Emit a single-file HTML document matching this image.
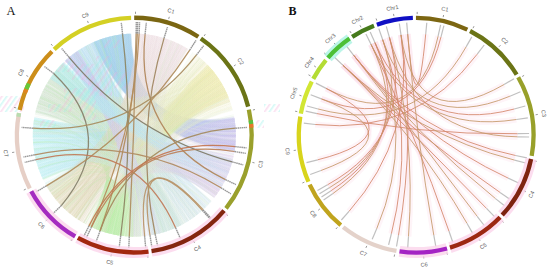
<!DOCTYPE html>
<html><head><meta charset="utf-8"><style>
html,body{margin:0;padding:0;background:#fff;width:550px;height:270px;overflow:hidden;}
svg{display:block;font-family:"Liberation Sans",sans-serif;}
</style></head><body>
<svg width="550" height="270" viewBox="0 0 550 270">
<rect width="550" height="270" fill="#fff"/>
<defs>
<linearGradient id="g0" gradientUnits="userSpaceOnUse" x1="111.5" y1="36.2" x2="235.8" y2="135.1"><stop offset="0" stop-color="#98cce8"/><stop offset="1" stop-color="#c8c4ec"/></linearGradient>
<linearGradient id="g1" gradientUnits="userSpaceOnUse" x1="78.3" y1="50.5" x2="198.9" y2="213.4"><stop offset="0" stop-color="#9ed0ea"/><stop offset="1" stop-color="#d0e4ee"/></linearGradient>
<linearGradient id="g2" gradientUnits="userSpaceOnUse" x1="45.5" y1="85.9" x2="167.3" y2="231.1"><stop offset="0" stop-color="#c4dcc4"/><stop offset="1" stop-color="#c8e2de"/></linearGradient>
<linearGradient id="g3" gradientUnits="userSpaceOnUse" x1="33.8" y1="149.2" x2="225.9" y2="178.8"><stop offset="0" stop-color="#a4eaf0"/><stop offset="1" stop-color="#dcc8e8"/></linearGradient>
<linearGradient id="g4" gradientUnits="userSpaceOnUse" x1="163.1" y1="37.8" x2="61.3" y2="205.6"><stop offset="0" stop-color="#ecd6dc"/><stop offset="1" stop-color="#dcd6b4"/></linearGradient>
<linearGradient id="g5" gradientUnits="userSpaceOnUse" x1="219.4" y1="79.8" x2="114.9" y2="234.7"><stop offset="0" stop-color="#ece894"/><stop offset="1" stop-color="#bcecaa"/></linearGradient>
<linearGradient id="g6" gradientUnits="userSpaceOnUse" x1="218.4" y1="78.3" x2="114.9" y2="234.7"><stop offset="0" stop-color="#f0eccc"/><stop offset="1" stop-color="#d4ecc4"/></linearGradient>
<linearGradient id="g7" gradientUnits="userSpaceOnUse" x1="114.1" y1="234.6" x2="130.8" y2="236.5"><stop offset="0" stop-color="#b4eca4"/><stop offset="1" stop-color="#d8eccc"/></linearGradient>
<linearGradient id="g8" gradientUnits="userSpaceOnUse" x1="59.5" y1="203.7" x2="222.2" y2="84.3"><stop offset="0" stop-color="#dcd6b0"/><stop offset="1" stop-color="#ece8c0"/></linearGradient>
<linearGradient id="g9" gradientUnits="userSpaceOnUse" x1="164.0" y1="38.0" x2="181.2" y2="225.1"><stop offset="0" stop-color="#e6dade"/><stop offset="1" stop-color="#d8e6e2"/></linearGradient>
<linearGradient id="g10" gradientUnits="userSpaceOnUse" x1="97.9" y1="40.3" x2="39.5" y2="171.5"><stop offset="0" stop-color="#b0d8ec"/><stop offset="1" stop-color="#c8eef0"/></linearGradient>
<linearGradient id="g11" gradientUnits="userSpaceOnUse" x1="233.2" y1="157.9" x2="79.0" y2="220.2"><stop offset="0" stop-color="#e0d0ec"/><stop offset="1" stop-color="#e8dcc8"/></linearGradient>
<linearGradient id="g12" gradientUnits="userSpaceOnUse" x1="182.0" y1="224.7" x2="33.6" y2="147.5"><stop offset="0" stop-color="#d4e6dc"/><stop offset="1" stop-color="#c4ecf0"/></linearGradient>
<linearGradient id="g13" gradientUnits="userSpaceOnUse" x1="219.9" y1="80.6" x2="35.8" y2="110.5"><stop offset="0" stop-color="#eeeab8"/><stop offset="1" stop-color="#d8e4d4"/></linearGradient>
<linearGradient id="g14" gradientUnits="userSpaceOnUse" x1="46.4" y1="84.3" x2="217.4" y2="76.9"><stop offset="0" stop-color="#d0e0cc"/><stop offset="1" stop-color="#eeeab8"/></linearGradient>
<linearGradient id="g15" gradientUnits="userSpaceOnUse" x1="71.1" y1="55.7" x2="145.8" y2="235.9"><stop offset="0" stop-color="#c8c0ec"/><stop offset="1" stop-color="#dcd8f0"/></linearGradient>
<linearGradient id="g16" gradientUnits="userSpaceOnUse" x1="56.5" y1="69.9" x2="227.7" y2="174.8"><stop offset="0" stop-color="#a8ecf0"/><stop offset="1" stop-color="#d0e0f4"/></linearGradient>
<pattern id="jp" patternUnits="userSpaceOnUse" width="8" height="8" patternTransform="rotate(35)"><rect width="8" height="8" fill="none"/><rect x="0" y="0" width="1.6" height="8" fill="#f4a8d8"/><rect x="4" y="0" width="1.6" height="8" fill="#88f0e8"/></pattern>
<clipPath id="cA"><circle cx="134.3" cy="135.1" r="101"/></clipPath>
</defs>
<g fill="none" stroke-linecap="butt">
<path d="M93.1,42.4Q134.3,135.1 234.6,150.8" stroke="url(#g0)" stroke-width="1.3" stroke-opacity="0.16"/>
<path d="M93.3,42.3Q134.3,135.1 234.4,151.8" stroke="url(#g0)" stroke-width="0.7" stroke-opacity="0.23"/>
<path d="M93.4,42.2Q134.3,135.1 234.4,152.0" stroke="url(#g0)" stroke-width="0.7" stroke-opacity="0.16"/>
<path d="M93.6,42.1Q134.3,135.1 234.0,153.9" stroke="url(#g0)" stroke-width="0.7" stroke-opacity="0.18"/>
<path d="M93.8,42.0Q134.3,135.1 234.0,154.3" stroke="url(#g0)" stroke-width="1.2" stroke-opacity="0.21"/>
<path d="M94.0,41.9Q134.3,135.1 234.8,149.4" stroke="url(#g0)" stroke-width="1.5" stroke-opacity="0.19"/>
<path d="M94.0,41.9Q134.3,135.1 234.7,149.7" stroke="url(#g0)" stroke-width="0.9" stroke-opacity="0.27"/>
<path d="M94.2,41.9Q134.3,135.1 234.4,152.0" stroke="url(#g0)" stroke-width="1.2" stroke-opacity="0.21"/>
<path d="M94.4,41.8Q134.3,135.1 234.8,149.0" stroke="url(#g0)" stroke-width="0.7" stroke-opacity="0.18"/>
<path d="M94.6,41.7Q134.3,135.1 234.6,150.8" stroke="url(#g0)" stroke-width="0.9" stroke-opacity="0.24"/>
<path d="M94.7,41.6Q134.3,135.1 234.7,150.0" stroke="url(#g0)" stroke-width="1.4" stroke-opacity="0.25"/>
<path d="M94.9,41.6Q134.3,135.1 234.5,151.3" stroke="url(#g0)" stroke-width="1.1" stroke-opacity="0.28"/>
<path d="M95.1,41.5Q134.3,135.1 234.8,149.6" stroke="url(#g0)" stroke-width="1.6" stroke-opacity="0.17"/>
<path d="M95.2,41.4Q134.3,135.1 234.4,151.9" stroke="url(#g0)" stroke-width="0.8" stroke-opacity="0.22"/>
<path d="M95.3,41.4Q134.3,135.1 234.5,151.3" stroke="url(#g0)" stroke-width="1.4" stroke-opacity="0.24"/>
<path d="M95.6,41.2Q134.3,135.1 234.8,149.2" stroke="url(#g0)" stroke-width="1.3" stroke-opacity="0.24"/>
<path d="M95.8,41.2Q134.3,135.1 234.7,149.8" stroke="url(#g0)" stroke-width="1.4" stroke-opacity="0.29"/>
<path d="M95.9,41.1Q134.3,135.1 234.6,150.8" stroke="url(#g0)" stroke-width="0.7" stroke-opacity="0.26"/>
<path d="M96.1,41.1Q134.3,135.1 234.3,152.3" stroke="url(#g0)" stroke-width="1.4" stroke-opacity="0.19"/>
<path d="M96.2,41.0Q134.3,135.1 234.6,150.5" stroke="url(#g0)" stroke-width="0.6" stroke-opacity="0.22"/>
<path d="M96.4,41.0Q134.3,135.1 235.0,147.4" stroke="url(#g0)" stroke-width="0.7" stroke-opacity="0.27"/>
<path d="M96.5,40.9Q134.3,135.1 235.0,148.0" stroke="url(#g0)" stroke-width="1.0" stroke-opacity="0.28"/>
<path d="M96.7,40.8Q134.3,135.1 234.9,148.9" stroke="url(#g0)" stroke-width="1.1" stroke-opacity="0.28"/>
<path d="M97.0,40.7Q134.3,135.1 234.6,150.8" stroke="url(#g0)" stroke-width="0.9" stroke-opacity="0.21"/>
<path d="M97.1,40.7Q134.3,135.1 234.6,150.8" stroke="url(#g0)" stroke-width="1.6" stroke-opacity="0.17"/>
<path d="M97.2,40.6Q134.3,135.1 235.1,147.2" stroke="url(#g0)" stroke-width="0.8" stroke-opacity="0.22"/>
<path d="M97.4,40.5Q134.3,135.1 235.1,147.2" stroke="url(#g0)" stroke-width="0.6" stroke-opacity="0.21"/>
<path d="M97.6,40.5Q134.3,135.1 234.9,148.6" stroke="url(#g0)" stroke-width="1.6" stroke-opacity="0.25"/>
<path d="M97.8,40.4Q134.3,135.1 234.9,148.7" stroke="url(#g0)" stroke-width="1.3" stroke-opacity="0.16"/>
<path d="M98.0,40.3Q134.3,135.1 234.8,149.4" stroke="url(#g0)" stroke-width="1.5" stroke-opacity="0.27"/>
<path d="M98.1,40.3Q134.3,135.1 235.1,147.3" stroke="url(#g0)" stroke-width="0.7" stroke-opacity="0.25"/>
<path d="M98.2,40.2Q134.3,135.1 235.3,145.4" stroke="url(#g0)" stroke-width="0.8" stroke-opacity="0.17"/>
<path d="M98.4,40.2Q134.3,135.1 235.3,145.1" stroke="url(#g0)" stroke-width="0.6" stroke-opacity="0.17"/>
<path d="M98.5,40.1Q134.3,135.1 235.1,146.6" stroke="url(#g0)" stroke-width="0.6" stroke-opacity="0.28"/>
<path d="M98.8,40.0Q134.3,135.1 235.3,145.3" stroke="url(#g0)" stroke-width="0.9" stroke-opacity="0.20"/>
<path d="M98.9,40.0Q134.3,135.1 235.3,145.0" stroke="url(#g0)" stroke-width="1.4" stroke-opacity="0.30"/>
<path d="M99.1,39.9Q134.3,135.1 235.1,146.7" stroke="url(#g0)" stroke-width="0.7" stroke-opacity="0.17"/>
<path d="M99.3,39.8Q134.3,135.1 235.3,145.4" stroke="url(#g0)" stroke-width="1.4" stroke-opacity="0.17"/>
<path d="M99.4,39.8Q134.3,135.1 234.9,148.9" stroke="url(#g0)" stroke-width="1.1" stroke-opacity="0.17"/>
<path d="M99.6,39.7Q134.3,135.1 235.4,143.8" stroke="url(#g0)" stroke-width="1.1" stroke-opacity="0.30"/>
<path d="M99.9,39.6Q134.3,135.1 235.1,147.1" stroke="url(#g0)" stroke-width="0.9" stroke-opacity="0.21"/>
<path d="M99.9,39.6Q134.3,135.1 235.0,147.5" stroke="url(#g0)" stroke-width="1.1" stroke-opacity="0.27"/>
<path d="M100.1,39.5Q134.3,135.1 235.4,144.4" stroke="url(#g0)" stroke-width="1.4" stroke-opacity="0.30"/>
<path d="M100.4,39.4Q134.3,135.1 235.1,147.2" stroke="url(#g0)" stroke-width="1.4" stroke-opacity="0.26"/>
<path d="M100.4,39.4Q134.3,135.1 235.3,145.6" stroke="url(#g0)" stroke-width="1.0" stroke-opacity="0.15"/>
<path d="M100.6,39.4Q134.3,135.1 235.4,144.2" stroke="url(#g0)" stroke-width="0.9" stroke-opacity="0.25"/>
<path d="M100.9,39.3Q134.3,135.1 235.3,144.8" stroke="url(#g0)" stroke-width="1.5" stroke-opacity="0.30"/>
<path d="M101.1,39.2Q134.3,135.1 235.4,144.2" stroke="url(#g0)" stroke-width="0.8" stroke-opacity="0.18"/>
<path d="M101.1,39.2Q134.3,135.1 235.5,143.3" stroke="url(#g0)" stroke-width="1.2" stroke-opacity="0.29"/>
<path d="M101.4,39.1Q134.3,135.1 235.4,144.5" stroke="url(#g0)" stroke-width="1.3" stroke-opacity="0.27"/>
<path d="M101.4,39.1Q134.3,135.1 235.3,145.4" stroke="url(#g0)" stroke-width="1.5" stroke-opacity="0.27"/>
<path d="M101.7,39.0Q134.3,135.1 235.4,144.2" stroke="url(#g0)" stroke-width="0.8" stroke-opacity="0.27"/>
<path d="M101.8,38.9Q134.3,135.1 235.2,145.8" stroke="url(#g0)" stroke-width="1.6" stroke-opacity="0.21"/>
<path d="M102.0,38.9Q134.3,135.1 235.2,146.4" stroke="url(#g0)" stroke-width="1.3" stroke-opacity="0.18"/>
<path d="M102.1,38.8Q134.3,135.1 235.6,142.1" stroke="url(#g0)" stroke-width="1.5" stroke-opacity="0.27"/>
<path d="M102.3,38.8Q134.3,135.1 235.3,145.5" stroke="url(#g0)" stroke-width="1.6" stroke-opacity="0.25"/>
<path d="M102.5,38.7Q134.3,135.1 235.4,143.8" stroke="url(#g0)" stroke-width="0.7" stroke-opacity="0.15"/>
<path d="M102.8,38.6Q134.3,135.1 235.4,144.1" stroke="url(#g0)" stroke-width="1.1" stroke-opacity="0.29"/>
<path d="M102.9,38.6Q134.3,135.1 235.3,145.2" stroke="url(#g0)" stroke-width="1.4" stroke-opacity="0.18"/>
<path d="M103.0,38.5Q134.3,135.1 235.6,142.0" stroke="url(#g0)" stroke-width="0.8" stroke-opacity="0.24"/>
<path d="M103.2,38.5Q134.3,135.1 235.5,142.5" stroke="url(#g0)" stroke-width="0.7" stroke-opacity="0.29"/>
<path d="M103.4,38.4Q134.3,135.1 235.5,142.5" stroke="url(#g0)" stroke-width="1.2" stroke-opacity="0.29"/>
<path d="M103.5,38.4Q134.3,135.1 235.3,144.8" stroke="url(#g0)" stroke-width="1.1" stroke-opacity="0.23"/>
<path d="M103.7,38.3Q134.3,135.1 235.7,139.8" stroke="url(#g0)" stroke-width="1.0" stroke-opacity="0.18"/>
<path d="M103.8,38.3Q134.3,135.1 235.4,143.9" stroke="url(#g0)" stroke-width="0.8" stroke-opacity="0.22"/>
<path d="M104.1,38.2Q134.3,135.1 235.5,142.3" stroke="url(#g0)" stroke-width="0.9" stroke-opacity="0.23"/>
<path d="M104.2,38.2Q134.3,135.1 235.5,143.4" stroke="url(#g0)" stroke-width="0.7" stroke-opacity="0.23"/>
<path d="M104.4,38.1Q134.3,135.1 235.7,140.6" stroke="url(#g0)" stroke-width="1.4" stroke-opacity="0.23"/>
<path d="M104.6,38.0Q134.3,135.1 235.5,142.9" stroke="url(#g0)" stroke-width="1.5" stroke-opacity="0.22"/>
<path d="M104.8,38.0Q134.3,135.1 235.6,141.4" stroke="url(#g0)" stroke-width="1.1" stroke-opacity="0.25"/>
<path d="M104.9,37.9Q134.3,135.1 235.6,141.4" stroke="url(#g0)" stroke-width="1.1" stroke-opacity="0.29"/>
<path d="M105.1,37.9Q134.3,135.1 235.5,143.0" stroke="url(#g0)" stroke-width="1.5" stroke-opacity="0.19"/>
<path d="M105.3,37.8Q134.3,135.1 235.5,143.3" stroke="url(#g0)" stroke-width="1.4" stroke-opacity="0.17"/>
<path d="M105.4,37.8Q134.3,135.1 235.7,140.5" stroke="url(#g0)" stroke-width="0.7" stroke-opacity="0.19"/>
<path d="M105.5,37.8Q134.3,135.1 235.6,141.6" stroke="url(#g0)" stroke-width="1.4" stroke-opacity="0.28"/>
<path d="M105.7,37.7Q134.3,135.1 235.6,141.6" stroke="url(#g0)" stroke-width="1.3" stroke-opacity="0.17"/>
<path d="M106.0,37.6Q134.3,135.1 235.5,142.7" stroke="url(#g0)" stroke-width="0.8" stroke-opacity="0.29"/>
<path d="M106.1,37.6Q134.3,135.1 235.7,140.0" stroke="url(#g0)" stroke-width="1.6" stroke-opacity="0.27"/>
<path d="M106.3,37.6Q134.3,135.1 235.7,139.6" stroke="url(#g0)" stroke-width="1.1" stroke-opacity="0.20"/>
<path d="M106.4,37.5Q134.3,135.1 235.7,138.9" stroke="url(#g0)" stroke-width="1.3" stroke-opacity="0.15"/>
<path d="M106.7,37.4Q134.3,135.1 235.7,139.3" stroke="url(#g0)" stroke-width="0.6" stroke-opacity="0.20"/>
<path d="M106.9,37.4Q134.3,135.1 235.7,139.5" stroke="url(#g0)" stroke-width="0.7" stroke-opacity="0.30"/>
<path d="M107.1,37.3Q134.3,135.1 235.6,141.7" stroke="url(#g0)" stroke-width="0.7" stroke-opacity="0.19"/>
<path d="M107.1,37.3Q134.3,135.1 235.6,140.7" stroke="url(#g0)" stroke-width="0.9" stroke-opacity="0.17"/>
<path d="M107.3,37.2Q134.3,135.1 235.6,141.2" stroke="url(#g0)" stroke-width="1.4" stroke-opacity="0.19"/>
<path d="M107.5,37.2Q134.3,135.1 235.6,141.1" stroke="url(#g0)" stroke-width="1.2" stroke-opacity="0.26"/>
<path d="M107.6,37.2Q134.3,135.1 235.8,136.3" stroke="url(#g0)" stroke-width="1.3" stroke-opacity="0.21"/>
<path d="M107.8,37.1Q134.3,135.1 235.6,140.9" stroke="url(#g0)" stroke-width="1.2" stroke-opacity="0.27"/>
<path d="M108.0,37.1Q134.3,135.1 235.7,140.3" stroke="url(#g0)" stroke-width="0.7" stroke-opacity="0.28"/>
<path d="M108.2,37.0Q134.3,135.1 235.8,137.3" stroke="url(#g0)" stroke-width="1.2" stroke-opacity="0.29"/>
<path d="M108.4,37.0Q134.3,135.1 235.8,136.0" stroke="url(#g0)" stroke-width="1.1" stroke-opacity="0.19"/>
<path d="M108.5,36.9Q134.3,135.1 235.8,136.1" stroke="url(#g0)" stroke-width="0.7" stroke-opacity="0.18"/>
<path d="M108.7,36.9Q134.3,135.1 235.8,136.6" stroke="url(#g0)" stroke-width="1.4" stroke-opacity="0.19"/>
<path d="M108.9,36.8Q134.3,135.1 235.8,135.8" stroke="url(#g0)" stroke-width="0.9" stroke-opacity="0.15"/>
<path d="M109.1,36.8Q134.3,135.1 235.8,134.8" stroke="url(#g0)" stroke-width="1.3" stroke-opacity="0.23"/>
<path d="M109.2,36.7Q134.3,135.1 235.8,137.1" stroke="url(#g0)" stroke-width="1.5" stroke-opacity="0.17"/>
<path d="M109.5,36.7Q134.3,135.1 235.8,136.6" stroke="url(#g0)" stroke-width="1.1" stroke-opacity="0.28"/>
<path d="M109.6,36.6Q134.3,135.1 235.8,136.9" stroke="url(#g0)" stroke-width="1.3" stroke-opacity="0.30"/>
<path d="M109.8,36.6Q134.3,135.1 235.7,138.4" stroke="url(#g0)" stroke-width="1.3" stroke-opacity="0.25"/>
<path d="M110.0,36.6Q134.3,135.1 235.8,135.7" stroke="url(#g0)" stroke-width="0.7" stroke-opacity="0.17"/>
<path d="M110.1,36.5Q134.3,135.1 235.8,137.7" stroke="url(#g0)" stroke-width="0.9" stroke-opacity="0.17"/>
<path d="M110.3,36.5Q134.3,135.1 235.8,138.0" stroke="url(#g0)" stroke-width="1.5" stroke-opacity="0.25"/>
<path d="M110.5,36.4Q134.3,135.1 235.8,134.7" stroke="url(#g0)" stroke-width="0.9" stroke-opacity="0.22"/>
<path d="M110.6,36.4Q134.3,135.1 235.8,135.6" stroke="url(#g0)" stroke-width="0.9" stroke-opacity="0.29"/>
<path d="M110.9,36.3Q134.3,135.1 235.8,135.8" stroke="url(#g0)" stroke-width="0.8" stroke-opacity="0.29"/>
<path d="M111.0,36.3Q134.3,135.1 235.8,134.8" stroke="url(#g0)" stroke-width="0.6" stroke-opacity="0.21"/>
<path d="M111.2,36.3Q134.3,135.1 235.8,135.4" stroke="url(#g0)" stroke-width="0.8" stroke-opacity="0.23"/>
<path d="M111.3,36.2Q134.3,135.1 235.8,134.0" stroke="url(#g0)" stroke-width="0.7" stroke-opacity="0.21"/>
<path d="M111.5,36.2Q134.3,135.1 235.8,132.6" stroke="url(#g0)" stroke-width="0.9" stroke-opacity="0.18"/>
<path d="M111.7,36.1Q134.3,135.1 235.8,135.0" stroke="url(#g0)" stroke-width="1.4" stroke-opacity="0.25"/>
<path d="M111.9,36.1Q134.3,135.1 235.8,136.7" stroke="url(#g0)" stroke-width="1.0" stroke-opacity="0.20"/>
<path d="M112.2,36.0Q134.3,135.1 235.8,132.6" stroke="url(#g0)" stroke-width="1.3" stroke-opacity="0.25"/>
<path d="M112.2,36.0Q134.3,135.1 235.8,136.2" stroke="url(#g0)" stroke-width="1.5" stroke-opacity="0.24"/>
<path d="M112.5,36.0Q134.3,135.1 235.8,135.8" stroke="url(#g0)" stroke-width="0.7" stroke-opacity="0.23"/>
<path d="M112.6,35.9Q134.3,135.1 235.8,135.8" stroke="url(#g0)" stroke-width="1.4" stroke-opacity="0.27"/>
<path d="M112.8,35.9Q134.3,135.1 235.8,135.9" stroke="url(#g0)" stroke-width="1.3" stroke-opacity="0.25"/>
<path d="M112.9,35.9Q134.3,135.1 235.7,131.3" stroke="url(#g0)" stroke-width="0.7" stroke-opacity="0.20"/>
<path d="M113.1,35.8Q134.3,135.1 235.8,135.4" stroke="url(#g0)" stroke-width="1.2" stroke-opacity="0.24"/>
<path d="M113.3,35.8Q134.3,135.1 235.8,134.3" stroke="url(#g0)" stroke-width="1.1" stroke-opacity="0.15"/>
<path d="M113.5,35.7Q134.3,135.1 235.8,134.5" stroke="url(#g0)" stroke-width="1.1" stroke-opacity="0.23"/>
<path d="M113.7,35.7Q134.3,135.1 235.7,130.7" stroke="url(#g0)" stroke-width="1.3" stroke-opacity="0.19"/>
<path d="M113.8,35.7Q134.3,135.1 235.7,131.7" stroke="url(#g0)" stroke-width="1.3" stroke-opacity="0.18"/>
<path d="M114.1,35.6Q134.3,135.1 235.8,135.2" stroke="url(#g0)" stroke-width="1.1" stroke-opacity="0.21"/>
<path d="M114.2,35.6Q134.3,135.1 235.8,133.5" stroke="url(#g0)" stroke-width="1.4" stroke-opacity="0.24"/>
<path d="M114.4,35.6Q134.3,135.1 235.7,130.1" stroke="url(#g0)" stroke-width="0.7" stroke-opacity="0.19"/>
<path d="M114.6,35.5Q134.3,135.1 235.7,131.2" stroke="url(#g0)" stroke-width="1.2" stroke-opacity="0.15"/>
<path d="M114.7,35.5Q134.3,135.1 235.7,130.9" stroke="url(#g0)" stroke-width="1.3" stroke-opacity="0.25"/>
<path d="M114.9,35.5Q134.3,135.1 235.7,130.8" stroke="url(#g0)" stroke-width="1.1" stroke-opacity="0.22"/>
<path d="M115.1,35.4Q134.3,135.1 235.7,129.7" stroke="url(#g0)" stroke-width="1.5" stroke-opacity="0.18"/>
<path d="M115.3,35.4Q134.3,135.1 235.8,133.8" stroke="url(#g0)" stroke-width="0.6" stroke-opacity="0.22"/>
<path d="M115.5,35.4Q134.3,135.1 235.8,133.8" stroke="url(#g0)" stroke-width="1.0" stroke-opacity="0.19"/>
<path d="M115.6,35.3Q134.3,135.1 235.8,133.7" stroke="url(#g0)" stroke-width="0.8" stroke-opacity="0.24"/>
<path d="M115.7,35.3Q134.3,135.1 235.7,131.3" stroke="url(#g0)" stroke-width="1.6" stroke-opacity="0.17"/>
<path d="M116.0,35.3Q134.3,135.1 235.7,130.9" stroke="url(#g0)" stroke-width="1.5" stroke-opacity="0.26"/>
<path d="M116.1,35.2Q134.3,135.1 235.8,132.9" stroke="url(#g0)" stroke-width="1.1" stroke-opacity="0.15"/>
<path d="M116.2,35.2Q134.3,135.1 235.7,130.6" stroke="url(#g0)" stroke-width="1.1" stroke-opacity="0.20"/>
<path d="M116.4,35.2Q134.3,135.1 235.7,129.7" stroke="url(#g0)" stroke-width="0.9" stroke-opacity="0.28"/>
<path d="M116.6,35.2Q134.3,135.1 235.7,131.7" stroke="url(#g0)" stroke-width="1.4" stroke-opacity="0.17"/>
<path d="M116.9,35.1Q134.3,135.1 235.7,131.2" stroke="url(#g0)" stroke-width="1.5" stroke-opacity="0.19"/>
<path d="M117.0,35.1Q134.3,135.1 235.6,129.4" stroke="url(#g0)" stroke-width="1.6" stroke-opacity="0.24"/>
<path d="M117.2,35.1Q134.3,135.1 235.6,129.4" stroke="url(#g0)" stroke-width="0.9" stroke-opacity="0.16"/>
<path d="M117.3,35.0Q134.3,135.1 235.7,131.4" stroke="url(#g0)" stroke-width="0.9" stroke-opacity="0.29"/>
<path d="M117.5,35.0Q134.3,135.1 235.6,128.2" stroke="url(#g0)" stroke-width="1.1" stroke-opacity="0.18"/>
<path d="M117.7,35.0Q134.3,135.1 235.7,131.7" stroke="url(#g0)" stroke-width="1.5" stroke-opacity="0.27"/>
<path d="M118.0,34.9Q134.3,135.1 235.7,131.3" stroke="url(#g0)" stroke-width="1.5" stroke-opacity="0.23"/>
<path d="M118.1,34.9Q134.3,135.1 235.4,126.5" stroke="url(#g0)" stroke-width="1.3" stroke-opacity="0.22"/>
<path d="M118.3,34.9Q134.3,135.1 235.6,129.5" stroke="url(#g0)" stroke-width="0.9" stroke-opacity="0.16"/>
<path d="M118.5,34.8Q134.3,135.1 235.4,126.6" stroke="url(#g0)" stroke-width="1.1" stroke-opacity="0.20"/>
<path d="M118.6,34.8Q134.3,135.1 235.7,129.8" stroke="url(#g0)" stroke-width="1.6" stroke-opacity="0.19"/>
<path d="M118.8,34.8Q134.3,135.1 235.5,127.2" stroke="url(#g0)" stroke-width="1.2" stroke-opacity="0.21"/>
<path d="M118.9,34.8Q134.3,135.1 235.4,126.4" stroke="url(#g0)" stroke-width="0.8" stroke-opacity="0.29"/>
<path d="M119.2,34.7Q134.3,135.1 235.4,126.5" stroke="url(#g0)" stroke-width="1.5" stroke-opacity="0.30"/>
<path d="M119.3,34.7Q134.3,135.1 235.4,125.9" stroke="url(#g0)" stroke-width="0.8" stroke-opacity="0.16"/>
<path d="M119.5,34.7Q134.3,135.1 235.3,125.5" stroke="url(#g0)" stroke-width="0.8" stroke-opacity="0.19"/>
<path d="M119.7,34.7Q134.3,135.1 235.6,129.5" stroke="url(#g0)" stroke-width="1.3" stroke-opacity="0.21"/>
<path d="M119.9,34.6Q134.3,135.1 235.5,127.5" stroke="url(#g0)" stroke-width="1.0" stroke-opacity="0.20"/>
<path d="M120.0,34.6Q134.3,135.1 235.4,126.0" stroke="url(#g0)" stroke-width="1.6" stroke-opacity="0.17"/>
<path d="M120.2,34.6Q134.3,135.1 235.5,127.7" stroke="url(#g0)" stroke-width="1.5" stroke-opacity="0.18"/>
<path d="M120.4,34.6Q134.3,135.1 235.3,125.5" stroke="url(#g0)" stroke-width="1.0" stroke-opacity="0.22"/>
<path d="M120.7,34.5Q134.3,135.1 235.6,128.4" stroke="url(#g0)" stroke-width="1.5" stroke-opacity="0.15"/>
<path d="M120.7,34.5Q134.3,135.1 235.5,127.7" stroke="url(#g0)" stroke-width="1.5" stroke-opacity="0.22"/>
<path d="M121.0,34.5Q134.3,135.1 235.2,123.7" stroke="url(#g0)" stroke-width="1.0" stroke-opacity="0.29"/>
<path d="M121.2,34.4Q134.3,135.1 235.6,128.0" stroke="url(#g0)" stroke-width="1.6" stroke-opacity="0.19"/>
<path d="M121.3,34.4Q134.3,135.1 235.2,124.2" stroke="url(#g0)" stroke-width="1.1" stroke-opacity="0.25"/>
<path d="M121.6,34.4Q134.3,135.1 235.5,126.9" stroke="url(#g0)" stroke-width="1.2" stroke-opacity="0.26"/>
<path d="M121.7,34.4Q134.3,135.1 235.4,126.0" stroke="url(#g0)" stroke-width="0.6" stroke-opacity="0.27"/>
<path d="M121.8,34.4Q134.3,135.1 235.5,127.8" stroke="url(#g0)" stroke-width="1.2" stroke-opacity="0.20"/>
<path d="M122.0,34.4Q134.3,135.1 235.2,124.1" stroke="url(#g0)" stroke-width="1.2" stroke-opacity="0.25"/>
<path d="M122.1,34.3Q134.3,135.1 235.1,123.0" stroke="url(#g0)" stroke-width="1.1" stroke-opacity="0.24"/>
<path d="M122.4,34.3Q134.3,135.1 235.1,123.6" stroke="url(#g0)" stroke-width="1.2" stroke-opacity="0.15"/>
<path d="M122.5,34.3Q134.3,135.1 235.3,124.7" stroke="url(#g0)" stroke-width="1.6" stroke-opacity="0.25"/>
<path d="M122.8,34.3Q134.3,135.1 235.2,124.5" stroke="url(#g0)" stroke-width="0.8" stroke-opacity="0.19"/>
<path d="M123.0,34.2Q134.3,135.1 235.3,125.5" stroke="url(#g0)" stroke-width="0.9" stroke-opacity="0.15"/>
<path d="M123.1,34.2Q134.3,135.1 235.3,125.3" stroke="url(#g0)" stroke-width="1.0" stroke-opacity="0.19"/>
<path d="M123.3,34.2Q134.3,135.1 235.4,126.4" stroke="url(#g0)" stroke-width="0.8" stroke-opacity="0.16"/>
<path d="M123.4,34.2Q134.3,135.1 235.2,123.7" stroke="url(#g0)" stroke-width="1.3" stroke-opacity="0.18"/>
<path d="M123.7,34.2Q134.3,135.1 235.3,125.1" stroke="url(#g0)" stroke-width="1.1" stroke-opacity="0.18"/>
<path d="M123.9,34.1Q134.3,135.1 235.0,122.7" stroke="url(#g0)" stroke-width="1.4" stroke-opacity="0.18"/>
<path d="M124.0,34.1Q134.3,135.1 235.3,125.0" stroke="url(#g0)" stroke-width="0.9" stroke-opacity="0.29"/>
<path d="M124.2,34.1Q134.3,135.1 234.9,121.7" stroke="url(#g0)" stroke-width="0.8" stroke-opacity="0.21"/>
<path d="M124.4,34.1Q134.3,135.1 235.4,125.6" stroke="url(#g0)" stroke-width="0.7" stroke-opacity="0.21"/>
<path d="M124.5,34.1Q134.3,135.1 235.4,125.6" stroke="url(#g0)" stroke-width="0.7" stroke-opacity="0.16"/>
<path d="M124.6,34.1Q134.3,135.1 235.0,122.4" stroke="url(#g0)" stroke-width="1.5" stroke-opacity="0.28"/>
<path d="M124.9,34.0Q134.3,135.1 235.3,125.3" stroke="url(#g0)" stroke-width="1.5" stroke-opacity="0.20"/>
<path d="M125.0,34.0Q134.3,135.1 235.3,124.9" stroke="url(#g0)" stroke-width="1.3" stroke-opacity="0.15"/>
<path d="M125.3,34.0Q134.3,135.1 234.9,121.8" stroke="url(#g0)" stroke-width="1.0" stroke-opacity="0.20"/>
<path d="M125.4,34.0Q134.3,135.1 234.6,119.7" stroke="url(#g0)" stroke-width="0.9" stroke-opacity="0.20"/>
<path d="M125.7,34.0Q134.3,135.1 234.7,120.0" stroke="url(#g0)" stroke-width="1.6" stroke-opacity="0.18"/>
<path d="M125.8,34.0Q134.3,135.1 235.2,123.7" stroke="url(#g0)" stroke-width="1.4" stroke-opacity="0.21"/>
<path d="M125.9,33.9Q134.3,135.1 234.9,121.7" stroke="url(#g0)" stroke-width="1.0" stroke-opacity="0.29"/>
<path d="M126.1,33.9Q134.3,135.1 234.8,120.9" stroke="url(#g0)" stroke-width="1.5" stroke-opacity="0.15"/>
<path d="M126.3,33.9Q134.3,135.1 235.1,123.1" stroke="url(#g0)" stroke-width="1.4" stroke-opacity="0.16"/>
<path d="M126.4,33.9Q134.3,135.1 234.5,119.1" stroke="url(#g0)" stroke-width="1.5" stroke-opacity="0.19"/>
<path d="M126.7,33.9Q134.3,135.1 235.1,123.2" stroke="url(#g0)" stroke-width="0.9" stroke-opacity="0.19"/>
<path d="M127.0,33.9Q134.3,135.1 234.9,121.5" stroke="url(#g0)" stroke-width="0.9" stroke-opacity="0.26"/>
<path d="M127.0,33.9Q134.3,135.1 234.6,119.6" stroke="url(#g0)" stroke-width="0.6" stroke-opacity="0.26"/>
<path d="M127.3,33.8Q134.3,135.1 234.9,121.3" stroke="url(#g0)" stroke-width="1.5" stroke-opacity="0.15"/>
<path d="M127.4,33.8Q134.3,135.1 234.7,120.4" stroke="url(#g0)" stroke-width="1.6" stroke-opacity="0.29"/>
<path d="M127.6,33.8Q134.3,135.1 234.5,119.0" stroke="url(#g0)" stroke-width="1.0" stroke-opacity="0.22"/>
<path d="M127.9,33.8Q134.3,135.1 234.4,118.4" stroke="url(#g0)" stroke-width="1.4" stroke-opacity="0.26"/>
<path d="M128.0,33.8Q134.3,135.1 234.9,121.4" stroke="url(#g0)" stroke-width="1.2" stroke-opacity="0.20"/>
<path d="M128.1,33.8Q134.3,135.1 234.5,119.1" stroke="url(#g0)" stroke-width="1.4" stroke-opacity="0.16"/>
<path d="M128.3,33.8Q134.3,135.1 234.8,121.0" stroke="url(#g0)" stroke-width="0.8" stroke-opacity="0.16"/>
<path d="M128.4,33.8Q134.3,135.1 234.6,119.8" stroke="url(#g0)" stroke-width="0.9" stroke-opacity="0.30"/>
<path d="M128.8,33.8Q134.3,135.1 234.9,121.8" stroke="url(#g0)" stroke-width="0.9" stroke-opacity="0.16"/>
<path d="M128.8,33.7Q134.3,135.1 234.6,119.2" stroke="url(#g0)" stroke-width="1.3" stroke-opacity="0.22"/>
<path d="M129.0,33.7Q134.3,135.1 234.5,118.6" stroke="url(#g0)" stroke-width="1.2" stroke-opacity="0.25"/>
<path d="M129.3,33.7Q134.3,135.1 234.8,120.6" stroke="url(#g0)" stroke-width="1.3" stroke-opacity="0.17"/>
<path d="M129.5,33.7Q134.3,135.1 234.3,117.6" stroke="url(#g0)" stroke-width="1.2" stroke-opacity="0.21"/>
<path d="M129.6,33.7Q134.3,135.1 234.2,116.9" stroke="url(#g0)" stroke-width="0.8" stroke-opacity="0.19"/>
<path d="M129.7,33.7Q134.3,135.1 234.7,120.4" stroke="url(#g0)" stroke-width="1.2" stroke-opacity="0.20"/>
<path d="M129.9,33.7Q134.3,135.1 234.8,120.8" stroke="url(#g0)" stroke-width="1.1" stroke-opacity="0.18"/>
<path d="M130.2,33.7Q134.3,135.1 234.5,118.8" stroke="url(#g0)" stroke-width="1.6" stroke-opacity="0.17"/>
<path d="M130.3,33.7Q134.3,135.1 234.6,119.6" stroke="url(#g0)" stroke-width="1.4" stroke-opacity="0.29"/>
<path d="M130.4,33.7Q134.3,135.1 234.1,116.7" stroke="url(#g0)" stroke-width="0.7" stroke-opacity="0.18"/>
<path d="M130.8,33.7Q134.3,135.1 234.3,117.9" stroke="url(#g0)" stroke-width="1.5" stroke-opacity="0.21"/>
<path d="M65.2,60.7Q134.3,135.1 185.5,222.7" stroke="url(#g1)" stroke-width="0.9" stroke-opacity="0.18"/>
<path d="M65.5,60.5Q134.3,135.1 187.3,221.7" stroke="url(#g1)" stroke-width="1.2" stroke-opacity="0.16"/>
<path d="M65.5,60.5Q134.3,135.1 186.2,222.3" stroke="url(#g1)" stroke-width="0.7" stroke-opacity="0.12"/>
<path d="M65.7,60.3Q134.3,135.1 185.3,222.8" stroke="url(#g1)" stroke-width="1.3" stroke-opacity="0.12"/>
<path d="M65.9,60.1Q134.3,135.1 186.8,222.0" stroke="url(#g1)" stroke-width="1.3" stroke-opacity="0.12"/>
<path d="M66.1,59.9Q134.3,135.1 187.6,221.5" stroke="url(#g1)" stroke-width="1.4" stroke-opacity="0.15"/>
<path d="M66.3,59.8Q134.3,135.1 188.3,221.1" stroke="url(#g1)" stroke-width="1.0" stroke-opacity="0.16"/>
<path d="M66.6,59.5Q134.3,135.1 188.7,220.8" stroke="url(#g1)" stroke-width="0.8" stroke-opacity="0.17"/>
<path d="M66.7,59.4Q134.3,135.1 188.0,221.3" stroke="url(#g1)" stroke-width="0.9" stroke-opacity="0.20"/>
<path d="M66.9,59.2Q134.3,135.1 186.9,221.9" stroke="url(#g1)" stroke-width="1.0" stroke-opacity="0.14"/>
<path d="M67.2,58.9Q134.3,135.1 185.3,222.9" stroke="url(#g1)" stroke-width="1.0" stroke-opacity="0.12"/>
<path d="M67.4,58.8Q134.3,135.1 189.1,220.6" stroke="url(#g1)" stroke-width="0.6" stroke-opacity="0.19"/>
<path d="M67.5,58.6Q134.3,135.1 186.4,222.2" stroke="url(#g1)" stroke-width="1.0" stroke-opacity="0.19"/>
<path d="M67.7,58.5Q134.3,135.1 189.6,220.2" stroke="url(#g1)" stroke-width="0.6" stroke-opacity="0.16"/>
<path d="M68.0,58.3Q134.3,135.1 186.5,222.1" stroke="url(#g1)" stroke-width="0.7" stroke-opacity="0.16"/>
<path d="M68.1,58.1Q134.3,135.1 188.5,220.9" stroke="url(#g1)" stroke-width="0.7" stroke-opacity="0.13"/>
<path d="M68.4,57.9Q134.3,135.1 186.9,221.9" stroke="url(#g1)" stroke-width="0.7" stroke-opacity="0.15"/>
<path d="M68.6,57.7Q134.3,135.1 187.0,221.8" stroke="url(#g1)" stroke-width="0.8" stroke-opacity="0.11"/>
<path d="M68.9,57.5Q134.3,135.1 187.2,221.7" stroke="url(#g1)" stroke-width="1.1" stroke-opacity="0.11"/>
<path d="M69.1,57.3Q134.3,135.1 190.1,219.9" stroke="url(#g1)" stroke-width="1.5" stroke-opacity="0.16"/>
<path d="M69.2,57.2Q134.3,135.1 191.3,219.1" stroke="url(#g1)" stroke-width="1.4" stroke-opacity="0.12"/>
<path d="M69.4,57.1Q134.3,135.1 188.4,221.0" stroke="url(#g1)" stroke-width="1.4" stroke-opacity="0.12"/>
<path d="M69.5,56.9Q134.3,135.1 190.5,219.6" stroke="url(#g1)" stroke-width="1.1" stroke-opacity="0.14"/>
<path d="M69.7,56.8Q134.3,135.1 191.4,219.0" stroke="url(#g1)" stroke-width="1.3" stroke-opacity="0.19"/>
<path d="M69.9,56.6Q134.3,135.1 190.2,219.8" stroke="url(#g1)" stroke-width="1.4" stroke-opacity="0.10"/>
<path d="M70.3,56.3Q134.3,135.1 192.6,218.2" stroke="url(#g1)" stroke-width="1.2" stroke-opacity="0.16"/>
<path d="M70.4,56.2Q134.3,135.1 191.9,218.7" stroke="url(#g1)" stroke-width="1.0" stroke-opacity="0.16"/>
<path d="M70.6,56.1Q134.3,135.1 190.6,219.6" stroke="url(#g1)" stroke-width="1.0" stroke-opacity="0.14"/>
<path d="M70.7,56.0Q134.3,135.1 190.9,219.4" stroke="url(#g1)" stroke-width="1.1" stroke-opacity="0.12"/>
<path d="M71.1,55.7Q134.3,135.1 190.5,219.6" stroke="url(#g1)" stroke-width="1.1" stroke-opacity="0.12"/>
<path d="M71.2,55.6Q134.3,135.1 193.6,217.4" stroke="url(#g1)" stroke-width="0.7" stroke-opacity="0.14"/>
<path d="M71.4,55.5Q134.3,135.1 192.3,218.4" stroke="url(#g1)" stroke-width="1.1" stroke-opacity="0.10"/>
<path d="M71.7,55.2Q134.3,135.1 194.2,217.0" stroke="url(#g1)" stroke-width="1.3" stroke-opacity="0.18"/>
<path d="M71.9,55.1Q134.3,135.1 194.5,216.8" stroke="url(#g1)" stroke-width="1.1" stroke-opacity="0.14"/>
<path d="M72.2,54.8Q134.3,135.1 194.5,216.8" stroke="url(#g1)" stroke-width="1.5" stroke-opacity="0.20"/>
<path d="M72.4,54.7Q134.3,135.1 191.7,218.8" stroke="url(#g1)" stroke-width="0.8" stroke-opacity="0.20"/>
<path d="M72.5,54.6Q134.3,135.1 191.3,219.1" stroke="url(#g1)" stroke-width="1.5" stroke-opacity="0.12"/>
<path d="M72.8,54.4Q134.3,135.1 191.7,218.8" stroke="url(#g1)" stroke-width="0.7" stroke-opacity="0.14"/>
<path d="M73.0,54.2Q134.3,135.1 195.2,216.3" stroke="url(#g1)" stroke-width="1.5" stroke-opacity="0.13"/>
<path d="M73.2,54.0Q134.3,135.1 195.5,216.1" stroke="url(#g1)" stroke-width="1.1" stroke-opacity="0.19"/>
<path d="M73.3,54.0Q134.3,135.1 195.1,216.4" stroke="url(#g1)" stroke-width="1.1" stroke-opacity="0.13"/>
<path d="M73.5,53.8Q134.3,135.1 195.6,216.0" stroke="url(#g1)" stroke-width="0.8" stroke-opacity="0.19"/>
<path d="M73.8,53.6Q134.3,135.1 192.9,218.0" stroke="url(#g1)" stroke-width="0.8" stroke-opacity="0.18"/>
<path d="M73.9,53.5Q134.3,135.1 194.5,216.8" stroke="url(#g1)" stroke-width="1.2" stroke-opacity="0.14"/>
<path d="M74.3,53.2Q134.3,135.1 194.8,216.6" stroke="url(#g1)" stroke-width="1.2" stroke-opacity="0.19"/>
<path d="M74.4,53.2Q134.3,135.1 193.0,217.9" stroke="url(#g1)" stroke-width="1.2" stroke-opacity="0.14"/>
<path d="M74.7,52.9Q134.3,135.1 196.5,215.3" stroke="url(#g1)" stroke-width="1.6" stroke-opacity="0.16"/>
<path d="M74.8,52.8Q134.3,135.1 194.5,216.9" stroke="url(#g1)" stroke-width="1.0" stroke-opacity="0.12"/>
<path d="M75.1,52.6Q134.3,135.1 197.8,214.3" stroke="url(#g1)" stroke-width="1.4" stroke-opacity="0.13"/>
<path d="M75.3,52.5Q134.3,135.1 194.0,217.2" stroke="url(#g1)" stroke-width="1.2" stroke-opacity="0.17"/>
<path d="M75.5,52.4Q134.3,135.1 198.3,213.9" stroke="url(#g1)" stroke-width="0.6" stroke-opacity="0.11"/>
<path d="M75.8,52.2Q134.3,135.1 196.8,215.1" stroke="url(#g1)" stroke-width="1.1" stroke-opacity="0.19"/>
<path d="M75.9,52.1Q134.3,135.1 197.7,214.3" stroke="url(#g1)" stroke-width="1.3" stroke-opacity="0.10"/>
<path d="M76.1,52.0Q134.3,135.1 197.4,214.6" stroke="url(#g1)" stroke-width="0.7" stroke-opacity="0.14"/>
<path d="M76.3,51.8Q134.3,135.1 196.7,215.2" stroke="url(#g1)" stroke-width="1.2" stroke-opacity="0.12"/>
<path d="M76.6,51.6Q134.3,135.1 197.4,214.6" stroke="url(#g1)" stroke-width="0.7" stroke-opacity="0.19"/>
<path d="M76.8,51.5Q134.3,135.1 198.9,213.4" stroke="url(#g1)" stroke-width="0.7" stroke-opacity="0.16"/>
<path d="M77.1,51.2Q134.3,135.1 196.6,215.2" stroke="url(#g1)" stroke-width="1.0" stroke-opacity="0.13"/>
<path d="M77.2,51.2Q134.3,135.1 197.2,214.7" stroke="url(#g1)" stroke-width="1.2" stroke-opacity="0.14"/>
<path d="M77.5,51.0Q134.3,135.1 198.4,213.8" stroke="url(#g1)" stroke-width="1.5" stroke-opacity="0.17"/>
<path d="M77.7,50.9Q134.3,135.1 196.6,215.2" stroke="url(#g1)" stroke-width="0.6" stroke-opacity="0.15"/>
<path d="M77.9,50.7Q134.3,135.1 199.6,212.8" stroke="url(#g1)" stroke-width="0.7" stroke-opacity="0.18"/>
<path d="M78.1,50.6Q134.3,135.1 198.4,213.8" stroke="url(#g1)" stroke-width="1.5" stroke-opacity="0.11"/>
<path d="M78.3,50.4Q134.3,135.1 198.5,213.8" stroke="url(#g1)" stroke-width="1.1" stroke-opacity="0.16"/>
<path d="M78.7,50.2Q134.3,135.1 200.6,212.0" stroke="url(#g1)" stroke-width="0.9" stroke-opacity="0.13"/>
<path d="M78.7,50.2Q134.3,135.1 197.7,214.4" stroke="url(#g1)" stroke-width="1.4" stroke-opacity="0.17"/>
<path d="M78.9,50.0Q134.3,135.1 198.1,214.1" stroke="url(#g1)" stroke-width="1.3" stroke-opacity="0.15"/>
<path d="M79.3,49.8Q134.3,135.1 200.0,212.4" stroke="url(#g1)" stroke-width="0.8" stroke-opacity="0.11"/>
<path d="M79.4,49.7Q134.3,135.1 201.8,210.9" stroke="url(#g1)" stroke-width="0.9" stroke-opacity="0.17"/>
<path d="M79.8,49.5Q134.3,135.1 198.8,213.4" stroke="url(#g1)" stroke-width="1.3" stroke-opacity="0.13"/>
<path d="M80.0,49.4Q134.3,135.1 200.7,211.9" stroke="url(#g1)" stroke-width="1.4" stroke-opacity="0.15"/>
<path d="M80.1,49.3Q134.3,135.1 200.0,212.5" stroke="url(#g1)" stroke-width="1.6" stroke-opacity="0.12"/>
<path d="M80.5,49.0Q134.3,135.1 202.8,210.0" stroke="url(#g1)" stroke-width="0.9" stroke-opacity="0.12"/>
<path d="M80.7,48.9Q134.3,135.1 199.3,213.1" stroke="url(#g1)" stroke-width="1.3" stroke-opacity="0.13"/>
<path d="M81.0,48.8Q134.3,135.1 202.0,210.8" stroke="url(#g1)" stroke-width="0.8" stroke-opacity="0.19"/>
<path d="M81.1,48.6Q134.3,135.1 200.7,211.9" stroke="url(#g1)" stroke-width="1.3" stroke-opacity="0.20"/>
<path d="M81.3,48.5Q134.3,135.1 200.2,212.3" stroke="url(#g1)" stroke-width="1.3" stroke-opacity="0.19"/>
<path d="M81.5,48.4Q134.3,135.1 200.9,211.7" stroke="url(#g1)" stroke-width="1.2" stroke-opacity="0.13"/>
<path d="M81.7,48.3Q134.3,135.1 201.5,211.2" stroke="url(#g1)" stroke-width="0.7" stroke-opacity="0.19"/>
<path d="M81.9,48.2Q134.3,135.1 204.0,208.9" stroke="url(#g1)" stroke-width="0.7" stroke-opacity="0.19"/>
<path d="M82.2,48.0Q134.3,135.1 203.8,209.1" stroke="url(#g1)" stroke-width="0.6" stroke-opacity="0.10"/>
<path d="M82.5,47.8Q134.3,135.1 202.1,210.6" stroke="url(#g1)" stroke-width="1.3" stroke-opacity="0.17"/>
<path d="M82.6,47.8Q134.3,135.1 202.4,210.4" stroke="url(#g1)" stroke-width="1.0" stroke-opacity="0.18"/>
<path d="M83.0,47.5Q134.3,135.1 201.5,211.2" stroke="url(#g1)" stroke-width="0.7" stroke-opacity="0.19"/>
<path d="M83.3,47.4Q134.3,135.1 201.5,211.2" stroke="url(#g1)" stroke-width="0.7" stroke-opacity="0.12"/>
<path d="M83.3,47.3Q134.3,135.1 205.1,207.8" stroke="url(#g1)" stroke-width="1.4" stroke-opacity="0.18"/>
<path d="M83.6,47.1Q134.3,135.1 202.3,210.4" stroke="url(#g1)" stroke-width="1.2" stroke-opacity="0.13"/>
<path d="M83.8,47.1Q134.3,135.1 205.2,207.7" stroke="url(#g1)" stroke-width="1.4" stroke-opacity="0.12"/>
<path d="M84.0,46.9Q134.3,135.1 204.2,208.7" stroke="url(#g1)" stroke-width="0.6" stroke-opacity="0.13"/>
<path d="M84.3,46.8Q134.3,135.1 203.3,209.6" stroke="url(#g1)" stroke-width="1.0" stroke-opacity="0.13"/>
<path d="M84.7,46.6Q134.3,135.1 204.4,208.5" stroke="url(#g1)" stroke-width="1.5" stroke-opacity="0.16"/>
<path d="M84.7,46.6Q134.3,135.1 204.8,208.1" stroke="url(#g1)" stroke-width="1.0" stroke-opacity="0.18"/>
<path d="M85.0,46.4Q134.3,135.1 203.9,209.0" stroke="url(#g1)" stroke-width="1.1" stroke-opacity="0.12"/>
<path d="M85.3,46.2Q134.3,135.1 206.5,206.4" stroke="url(#g1)" stroke-width="1.4" stroke-opacity="0.12"/>
<path d="M85.4,46.2Q134.3,135.1 206.2,206.8" stroke="url(#g1)" stroke-width="1.4" stroke-opacity="0.20"/>
<path d="M85.6,46.0Q134.3,135.1 205.3,207.7" stroke="url(#g1)" stroke-width="1.1" stroke-opacity="0.18"/>
<path d="M85.9,45.9Q134.3,135.1 205.5,207.5" stroke="url(#g1)" stroke-width="0.9" stroke-opacity="0.18"/>
<path d="M86.1,45.8Q134.3,135.1 204.0,208.9" stroke="url(#g1)" stroke-width="0.9" stroke-opacity="0.12"/>
<path d="M86.5,45.6Q134.3,135.1 205.9,207.0" stroke="url(#g1)" stroke-width="0.7" stroke-opacity="0.16"/>
<path d="M86.6,45.5Q134.3,135.1 204.9,208.0" stroke="url(#g1)" stroke-width="1.3" stroke-opacity="0.18"/>
<path d="M86.9,45.3Q134.3,135.1 206.8,206.1" stroke="url(#g1)" stroke-width="1.0" stroke-opacity="0.14"/>
<path d="M87.2,45.2Q134.3,135.1 208.1,204.8" stroke="url(#g1)" stroke-width="1.5" stroke-opacity="0.10"/>
<path d="M87.3,45.1Q134.3,135.1 207.5,205.5" stroke="url(#g1)" stroke-width="1.5" stroke-opacity="0.15"/>
<path d="M87.6,45.0Q134.3,135.1 205.4,207.6" stroke="url(#g1)" stroke-width="0.8" stroke-opacity="0.15"/>
<path d="M87.8,44.9Q134.3,135.1 206.1,206.9" stroke="url(#g1)" stroke-width="1.4" stroke-opacity="0.16"/>
<path d="M88.0,44.8Q134.3,135.1 207.8,205.1" stroke="url(#g1)" stroke-width="0.8" stroke-opacity="0.18"/>
<path d="M88.4,44.6Q134.3,135.1 206.5,206.4" stroke="url(#g1)" stroke-width="0.8" stroke-opacity="0.14"/>
<path d="M88.6,44.5Q134.3,135.1 207.3,205.6" stroke="url(#g1)" stroke-width="0.7" stroke-opacity="0.15"/>
<path d="M88.9,44.3Q134.3,135.1 208.8,204.1" stroke="url(#g1)" stroke-width="0.8" stroke-opacity="0.13"/>
<path d="M89.1,44.2Q134.3,135.1 206.7,206.2" stroke="url(#g1)" stroke-width="0.8" stroke-opacity="0.12"/>
<path d="M89.2,44.2Q134.3,135.1 208.7,204.1" stroke="url(#g1)" stroke-width="1.1" stroke-opacity="0.12"/>
<path d="M89.5,44.0Q134.3,135.1 209.4,203.4" stroke="url(#g1)" stroke-width="1.6" stroke-opacity="0.17"/>
<path d="M89.7,43.9Q134.3,135.1 206.7,206.2" stroke="url(#g1)" stroke-width="0.7" stroke-opacity="0.14"/>
<path d="M90.1,43.7Q134.3,135.1 207.7,205.2" stroke="url(#g1)" stroke-width="1.3" stroke-opacity="0.14"/>
<path d="M90.2,43.7Q134.3,135.1 208.3,204.6" stroke="url(#g1)" stroke-width="0.7" stroke-opacity="0.12"/>
<path d="M90.4,43.6Q134.3,135.1 210.7,202.0" stroke="url(#g1)" stroke-width="1.0" stroke-opacity="0.18"/>
<path d="M90.8,43.4Q134.3,135.1 209.2,203.5" stroke="url(#g1)" stroke-width="1.2" stroke-opacity="0.15"/>
<path d="M90.9,43.4Q134.3,135.1 209.0,203.9" stroke="url(#g1)" stroke-width="1.0" stroke-opacity="0.17"/>
<path d="M91.3,43.2Q134.3,135.1 209.9,202.8" stroke="url(#g1)" stroke-width="1.2" stroke-opacity="0.17"/>
<path d="M91.4,43.1Q134.3,135.1 210.7,201.9" stroke="url(#g1)" stroke-width="1.3" stroke-opacity="0.19"/>
<path d="M91.7,43.0Q134.3,135.1 209.3,203.5" stroke="url(#g1)" stroke-width="1.5" stroke-opacity="0.17"/>
<path d="M92.0,42.9Q134.3,135.1 210.3,202.4" stroke="url(#g1)" stroke-width="0.9" stroke-opacity="0.16"/>
<path d="M92.1,42.8Q134.3,135.1 210.5,202.2" stroke="url(#g1)" stroke-width="1.4" stroke-opacity="0.17"/>
<path d="M92.4,42.6Q134.3,135.1 211.4,201.2" stroke="url(#g1)" stroke-width="1.0" stroke-opacity="0.15"/>
<path d="M92.7,42.5Q134.3,135.1 211.0,201.6" stroke="url(#g1)" stroke-width="1.3" stroke-opacity="0.19"/>
<path d="M92.8,42.5Q134.3,135.1 210.2,202.5" stroke="url(#g1)" stroke-width="1.4" stroke-opacity="0.14"/>
<path d="M35.4,112.1Q134.3,135.1 147.8,235.7" stroke="url(#g2)" stroke-width="0.6" stroke-opacity="0.22"/>
<path d="M35.5,111.9Q134.3,135.1 148.9,235.5" stroke="url(#g2)" stroke-width="1.5" stroke-opacity="0.21"/>
<path d="M35.6,111.6Q134.3,135.1 150.2,235.3" stroke="url(#g2)" stroke-width="1.1" stroke-opacity="0.24"/>
<path d="M35.7,111.1Q134.3,135.1 150.2,235.3" stroke="url(#g2)" stroke-width="1.4" stroke-opacity="0.21"/>
<path d="M35.8,110.8Q134.3,135.1 148.8,235.6" stroke="url(#g2)" stroke-width="0.8" stroke-opacity="0.24"/>
<path d="M35.8,110.4Q134.3,135.1 150.0,235.4" stroke="url(#g2)" stroke-width="0.7" stroke-opacity="0.28"/>
<path d="M35.9,110.1Q134.3,135.1 153.9,234.7" stroke="url(#g2)" stroke-width="0.9" stroke-opacity="0.20"/>
<path d="M36.0,109.9Q134.3,135.1 152.1,235.0" stroke="url(#g2)" stroke-width="1.0" stroke-opacity="0.24"/>
<path d="M36.1,109.4Q134.3,135.1 153.2,234.8" stroke="url(#g2)" stroke-width="0.8" stroke-opacity="0.24"/>
<path d="M36.2,108.9Q134.3,135.1 152.2,235.0" stroke="url(#g2)" stroke-width="0.8" stroke-opacity="0.25"/>
<path d="M36.3,108.7Q134.3,135.1 153.9,234.7" stroke="url(#g2)" stroke-width="0.7" stroke-opacity="0.25"/>
<path d="M36.4,108.3Q134.3,135.1 152.0,235.0" stroke="url(#g2)" stroke-width="1.1" stroke-opacity="0.22"/>
<path d="M36.5,108.1Q134.3,135.1 150.4,235.3" stroke="url(#g2)" stroke-width="1.0" stroke-opacity="0.23"/>
<path d="M36.6,107.6Q134.3,135.1 151.5,235.1" stroke="url(#g2)" stroke-width="1.1" stroke-opacity="0.18"/>
<path d="M36.7,107.3Q134.3,135.1 155.3,234.4" stroke="url(#g2)" stroke-width="1.4" stroke-opacity="0.19"/>
<path d="M36.8,106.9Q134.3,135.1 154.8,234.5" stroke="url(#g2)" stroke-width="1.0" stroke-opacity="0.18"/>
<path d="M36.9,106.7Q134.3,135.1 155.4,234.4" stroke="url(#g2)" stroke-width="0.6" stroke-opacity="0.24"/>
<path d="M36.9,106.4Q134.3,135.1 155.2,234.4" stroke="url(#g2)" stroke-width="0.9" stroke-opacity="0.21"/>
<path d="M37.1,106.0Q134.3,135.1 153.4,234.8" stroke="url(#g2)" stroke-width="1.3" stroke-opacity="0.19"/>
<path d="M37.2,105.5Q134.3,135.1 152.6,234.9" stroke="url(#g2)" stroke-width="0.7" stroke-opacity="0.26"/>
<path d="M37.3,105.2Q134.3,135.1 153.2,234.8" stroke="url(#g2)" stroke-width="0.7" stroke-opacity="0.26"/>
<path d="M37.4,105.0Q134.3,135.1 157.3,233.9" stroke="url(#g2)" stroke-width="0.6" stroke-opacity="0.27"/>
<path d="M37.5,104.6Q134.3,135.1 156.3,234.2" stroke="url(#g2)" stroke-width="0.7" stroke-opacity="0.16"/>
<path d="M37.5,104.4Q134.3,135.1 153.7,234.7" stroke="url(#g2)" stroke-width="0.9" stroke-opacity="0.16"/>
<path d="M37.7,103.9Q134.3,135.1 154.0,234.7" stroke="url(#g2)" stroke-width="0.8" stroke-opacity="0.26"/>
<path d="M37.8,103.6Q134.3,135.1 154.2,234.6" stroke="url(#g2)" stroke-width="1.3" stroke-opacity="0.27"/>
<path d="M37.9,103.2Q134.3,135.1 154.2,234.6" stroke="url(#g2)" stroke-width="0.8" stroke-opacity="0.24"/>
<path d="M38.0,103.0Q134.3,135.1 154.8,234.5" stroke="url(#g2)" stroke-width="1.0" stroke-opacity="0.26"/>
<path d="M38.1,102.7Q134.3,135.1 157.5,233.9" stroke="url(#g2)" stroke-width="0.8" stroke-opacity="0.16"/>
<path d="M38.2,102.3Q134.3,135.1 158.8,233.6" stroke="url(#g2)" stroke-width="1.1" stroke-opacity="0.16"/>
<path d="M38.3,102.0Q134.3,135.1 156.7,234.1" stroke="url(#g2)" stroke-width="1.1" stroke-opacity="0.26"/>
<path d="M38.4,101.8Q134.3,135.1 155.1,234.5" stroke="url(#g2)" stroke-width="1.1" stroke-opacity="0.22"/>
<path d="M38.6,101.3Q134.3,135.1 155.4,234.4" stroke="url(#g2)" stroke-width="1.0" stroke-opacity="0.20"/>
<path d="M38.7,100.9Q134.3,135.1 159.7,233.4" stroke="url(#g2)" stroke-width="1.2" stroke-opacity="0.23"/>
<path d="M38.8,100.8Q134.3,135.1 156.9,234.0" stroke="url(#g2)" stroke-width="1.3" stroke-opacity="0.27"/>
<path d="M38.9,100.4Q134.3,135.1 155.3,234.4" stroke="url(#g2)" stroke-width="1.1" stroke-opacity="0.21"/>
<path d="M39.1,99.9Q134.3,135.1 160.5,233.2" stroke="url(#g2)" stroke-width="1.3" stroke-opacity="0.23"/>
<path d="M39.2,99.8Q134.3,135.1 156.3,234.2" stroke="url(#g2)" stroke-width="1.0" stroke-opacity="0.21"/>
<path d="M39.3,99.4Q134.3,135.1 157.0,234.0" stroke="url(#g2)" stroke-width="0.8" stroke-opacity="0.20"/>
<path d="M39.4,99.1Q134.3,135.1 158.3,233.7" stroke="url(#g2)" stroke-width="1.4" stroke-opacity="0.18"/>
<path d="M39.6,98.6Q134.3,135.1 159.4,233.4" stroke="url(#g2)" stroke-width="1.1" stroke-opacity="0.18"/>
<path d="M39.7,98.4Q134.3,135.1 156.6,234.1" stroke="url(#g2)" stroke-width="1.3" stroke-opacity="0.25"/>
<path d="M39.8,98.1Q134.3,135.1 160.2,233.2" stroke="url(#g2)" stroke-width="0.9" stroke-opacity="0.22"/>
<path d="M39.9,97.7Q134.3,135.1 158.1,233.8" stroke="url(#g2)" stroke-width="0.6" stroke-opacity="0.24"/>
<path d="M40.1,97.3Q134.3,135.1 159.6,233.4" stroke="url(#g2)" stroke-width="0.6" stroke-opacity="0.18"/>
<path d="M40.1,97.3Q134.3,135.1 161.4,232.9" stroke="url(#g2)" stroke-width="1.5" stroke-opacity="0.23"/>
<path d="M40.3,96.7Q134.3,135.1 158.7,233.6" stroke="url(#g2)" stroke-width="1.5" stroke-opacity="0.23"/>
<path d="M40.5,96.4Q134.3,135.1 159.7,233.4" stroke="url(#g2)" stroke-width="1.3" stroke-opacity="0.22"/>
<path d="M40.6,96.1Q134.3,135.1 162.1,232.7" stroke="url(#g2)" stroke-width="1.3" stroke-opacity="0.20"/>
<path d="M40.8,95.7Q134.3,135.1 162.9,232.5" stroke="url(#g2)" stroke-width="0.8" stroke-opacity="0.15"/>
<path d="M40.9,95.4Q134.3,135.1 158.9,233.6" stroke="url(#g2)" stroke-width="1.3" stroke-opacity="0.19"/>
<path d="M41.0,95.1Q134.3,135.1 159.8,233.4" stroke="url(#g2)" stroke-width="1.2" stroke-opacity="0.18"/>
<path d="M41.1,94.9Q134.3,135.1 161.8,232.8" stroke="url(#g2)" stroke-width="0.9" stroke-opacity="0.20"/>
<path d="M41.3,94.5Q134.3,135.1 159.4,233.4" stroke="url(#g2)" stroke-width="0.7" stroke-opacity="0.22"/>
<path d="M41.3,94.3Q134.3,135.1 163.7,232.3" stroke="url(#g2)" stroke-width="1.4" stroke-opacity="0.22"/>
<path d="M41.6,93.7Q134.3,135.1 162.4,232.6" stroke="url(#g2)" stroke-width="0.6" stroke-opacity="0.19"/>
<path d="M41.7,93.5Q134.3,135.1 160.0,233.3" stroke="url(#g2)" stroke-width="1.6" stroke-opacity="0.21"/>
<path d="M41.8,93.3Q134.3,135.1 164.5,232.0" stroke="url(#g2)" stroke-width="1.2" stroke-opacity="0.17"/>
<path d="M41.9,93.0Q134.3,135.1 165.0,231.8" stroke="url(#g2)" stroke-width="0.6" stroke-opacity="0.24"/>
<path d="M42.1,92.7Q134.3,135.1 160.4,233.2" stroke="url(#g2)" stroke-width="0.7" stroke-opacity="0.26"/>
<path d="M42.2,92.4Q134.3,135.1 165.4,231.7" stroke="url(#g2)" stroke-width="1.3" stroke-opacity="0.17"/>
<path d="M42.5,91.9Q134.3,135.1 164.9,231.9" stroke="url(#g2)" stroke-width="0.7" stroke-opacity="0.25"/>
<path d="M42.6,91.6Q134.3,135.1 161.7,232.8" stroke="url(#g2)" stroke-width="1.3" stroke-opacity="0.15"/>
<path d="M42.7,91.3Q134.3,135.1 162.7,232.6" stroke="url(#g2)" stroke-width="1.1" stroke-opacity="0.27"/>
<path d="M42.8,91.1Q134.3,135.1 161.5,232.9" stroke="url(#g2)" stroke-width="1.3" stroke-opacity="0.14"/>
<path d="M43.0,90.9Q134.3,135.1 163.3,232.4" stroke="url(#g2)" stroke-width="1.4" stroke-opacity="0.15"/>
<path d="M43.1,90.4Q134.3,135.1 163.1,232.4" stroke="url(#g2)" stroke-width="0.8" stroke-opacity="0.26"/>
<path d="M43.3,90.1Q134.3,135.1 166.8,231.3" stroke="url(#g2)" stroke-width="1.0" stroke-opacity="0.22"/>
<path d="M43.5,89.8Q134.3,135.1 163.8,232.2" stroke="url(#g2)" stroke-width="0.7" stroke-opacity="0.25"/>
<path d="M43.6,89.5Q134.3,135.1 164.2,232.1" stroke="url(#g2)" stroke-width="1.2" stroke-opacity="0.20"/>
<path d="M43.8,89.2Q134.3,135.1 163.7,232.3" stroke="url(#g2)" stroke-width="1.5" stroke-opacity="0.25"/>
<path d="M44.0,88.8Q134.3,135.1 166.4,231.4" stroke="url(#g2)" stroke-width="0.7" stroke-opacity="0.28"/>
<path d="M44.2,88.5Q134.3,135.1 164.0,232.2" stroke="url(#g2)" stroke-width="0.9" stroke-opacity="0.22"/>
<path d="M44.4,88.1Q134.3,135.1 164.2,232.1" stroke="url(#g2)" stroke-width="1.2" stroke-opacity="0.18"/>
<path d="M44.4,87.9Q134.3,135.1 164.0,232.2" stroke="url(#g2)" stroke-width="1.0" stroke-opacity="0.24"/>
<path d="M44.6,87.6Q134.3,135.1 164.2,232.1" stroke="url(#g2)" stroke-width="1.4" stroke-opacity="0.18"/>
<path d="M44.7,87.4Q134.3,135.1 167.5,231.0" stroke="url(#g2)" stroke-width="1.0" stroke-opacity="0.22"/>
<path d="M45.0,86.9Q134.3,135.1 164.7,231.9" stroke="url(#g2)" stroke-width="0.6" stroke-opacity="0.26"/>
<path d="M45.2,86.6Q134.3,135.1 165.0,231.8" stroke="url(#g2)" stroke-width="1.2" stroke-opacity="0.18"/>
<path d="M45.3,86.2Q134.3,135.1 165.6,231.7" stroke="url(#g2)" stroke-width="1.3" stroke-opacity="0.27"/>
<path d="M45.4,86.1Q134.3,135.1 169.3,230.4" stroke="url(#g2)" stroke-width="1.2" stroke-opacity="0.25"/>
<path d="M45.6,85.8Q134.3,135.1 166.1,231.5" stroke="url(#g2)" stroke-width="1.5" stroke-opacity="0.17"/>
<path d="M45.8,85.4Q134.3,135.1 166.8,231.3" stroke="url(#g2)" stroke-width="1.1" stroke-opacity="0.17"/>
<path d="M45.9,85.2Q134.3,135.1 166.5,231.3" stroke="url(#g2)" stroke-width="1.4" stroke-opacity="0.20"/>
<path d="M46.1,84.9Q134.3,135.1 166.4,231.4" stroke="url(#g2)" stroke-width="1.4" stroke-opacity="0.17"/>
<path d="M46.3,84.5Q134.3,135.1 166.3,231.4" stroke="url(#g2)" stroke-width="1.5" stroke-opacity="0.21"/>
<path d="M46.5,84.2Q134.3,135.1 168.0,230.8" stroke="url(#g2)" stroke-width="0.8" stroke-opacity="0.17"/>
<path d="M46.6,84.0Q134.3,135.1 167.6,231.0" stroke="url(#g2)" stroke-width="1.0" stroke-opacity="0.22"/>
<path d="M46.8,83.6Q134.3,135.1 168.8,230.6" stroke="url(#g2)" stroke-width="0.7" stroke-opacity="0.15"/>
<path d="M47.1,83.2Q134.3,135.1 169.8,230.2" stroke="url(#g2)" stroke-width="0.7" stroke-opacity="0.23"/>
<path d="M47.2,82.9Q134.3,135.1 171.1,229.7" stroke="url(#g2)" stroke-width="1.2" stroke-opacity="0.19"/>
<path d="M47.4,82.7Q134.3,135.1 171.9,229.4" stroke="url(#g2)" stroke-width="0.6" stroke-opacity="0.28"/>
<path d="M47.6,82.3Q134.3,135.1 169.9,230.2" stroke="url(#g2)" stroke-width="1.2" stroke-opacity="0.18"/>
<path d="M47.8,82.0Q134.3,135.1 170.3,230.0" stroke="url(#g2)" stroke-width="1.5" stroke-opacity="0.25"/>
<path d="M48.0,81.7Q134.3,135.1 167.9,230.9" stroke="url(#g2)" stroke-width="0.9" stroke-opacity="0.15"/>
<path d="M48.0,81.6Q134.3,135.1 171.8,229.4" stroke="url(#g2)" stroke-width="0.7" stroke-opacity="0.15"/>
<path d="M48.3,81.2Q134.3,135.1 168.7,230.6" stroke="url(#g2)" stroke-width="1.1" stroke-opacity="0.27"/>
<path d="M48.5,80.8Q134.3,135.1 173.0,228.9" stroke="url(#g2)" stroke-width="1.2" stroke-opacity="0.20"/>
<path d="M48.6,80.7Q134.3,135.1 168.6,230.6" stroke="url(#g2)" stroke-width="0.9" stroke-opacity="0.22"/>
<path d="M48.9,80.3Q134.3,135.1 168.9,230.5" stroke="url(#g2)" stroke-width="1.3" stroke-opacity="0.20"/>
<path d="M49.0,80.1Q134.3,135.1 173.0,228.9" stroke="url(#g2)" stroke-width="1.6" stroke-opacity="0.28"/>
<path d="M49.2,79.8Q134.3,135.1 173.8,228.6" stroke="url(#g2)" stroke-width="0.9" stroke-opacity="0.19"/>
<path d="M49.5,79.3Q134.3,135.1 169.8,230.2" stroke="url(#g2)" stroke-width="1.4" stroke-opacity="0.15"/>
<path d="M49.7,79.1Q134.3,135.1 171.0,229.7" stroke="url(#g2)" stroke-width="1.2" stroke-opacity="0.28"/>
<path d="M49.7,79.0Q134.3,135.1 173.8,228.6" stroke="url(#g2)" stroke-width="1.4" stroke-opacity="0.27"/>
<path d="M50.0,78.5Q134.3,135.1 173.4,228.8" stroke="url(#g2)" stroke-width="1.2" stroke-opacity="0.25"/>
<path d="M50.1,78.4Q134.3,135.1 173.4,228.8" stroke="url(#g2)" stroke-width="0.9" stroke-opacity="0.16"/>
<path d="M50.4,78.0Q134.3,135.1 174.4,228.3" stroke="url(#g2)" stroke-width="0.8" stroke-opacity="0.16"/>
<path d="M50.6,77.7Q134.3,135.1 175.4,227.9" stroke="url(#g2)" stroke-width="1.3" stroke-opacity="0.17"/>
<path d="M50.7,77.6Q134.3,135.1 171.0,229.7" stroke="url(#g2)" stroke-width="0.8" stroke-opacity="0.27"/>
<path d="M51.1,77.0Q134.3,135.1 171.5,229.5" stroke="url(#g2)" stroke-width="0.7" stroke-opacity="0.20"/>
<path d="M51.1,77.0Q134.3,135.1 171.4,229.6" stroke="url(#g2)" stroke-width="1.4" stroke-opacity="0.23"/>
<path d="M51.4,76.6Q134.3,135.1 174.6,228.3" stroke="url(#g2)" stroke-width="1.4" stroke-opacity="0.21"/>
<path d="M51.6,76.2Q134.3,135.1 175.7,227.8" stroke="url(#g2)" stroke-width="0.8" stroke-opacity="0.15"/>
<path d="M51.8,75.9Q134.3,135.1 174.0,228.5" stroke="url(#g2)" stroke-width="0.7" stroke-opacity="0.26"/>
<path d="M51.9,75.8Q134.3,135.1 174.8,228.2" stroke="url(#g2)" stroke-width="0.8" stroke-opacity="0.18"/>
<path d="M52.3,75.3Q134.3,135.1 175.5,227.9" stroke="url(#g2)" stroke-width="0.8" stroke-opacity="0.21"/>
<path d="M52.4,75.2Q134.3,135.1 172.8,229.0" stroke="url(#g2)" stroke-width="0.7" stroke-opacity="0.28"/>
<path d="M52.5,75.0Q134.3,135.1 173.0,228.9" stroke="url(#g2)" stroke-width="1.3" stroke-opacity="0.17"/>
<path d="M52.8,74.6Q134.3,135.1 176.2,227.5" stroke="url(#g2)" stroke-width="0.9" stroke-opacity="0.17"/>
<path d="M53.0,74.3Q134.3,135.1 173.0,229.0" stroke="url(#g2)" stroke-width="1.6" stroke-opacity="0.27"/>
<path d="M53.2,74.1Q134.3,135.1 176.5,227.4" stroke="url(#g2)" stroke-width="1.5" stroke-opacity="0.15"/>
<path d="M53.5,73.7Q134.3,135.1 176.8,227.3" stroke="url(#g2)" stroke-width="1.6" stroke-opacity="0.14"/>
<path d="M53.7,73.4Q134.3,135.1 176.8,227.3" stroke="url(#g2)" stroke-width="0.7" stroke-opacity="0.14"/>
<path d="M53.9,73.1Q134.3,135.1 176.1,227.6" stroke="url(#g2)" stroke-width="0.8" stroke-opacity="0.20"/>
<path d="M54.2,72.8Q134.3,135.1 177.8,226.8" stroke="url(#g2)" stroke-width="1.2" stroke-opacity="0.16"/>
<path d="M54.2,72.7Q134.3,135.1 175.2,228.0" stroke="url(#g2)" stroke-width="1.3" stroke-opacity="0.17"/>
<path d="M54.4,72.5Q134.3,135.1 178.7,226.4" stroke="url(#g2)" stroke-width="1.2" stroke-opacity="0.21"/>
<path d="M54.7,72.1Q134.3,135.1 178.3,226.5" stroke="url(#g2)" stroke-width="1.2" stroke-opacity="0.24"/>
<path d="M55.0,71.7Q134.3,135.1 176.8,227.3" stroke="url(#g2)" stroke-width="0.8" stroke-opacity="0.15"/>
<path d="M55.2,71.5Q134.3,135.1 177.9,226.8" stroke="url(#g2)" stroke-width="1.3" stroke-opacity="0.15"/>
<path d="M55.5,71.2Q134.3,135.1 178.4,226.5" stroke="url(#g2)" stroke-width="1.4" stroke-opacity="0.26"/>
<path d="M55.6,71.0Q134.3,135.1 180.1,225.7" stroke="url(#g2)" stroke-width="1.5" stroke-opacity="0.21"/>
<path d="M55.9,70.6Q134.3,135.1 179.2,226.1" stroke="url(#g2)" stroke-width="0.8" stroke-opacity="0.26"/>
<path d="M56.0,70.5Q134.3,135.1 179.7,225.9" stroke="url(#g2)" stroke-width="1.0" stroke-opacity="0.22"/>
<path d="M56.2,70.3Q134.3,135.1 178.2,226.6" stroke="url(#g2)" stroke-width="1.0" stroke-opacity="0.21"/>
<path d="M56.4,70.0Q134.3,135.1 177.5,227.0" stroke="url(#g2)" stroke-width="1.4" stroke-opacity="0.26"/>
<path d="M56.7,69.7Q134.3,135.1 177.7,226.8" stroke="url(#g2)" stroke-width="1.0" stroke-opacity="0.25"/>
<path d="M56.9,69.5Q134.3,135.1 177.1,227.1" stroke="url(#g2)" stroke-width="1.6" stroke-opacity="0.21"/>
<path d="M57.2,69.1Q134.3,135.1 179.0,226.2" stroke="url(#g2)" stroke-width="1.1" stroke-opacity="0.14"/>
<path d="M57.5,68.7Q134.3,135.1 180.7,225.3" stroke="url(#g2)" stroke-width="0.8" stroke-opacity="0.15"/>
<path d="M57.6,68.6Q134.3,135.1 178.0,226.7" stroke="url(#g2)" stroke-width="0.6" stroke-opacity="0.15"/>
<path d="M57.9,68.3Q134.3,135.1 181.2,225.1" stroke="url(#g2)" stroke-width="0.6" stroke-opacity="0.22"/>
<path d="M58.1,68.0Q134.3,135.1 179.8,225.8" stroke="url(#g2)" stroke-width="1.3" stroke-opacity="0.15"/>
<path d="M58.4,67.7Q134.3,135.1 179.2,226.1" stroke="url(#g2)" stroke-width="0.6" stroke-opacity="0.16"/>
<path d="M58.6,67.5Q134.3,135.1 180.3,225.6" stroke="url(#g2)" stroke-width="0.9" stroke-opacity="0.16"/>
<path d="M58.8,67.3Q134.3,135.1 182.2,224.6" stroke="url(#g2)" stroke-width="1.2" stroke-opacity="0.26"/>
<path d="M58.9,67.1Q134.3,135.1 180.3,225.6" stroke="url(#g2)" stroke-width="1.3" stroke-opacity="0.16"/>
<path d="M59.3,66.7Q134.3,135.1 178.9,226.3" stroke="url(#g2)" stroke-width="1.0" stroke-opacity="0.20"/>
<path d="M59.6,66.4Q134.3,135.1 181.0,225.2" stroke="url(#g2)" stroke-width="1.0" stroke-opacity="0.27"/>
<path d="M59.8,66.2Q134.3,135.1 182.1,224.6" stroke="url(#g2)" stroke-width="0.8" stroke-opacity="0.19"/>
<path d="M60.0,66.0Q134.3,135.1 179.2,226.1" stroke="url(#g2)" stroke-width="1.4" stroke-opacity="0.27"/>
<path d="M60.3,65.6Q134.3,135.1 180.1,225.7" stroke="url(#g2)" stroke-width="0.7" stroke-opacity="0.21"/>
<path d="M60.6,65.3Q134.3,135.1 179.9,225.8" stroke="url(#g2)" stroke-width="0.8" stroke-opacity="0.20"/>
<path d="M60.7,65.2Q134.3,135.1 182.7,224.3" stroke="url(#g2)" stroke-width="1.1" stroke-opacity="0.15"/>
<path d="M60.9,65.0Q134.3,135.1 182.2,224.6" stroke="url(#g2)" stroke-width="0.6" stroke-opacity="0.16"/>
<path d="M61.3,64.6Q134.3,135.1 181.2,225.1" stroke="url(#g2)" stroke-width="1.5" stroke-opacity="0.23"/>
<path d="M61.5,64.4Q134.3,135.1 180.9,225.3" stroke="url(#g2)" stroke-width="1.5" stroke-opacity="0.14"/>
<path d="M61.7,64.2Q134.3,135.1 184.0,223.6" stroke="url(#g2)" stroke-width="1.3" stroke-opacity="0.18"/>
<path d="M61.9,63.9Q134.3,135.1 181.0,225.2" stroke="url(#g2)" stroke-width="1.2" stroke-opacity="0.18"/>
<path d="M62.2,63.7Q134.3,135.1 183.5,223.9" stroke="url(#g2)" stroke-width="1.6" stroke-opacity="0.18"/>
<path d="M62.4,63.5Q134.3,135.1 182.7,224.3" stroke="url(#g2)" stroke-width="0.7" stroke-opacity="0.22"/>
<path d="M42.9,179.3Q134.3,135.1 214.4,197.4" stroke="url(#g3)" stroke-width="0.9" stroke-opacity="0.21"/>
<path d="M42.8,179.1Q134.3,135.1 215.7,195.8" stroke="url(#g3)" stroke-width="0.7" stroke-opacity="0.16"/>
<path d="M42.7,178.8Q134.3,135.1 215.0,196.7" stroke="url(#g3)" stroke-width="0.9" stroke-opacity="0.17"/>
<path d="M42.5,178.5Q134.3,135.1 214.6,197.1" stroke="url(#g3)" stroke-width="1.4" stroke-opacity="0.23"/>
<path d="M42.3,178.0Q134.3,135.1 214.6,197.2" stroke="url(#g3)" stroke-width="0.8" stroke-opacity="0.24"/>
<path d="M42.2,177.7Q134.3,135.1 215.0,196.6" stroke="url(#g3)" stroke-width="1.2" stroke-opacity="0.21"/>
<path d="M42.0,177.3Q134.3,135.1 216.2,195.1" stroke="url(#g3)" stroke-width="0.8" stroke-opacity="0.21"/>
<path d="M41.8,177.0Q134.3,135.1 215.2,196.4" stroke="url(#g3)" stroke-width="0.6" stroke-opacity="0.19"/>
<path d="M41.6,176.4Q134.3,135.1 216.6,194.5" stroke="url(#g3)" stroke-width="1.2" stroke-opacity="0.21"/>
<path d="M41.5,176.3Q134.3,135.1 214.3,197.6" stroke="url(#g3)" stroke-width="0.9" stroke-opacity="0.25"/>
<path d="M41.4,176.0Q134.3,135.1 217.3,193.5" stroke="url(#g3)" stroke-width="1.5" stroke-opacity="0.20"/>
<path d="M41.2,175.6Q134.3,135.1 216.5,194.7" stroke="url(#g3)" stroke-width="1.0" stroke-opacity="0.24"/>
<path d="M41.1,175.3Q134.3,135.1 217.1,193.8" stroke="url(#g3)" stroke-width="1.6" stroke-opacity="0.24"/>
<path d="M40.9,174.9Q134.3,135.1 217.0,194.0" stroke="url(#g3)" stroke-width="1.0" stroke-opacity="0.23"/>
<path d="M40.7,174.4Q134.3,135.1 215.6,195.9" stroke="url(#g3)" stroke-width="1.4" stroke-opacity="0.21"/>
<path d="M40.5,173.9Q134.3,135.1 216.1,195.2" stroke="url(#g3)" stroke-width="1.4" stroke-opacity="0.21"/>
<path d="M40.4,173.6Q134.3,135.1 216.4,194.8" stroke="url(#g3)" stroke-width="1.5" stroke-opacity="0.16"/>
<path d="M40.2,173.2Q134.3,135.1 218.7,191.5" stroke="url(#g3)" stroke-width="1.4" stroke-opacity="0.22"/>
<path d="M40.1,172.9Q134.3,135.1 215.9,195.5" stroke="url(#g3)" stroke-width="1.2" stroke-opacity="0.20"/>
<path d="M39.9,172.5Q134.3,135.1 216.3,194.9" stroke="url(#g3)" stroke-width="1.2" stroke-opacity="0.19"/>
<path d="M39.8,172.2Q134.3,135.1 217.7,192.9" stroke="url(#g3)" stroke-width="1.3" stroke-opacity="0.18"/>
<path d="M39.7,171.9Q134.3,135.1 217.6,193.1" stroke="url(#g3)" stroke-width="1.0" stroke-opacity="0.19"/>
<path d="M39.5,171.4Q134.3,135.1 216.9,194.1" stroke="url(#g3)" stroke-width="1.1" stroke-opacity="0.20"/>
<path d="M39.4,171.2Q134.3,135.1 218.6,191.6" stroke="url(#g3)" stroke-width="0.7" stroke-opacity="0.22"/>
<path d="M39.3,170.7Q134.3,135.1 219.5,190.3" stroke="url(#g3)" stroke-width="1.5" stroke-opacity="0.19"/>
<path d="M39.1,170.2Q134.3,135.1 217.4,193.4" stroke="url(#g3)" stroke-width="1.6" stroke-opacity="0.17"/>
<path d="M39.0,170.0Q134.3,135.1 217.3,193.5" stroke="url(#g3)" stroke-width="0.6" stroke-opacity="0.15"/>
<path d="M38.8,169.6Q134.3,135.1 218.7,191.5" stroke="url(#g3)" stroke-width="1.5" stroke-opacity="0.25"/>
<path d="M38.7,169.2Q134.3,135.1 217.4,193.4" stroke="url(#g3)" stroke-width="1.1" stroke-opacity="0.21"/>
<path d="M38.6,168.8Q134.3,135.1 219.3,190.5" stroke="url(#g3)" stroke-width="1.0" stroke-opacity="0.22"/>
<path d="M38.5,168.6Q134.3,135.1 217.8,192.8" stroke="url(#g3)" stroke-width="1.3" stroke-opacity="0.21"/>
<path d="M38.4,168.3Q134.3,135.1 219.6,190.1" stroke="url(#g3)" stroke-width="1.0" stroke-opacity="0.22"/>
<path d="M38.2,167.7Q134.3,135.1 218.3,192.0" stroke="url(#g3)" stroke-width="1.6" stroke-opacity="0.21"/>
<path d="M38.1,167.4Q134.3,135.1 219.2,190.7" stroke="url(#g3)" stroke-width="1.6" stroke-opacity="0.19"/>
<path d="M37.9,167.0Q134.3,135.1 218.8,191.3" stroke="url(#g3)" stroke-width="0.8" stroke-opacity="0.18"/>
<path d="M37.8,166.5Q134.3,135.1 219.0,191.0" stroke="url(#g3)" stroke-width="1.1" stroke-opacity="0.16"/>
<path d="M37.7,166.1Q134.3,135.1 219.5,190.2" stroke="url(#g3)" stroke-width="1.4" stroke-opacity="0.28"/>
<path d="M37.5,165.8Q134.3,135.1 220.5,188.8" stroke="url(#g3)" stroke-width="0.8" stroke-opacity="0.18"/>
<path d="M37.5,165.5Q134.3,135.1 220.3,189.0" stroke="url(#g3)" stroke-width="0.8" stroke-opacity="0.17"/>
<path d="M37.3,165.1Q134.3,135.1 220.2,189.2" stroke="url(#g3)" stroke-width="1.0" stroke-opacity="0.28"/>
<path d="M37.2,164.7Q134.3,135.1 221.9,186.4" stroke="url(#g3)" stroke-width="1.0" stroke-opacity="0.25"/>
<path d="M37.1,164.5Q134.3,135.1 220.2,189.2" stroke="url(#g3)" stroke-width="0.6" stroke-opacity="0.18"/>
<path d="M37.0,163.9Q134.3,135.1 220.7,188.4" stroke="url(#g3)" stroke-width="1.3" stroke-opacity="0.17"/>
<path d="M36.9,163.6Q134.3,135.1 220.9,188.1" stroke="url(#g3)" stroke-width="0.9" stroke-opacity="0.23"/>
<path d="M36.8,163.3Q134.3,135.1 219.8,189.8" stroke="url(#g3)" stroke-width="1.2" stroke-opacity="0.20"/>
<path d="M36.7,163.0Q134.3,135.1 222.2,185.9" stroke="url(#g3)" stroke-width="1.4" stroke-opacity="0.15"/>
<path d="M36.6,162.7Q134.3,135.1 222.3,185.7" stroke="url(#g3)" stroke-width="1.1" stroke-opacity="0.26"/>
<path d="M36.5,162.1Q134.3,135.1 220.8,188.2" stroke="url(#g3)" stroke-width="0.7" stroke-opacity="0.14"/>
<path d="M36.3,161.6Q134.3,135.1 222.3,185.8" stroke="url(#g3)" stroke-width="1.3" stroke-opacity="0.19"/>
<path d="M36.3,161.5Q134.3,135.1 222.5,185.4" stroke="url(#g3)" stroke-width="0.7" stroke-opacity="0.27"/>
<path d="M36.1,161.0Q134.3,135.1 222.4,185.5" stroke="url(#g3)" stroke-width="1.0" stroke-opacity="0.19"/>
<path d="M36.1,160.8Q134.3,135.1 221.0,187.8" stroke="url(#g3)" stroke-width="1.2" stroke-opacity="0.27"/>
<path d="M36.0,160.3Q134.3,135.1 222.0,186.3" stroke="url(#g3)" stroke-width="0.8" stroke-opacity="0.15"/>
<path d="M35.8,159.7Q134.3,135.1 221.5,187.0" stroke="url(#g3)" stroke-width="0.9" stroke-opacity="0.27"/>
<path d="M35.7,159.3Q134.3,135.1 223.1,184.2" stroke="url(#g3)" stroke-width="1.2" stroke-opacity="0.27"/>
<path d="M35.7,159.1Q134.3,135.1 221.5,187.0" stroke="url(#g3)" stroke-width="0.8" stroke-opacity="0.19"/>
<path d="M35.6,158.6Q134.3,135.1 223.6,183.4" stroke="url(#g3)" stroke-width="0.9" stroke-opacity="0.26"/>
<path d="M35.5,158.3Q134.3,135.1 222.2,185.9" stroke="url(#g3)" stroke-width="0.8" stroke-opacity="0.16"/>
<path d="M35.4,158.0Q134.3,135.1 223.9,182.8" stroke="url(#g3)" stroke-width="1.6" stroke-opacity="0.18"/>
<path d="M35.3,157.5Q134.3,135.1 224.2,182.2" stroke="url(#g3)" stroke-width="1.1" stroke-opacity="0.19"/>
<path d="M35.2,157.2Q134.3,135.1 224.4,181.8" stroke="url(#g3)" stroke-width="0.7" stroke-opacity="0.26"/>
<path d="M35.2,156.8Q134.3,135.1 224.1,182.4" stroke="url(#g3)" stroke-width="0.8" stroke-opacity="0.18"/>
<path d="M35.1,156.5Q134.3,135.1 224.7,181.2" stroke="url(#g3)" stroke-width="1.3" stroke-opacity="0.19"/>
<path d="M35.0,156.1Q134.3,135.1 223.2,184.1" stroke="url(#g3)" stroke-width="0.7" stroke-opacity="0.18"/>
<path d="M34.9,155.5Q134.3,135.1 224.8,181.0" stroke="url(#g3)" stroke-width="1.0" stroke-opacity="0.26"/>
<path d="M34.8,155.1Q134.3,135.1 224.9,180.9" stroke="url(#g3)" stroke-width="1.0" stroke-opacity="0.24"/>
<path d="M34.8,154.9Q134.3,135.1 223.0,184.5" stroke="url(#g3)" stroke-width="0.8" stroke-opacity="0.27"/>
<path d="M34.7,154.5Q134.3,135.1 224.9,180.8" stroke="url(#g3)" stroke-width="1.1" stroke-opacity="0.16"/>
<path d="M34.6,154.0Q134.3,135.1 225.0,180.7" stroke="url(#g3)" stroke-width="1.5" stroke-opacity="0.22"/>
<path d="M34.5,153.7Q134.3,135.1 225.1,180.4" stroke="url(#g3)" stroke-width="1.2" stroke-opacity="0.17"/>
<path d="M34.4,153.2Q134.3,135.1 225.6,179.5" stroke="url(#g3)" stroke-width="1.1" stroke-opacity="0.22"/>
<path d="M34.4,153.0Q134.3,135.1 224.1,182.5" stroke="url(#g3)" stroke-width="1.0" stroke-opacity="0.23"/>
<path d="M34.3,152.5Q134.3,135.1 225.3,180.0" stroke="url(#g3)" stroke-width="1.0" stroke-opacity="0.15"/>
<path d="M34.3,152.3Q134.3,135.1 224.1,182.4" stroke="url(#g3)" stroke-width="0.9" stroke-opacity="0.23"/>
<path d="M34.2,151.9Q134.3,135.1 224.9,180.8" stroke="url(#g3)" stroke-width="1.0" stroke-opacity="0.21"/>
<path d="M34.1,151.4Q134.3,135.1 226.2,178.1" stroke="url(#g3)" stroke-width="0.9" stroke-opacity="0.17"/>
<path d="M34.1,151.1Q134.3,135.1 224.8,181.0" stroke="url(#g3)" stroke-width="0.9" stroke-opacity="0.20"/>
<path d="M34.0,150.4Q134.3,135.1 224.9,180.9" stroke="url(#g3)" stroke-width="1.5" stroke-opacity="0.26"/>
<path d="M34.0,150.3Q134.3,135.1 226.1,178.4" stroke="url(#g3)" stroke-width="0.6" stroke-opacity="0.24"/>
<path d="M33.9,149.7Q134.3,135.1 226.1,178.4" stroke="url(#g3)" stroke-width="1.0" stroke-opacity="0.23"/>
<path d="M33.8,149.3Q134.3,135.1 226.4,177.7" stroke="url(#g3)" stroke-width="1.4" stroke-opacity="0.19"/>
<path d="M33.8,149.0Q134.3,135.1 226.7,177.1" stroke="url(#g3)" stroke-width="0.7" stroke-opacity="0.27"/>
<path d="M33.7,148.5Q134.3,135.1 225.6,179.4" stroke="url(#g3)" stroke-width="0.6" stroke-opacity="0.15"/>
<path d="M33.7,148.4Q134.3,135.1 226.8,176.8" stroke="url(#g3)" stroke-width="0.9" stroke-opacity="0.19"/>
<path d="M33.6,148.0Q134.3,135.1 226.7,177.1" stroke="url(#g3)" stroke-width="1.2" stroke-opacity="0.17"/>
<path d="M33.5,147.3Q134.3,135.1 226.3,177.9" stroke="url(#g3)" stroke-width="1.3" stroke-opacity="0.18"/>
<path d="M33.5,147.1Q134.3,135.1 226.1,178.3" stroke="url(#g3)" stroke-width="0.9" stroke-opacity="0.14"/>
<path d="M33.4,146.6Q134.3,135.1 226.1,178.4" stroke="url(#g3)" stroke-width="0.9" stroke-opacity="0.15"/>
<path d="M33.4,146.2Q134.3,135.1 226.6,177.4" stroke="url(#g3)" stroke-width="0.6" stroke-opacity="0.17"/>
<path d="M33.4,146.1Q134.3,135.1 226.2,178.2" stroke="url(#g3)" stroke-width="0.8" stroke-opacity="0.27"/>
<path d="M33.3,145.4Q134.3,135.1 227.9,174.4" stroke="url(#g3)" stroke-width="1.3" stroke-opacity="0.20"/>
<path d="M33.3,145.0Q134.3,135.1 226.4,177.7" stroke="url(#g3)" stroke-width="0.9" stroke-opacity="0.15"/>
<path d="M33.2,144.6Q134.3,135.1 227.4,175.5" stroke="url(#g3)" stroke-width="1.5" stroke-opacity="0.24"/>
<path d="M33.2,144.2Q134.3,135.1 226.6,177.2" stroke="url(#g3)" stroke-width="1.2" stroke-opacity="0.20"/>
<path d="M33.2,144.1Q134.3,135.1 227.0,176.5" stroke="url(#g3)" stroke-width="1.0" stroke-opacity="0.21"/>
<path d="M33.1,143.4Q134.3,135.1 228.4,173.3" stroke="url(#g3)" stroke-width="1.4" stroke-opacity="0.15"/>
<path d="M33.1,143.1Q134.3,135.1 227.0,176.4" stroke="url(#g3)" stroke-width="0.9" stroke-opacity="0.22"/>
<path d="M33.1,142.6Q134.3,135.1 227.5,175.2" stroke="url(#g3)" stroke-width="1.1" stroke-opacity="0.17"/>
<path d="M33.1,142.5Q134.3,135.1 228.1,173.8" stroke="url(#g3)" stroke-width="1.0" stroke-opacity="0.17"/>
<path d="M33.0,142.1Q134.3,135.1 228.7,172.4" stroke="url(#g3)" stroke-width="1.3" stroke-opacity="0.23"/>
<path d="M33.0,141.7Q134.3,135.1 228.6,172.7" stroke="url(#g3)" stroke-width="1.1" stroke-opacity="0.20"/>
<path d="M33.0,141.0Q134.3,135.1 228.5,172.8" stroke="url(#g3)" stroke-width="0.9" stroke-opacity="0.26"/>
<path d="M33.0,140.9Q134.3,135.1 228.1,173.8" stroke="url(#g3)" stroke-width="0.9" stroke-opacity="0.25"/>
<path d="M32.9,140.4Q134.3,135.1 227.9,174.4" stroke="url(#g3)" stroke-width="0.8" stroke-opacity="0.23"/>
<path d="M32.9,140.0Q134.3,135.1 228.6,172.7" stroke="url(#g3)" stroke-width="1.4" stroke-opacity="0.26"/>
<path d="M32.9,139.8Q134.3,135.1 229.0,171.7" stroke="url(#g3)" stroke-width="1.0" stroke-opacity="0.17"/>
<path d="M32.9,139.4Q134.3,135.1 229.1,171.4" stroke="url(#g3)" stroke-width="0.8" stroke-opacity="0.24"/>
<path d="M32.9,138.9Q134.3,135.1 229.5,170.2" stroke="url(#g3)" stroke-width="0.9" stroke-opacity="0.21"/>
<path d="M32.9,138.5Q134.3,135.1 229.5,170.3" stroke="url(#g3)" stroke-width="0.7" stroke-opacity="0.14"/>
<path d="M32.8,137.9Q134.3,135.1 228.6,172.8" stroke="url(#g3)" stroke-width="0.7" stroke-opacity="0.24"/>
<path d="M32.8,137.5Q134.3,135.1 229.0,171.6" stroke="url(#g3)" stroke-width="0.7" stroke-opacity="0.21"/>
<path d="M32.8,137.3Q134.3,135.1 229.8,169.6" stroke="url(#g3)" stroke-width="1.1" stroke-opacity="0.14"/>
<path d="M32.8,136.7Q134.3,135.1 229.1,171.5" stroke="url(#g3)" stroke-width="1.2" stroke-opacity="0.27"/>
<path d="M32.8,136.4Q134.3,135.1 229.9,169.3" stroke="url(#g3)" stroke-width="0.8" stroke-opacity="0.16"/>
<path d="M32.8,136.3Q134.3,135.1 228.9,171.8" stroke="url(#g3)" stroke-width="1.4" stroke-opacity="0.18"/>
<path d="M32.8,135.8Q134.3,135.1 229.3,170.9" stroke="url(#g3)" stroke-width="1.4" stroke-opacity="0.27"/>
<path d="M32.8,135.4Q134.3,135.1 229.1,171.4" stroke="url(#g3)" stroke-width="1.4" stroke-opacity="0.24"/>
<path d="M32.8,135.0Q134.3,135.1 230.3,168.1" stroke="url(#g3)" stroke-width="1.4" stroke-opacity="0.18"/>
<path d="M32.8,134.6Q134.3,135.1 229.7,169.6" stroke="url(#g3)" stroke-width="1.0" stroke-opacity="0.26"/>
<path d="M32.8,134.2Q134.3,135.1 230.7,166.8" stroke="url(#g3)" stroke-width="1.2" stroke-opacity="0.23"/>
<path d="M32.8,133.6Q134.3,135.1 229.7,169.8" stroke="url(#g3)" stroke-width="1.5" stroke-opacity="0.27"/>
<path d="M32.8,133.3Q134.3,135.1 230.1,168.6" stroke="url(#g3)" stroke-width="0.8" stroke-opacity="0.18"/>
<path d="M32.8,132.9Q134.3,135.1 230.9,166.2" stroke="url(#g3)" stroke-width="1.3" stroke-opacity="0.16"/>
<path d="M32.8,132.6Q134.3,135.1 229.5,170.4" stroke="url(#g3)" stroke-width="0.7" stroke-opacity="0.15"/>
<path d="M32.8,132.2Q134.3,135.1 230.9,166.2" stroke="url(#g3)" stroke-width="1.3" stroke-opacity="0.14"/>
<path d="M32.9,131.6Q134.3,135.1 229.9,169.2" stroke="url(#g3)" stroke-width="1.4" stroke-opacity="0.20"/>
<path d="M32.9,131.4Q134.3,135.1 230.3,168.1" stroke="url(#g3)" stroke-width="1.1" stroke-opacity="0.20"/>
<path d="M32.9,131.0Q134.3,135.1 230.7,166.7" stroke="url(#g3)" stroke-width="1.3" stroke-opacity="0.26"/>
<path d="M32.9,130.4Q134.3,135.1 231.3,164.9" stroke="url(#g3)" stroke-width="0.9" stroke-opacity="0.20"/>
<path d="M32.9,130.2Q134.3,135.1 231.1,165.7" stroke="url(#g3)" stroke-width="0.8" stroke-opacity="0.15"/>
<path d="M32.9,129.9Q134.3,135.1 231.0,166.1" stroke="url(#g3)" stroke-width="1.6" stroke-opacity="0.27"/>
<path d="M33.0,129.3Q134.3,135.1 230.2,168.3" stroke="url(#g3)" stroke-width="1.6" stroke-opacity="0.23"/>
<path d="M33.0,128.9Q134.3,135.1 231.8,163.4" stroke="url(#g3)" stroke-width="1.3" stroke-opacity="0.23"/>
<path d="M33.0,128.7Q134.3,135.1 231.0,165.9" stroke="url(#g3)" stroke-width="1.6" stroke-opacity="0.21"/>
<path d="M33.0,128.2Q134.3,135.1 231.6,164.1" stroke="url(#g3)" stroke-width="0.9" stroke-opacity="0.26"/>
<path d="M33.0,128.0Q134.3,135.1 231.8,163.5" stroke="url(#g3)" stroke-width="1.3" stroke-opacity="0.20"/>
<path d="M33.1,127.6Q134.3,135.1 231.1,165.6" stroke="url(#g3)" stroke-width="1.0" stroke-opacity="0.22"/>
<path d="M33.1,127.1Q134.3,135.1 231.4,164.6" stroke="url(#g3)" stroke-width="1.2" stroke-opacity="0.20"/>
<path d="M33.1,126.8Q134.3,135.1 232.0,162.6" stroke="url(#g3)" stroke-width="1.5" stroke-opacity="0.22"/>
<path d="M33.2,126.4Q134.3,135.1 231.0,165.8" stroke="url(#g3)" stroke-width="0.9" stroke-opacity="0.15"/>
<path d="M33.2,125.8Q134.3,135.1 232.1,162.3" stroke="url(#g3)" stroke-width="1.1" stroke-opacity="0.22"/>
<path d="M33.2,125.6Q134.3,135.1 231.7,163.8" stroke="url(#g3)" stroke-width="0.7" stroke-opacity="0.21"/>
<path d="M33.3,125.0Q134.3,135.1 232.5,160.9" stroke="url(#g3)" stroke-width="1.0" stroke-opacity="0.15"/>
<path d="M33.3,124.7Q134.3,135.1 231.4,164.7" stroke="url(#g3)" stroke-width="1.2" stroke-opacity="0.24"/>
<path d="M33.4,124.2Q134.3,135.1 232.6,160.5" stroke="url(#g3)" stroke-width="1.6" stroke-opacity="0.24"/>
<path d="M33.4,124.1Q134.3,135.1 231.6,164.1" stroke="url(#g3)" stroke-width="1.0" stroke-opacity="0.16"/>
<path d="M33.5,123.3Q134.3,135.1 232.1,162.2" stroke="url(#g3)" stroke-width="1.4" stroke-opacity="0.16"/>
<path d="M33.5,123.0Q134.3,135.1 232.8,159.4" stroke="url(#g3)" stroke-width="0.8" stroke-opacity="0.19"/>
<path d="M33.5,122.9Q134.3,135.1 232.1,162.1" stroke="url(#g3)" stroke-width="0.8" stroke-opacity="0.18"/>
<path d="M33.6,122.3Q134.3,135.1 232.5,160.8" stroke="url(#g3)" stroke-width="1.5" stroke-opacity="0.23"/>
<path d="M33.7,121.8Q134.3,135.1 232.4,161.2" stroke="url(#g3)" stroke-width="1.5" stroke-opacity="0.26"/>
<path d="M33.7,121.7Q134.3,135.1 232.2,162.1" stroke="url(#g3)" stroke-width="0.9" stroke-opacity="0.25"/>
<path d="M33.8,121.1Q134.3,135.1 232.1,162.1" stroke="url(#g3)" stroke-width="0.7" stroke-opacity="0.19"/>
<path d="M33.8,120.7Q134.3,135.1 232.1,162.4" stroke="url(#g3)" stroke-width="1.3" stroke-opacity="0.15"/>
<path d="M33.9,120.3Q134.3,135.1 233.2,157.8" stroke="url(#g3)" stroke-width="1.1" stroke-opacity="0.25"/>
<path d="M33.9,120.2Q134.3,135.1 232.2,161.9" stroke="url(#g3)" stroke-width="1.3" stroke-opacity="0.18"/>
<path d="M34.0,119.7Q134.3,135.1 232.9,159.2" stroke="url(#g3)" stroke-width="1.4" stroke-opacity="0.22"/>
<path d="M34.0,119.4Q134.3,135.1 233.5,156.8" stroke="url(#g3)" stroke-width="0.7" stroke-opacity="0.25"/>
<path d="M34.1,119.0Q134.3,135.1 232.9,159.2" stroke="url(#g3)" stroke-width="0.9" stroke-opacity="0.24"/>
<path d="M34.2,118.5Q134.3,135.1 233.5,156.8" stroke="url(#g3)" stroke-width="1.5" stroke-opacity="0.22"/>
<path d="M34.3,118.0Q134.3,135.1 232.7,159.9" stroke="url(#g3)" stroke-width="1.5" stroke-opacity="0.14"/>
<path d="M34.3,117.7Q134.3,135.1 233.6,156.3" stroke="url(#g3)" stroke-width="1.1" stroke-opacity="0.26"/>
<path d="M136.3,33.6Q134.3,135.1 46.9,186.7" stroke="url(#g4)" stroke-width="0.8" stroke-opacity="0.24"/>
<path d="M136.6,33.6Q134.3,135.1 46.1,185.3" stroke="url(#g4)" stroke-width="1.1" stroke-opacity="0.15"/>
<path d="M137.0,33.6Q134.3,135.1 46.3,185.6" stroke="url(#g4)" stroke-width="1.5" stroke-opacity="0.21"/>
<path d="M137.1,33.6Q134.3,135.1 46.5,186.0" stroke="url(#g4)" stroke-width="0.8" stroke-opacity="0.25"/>
<path d="M137.6,33.7Q134.3,135.1 47.5,187.7" stroke="url(#g4)" stroke-width="0.8" stroke-opacity="0.18"/>
<path d="M137.9,33.7Q134.3,135.1 46.2,185.5" stroke="url(#g4)" stroke-width="1.0" stroke-opacity="0.18"/>
<path d="M138.1,33.7Q134.3,135.1 46.3,185.7" stroke="url(#g4)" stroke-width="0.9" stroke-opacity="0.13"/>
<path d="M138.6,33.7Q134.3,135.1 45.5,184.2" stroke="url(#g4)" stroke-width="0.6" stroke-opacity="0.15"/>
<path d="M139.0,33.7Q134.3,135.1 47.6,187.8" stroke="url(#g4)" stroke-width="0.9" stroke-opacity="0.20"/>
<path d="M139.2,33.7Q134.3,135.1 46.9,186.6" stroke="url(#g4)" stroke-width="1.1" stroke-opacity="0.25"/>
<path d="M139.8,33.7Q134.3,135.1 48.6,189.5" stroke="url(#g4)" stroke-width="1.2" stroke-opacity="0.23"/>
<path d="M140.1,33.8Q134.3,135.1 46.7,186.4" stroke="url(#g4)" stroke-width="1.2" stroke-opacity="0.21"/>
<path d="M140.3,33.8Q134.3,135.1 48.2,188.8" stroke="url(#g4)" stroke-width="1.4" stroke-opacity="0.24"/>
<path d="M140.8,33.8Q134.3,135.1 47.3,187.4" stroke="url(#g4)" stroke-width="0.9" stroke-opacity="0.23"/>
<path d="M141.1,33.8Q134.3,135.1 47.9,188.4" stroke="url(#g4)" stroke-width="1.2" stroke-opacity="0.18"/>
<path d="M141.3,33.8Q134.3,135.1 48.4,189.1" stroke="url(#g4)" stroke-width="0.7" stroke-opacity="0.17"/>
<path d="M141.6,33.9Q134.3,135.1 46.9,186.7" stroke="url(#g4)" stroke-width="1.1" stroke-opacity="0.18"/>
<path d="M141.9,33.9Q134.3,135.1 49.2,190.4" stroke="url(#g4)" stroke-width="0.9" stroke-opacity="0.15"/>
<path d="M142.2,33.9Q134.3,135.1 47.5,187.7" stroke="url(#g4)" stroke-width="1.1" stroke-opacity="0.19"/>
<path d="M142.7,33.9Q134.3,135.1 49.4,190.7" stroke="url(#g4)" stroke-width="0.8" stroke-opacity="0.14"/>
<path d="M142.9,34.0Q134.3,135.1 49.5,190.9" stroke="url(#g4)" stroke-width="1.3" stroke-opacity="0.20"/>
<path d="M143.5,34.0Q134.3,135.1 49.7,191.2" stroke="url(#g4)" stroke-width="1.5" stroke-opacity="0.21"/>
<path d="M143.5,34.0Q134.3,135.1 50.2,191.9" stroke="url(#g4)" stroke-width="1.2" stroke-opacity="0.26"/>
<path d="M144.0,34.1Q134.3,135.1 48.7,189.6" stroke="url(#g4)" stroke-width="1.0" stroke-opacity="0.24"/>
<path d="M144.2,34.1Q134.3,135.1 49.7,191.1" stroke="url(#g4)" stroke-width="1.5" stroke-opacity="0.17"/>
<path d="M144.6,34.1Q134.3,135.1 51.3,193.5" stroke="url(#g4)" stroke-width="0.8" stroke-opacity="0.16"/>
<path d="M145.1,34.2Q134.3,135.1 50.9,193.0" stroke="url(#g4)" stroke-width="1.0" stroke-opacity="0.16"/>
<path d="M145.4,34.2Q134.3,135.1 49.2,190.4" stroke="url(#g4)" stroke-width="1.2" stroke-opacity="0.16"/>
<path d="M145.8,34.3Q134.3,135.1 49.1,190.3" stroke="url(#g4)" stroke-width="1.2" stroke-opacity="0.14"/>
<path d="M146.1,34.3Q134.3,135.1 49.6,191.0" stroke="url(#g4)" stroke-width="0.9" stroke-opacity="0.15"/>
<path d="M146.3,34.3Q134.3,135.1 50.6,192.6" stroke="url(#g4)" stroke-width="1.5" stroke-opacity="0.21"/>
<path d="M146.9,34.4Q134.3,135.1 52.0,194.4" stroke="url(#g4)" stroke-width="0.9" stroke-opacity="0.23"/>
<path d="M147.1,34.4Q134.3,135.1 51.5,193.8" stroke="url(#g4)" stroke-width="1.3" stroke-opacity="0.17"/>
<path d="M147.2,34.4Q134.3,135.1 51.5,193.9" stroke="url(#g4)" stroke-width="0.6" stroke-opacity="0.21"/>
<path d="M147.7,34.5Q134.3,135.1 51.5,193.9" stroke="url(#g4)" stroke-width="1.2" stroke-opacity="0.16"/>
<path d="M148.1,34.5Q134.3,135.1 53.3,196.2" stroke="url(#g4)" stroke-width="1.5" stroke-opacity="0.20"/>
<path d="M148.6,34.6Q134.3,135.1 53.4,196.4" stroke="url(#g4)" stroke-width="1.2" stroke-opacity="0.22"/>
<path d="M148.7,34.6Q134.3,135.1 53.4,196.4" stroke="url(#g4)" stroke-width="0.8" stroke-opacity="0.15"/>
<path d="M149.2,34.7Q134.3,135.1 53.7,196.8" stroke="url(#g4)" stroke-width="1.4" stroke-opacity="0.19"/>
<path d="M149.4,34.7Q134.3,135.1 52.2,194.8" stroke="url(#g4)" stroke-width="1.2" stroke-opacity="0.22"/>
<path d="M149.8,34.8Q134.3,135.1 53.3,196.2" stroke="url(#g4)" stroke-width="1.3" stroke-opacity="0.16"/>
<path d="M150.1,34.8Q134.3,135.1 52.1,194.7" stroke="url(#g4)" stroke-width="1.4" stroke-opacity="0.17"/>
<path d="M150.5,34.9Q134.3,135.1 51.7,194.0" stroke="url(#g4)" stroke-width="1.1" stroke-opacity="0.17"/>
<path d="M150.8,34.9Q134.3,135.1 51.9,194.4" stroke="url(#g4)" stroke-width="0.7" stroke-opacity="0.13"/>
<path d="M151.1,35.0Q134.3,135.1 53.0,195.9" stroke="url(#g4)" stroke-width="1.4" stroke-opacity="0.18"/>
<path d="M151.6,35.1Q134.3,135.1 54.7,198.1" stroke="url(#g4)" stroke-width="1.4" stroke-opacity="0.14"/>
<path d="M151.6,35.1Q134.3,135.1 55.0,198.5" stroke="url(#g4)" stroke-width="0.7" stroke-opacity="0.20"/>
<path d="M152.1,35.2Q134.3,135.1 55.2,198.6" stroke="url(#g4)" stroke-width="1.5" stroke-opacity="0.18"/>
<path d="M152.3,35.2Q134.3,135.1 55.3,198.8" stroke="url(#g4)" stroke-width="1.3" stroke-opacity="0.25"/>
<path d="M152.6,35.3Q134.3,135.1 56.0,199.7" stroke="url(#g4)" stroke-width="1.4" stroke-opacity="0.16"/>
<path d="M153.2,35.4Q134.3,135.1 54.8,198.2" stroke="url(#g4)" stroke-width="1.2" stroke-opacity="0.17"/>
<path d="M153.5,35.4Q134.3,135.1 55.1,198.6" stroke="url(#g4)" stroke-width="0.9" stroke-opacity="0.25"/>
<path d="M153.6,35.5Q134.3,135.1 54.3,197.5" stroke="url(#g4)" stroke-width="0.7" stroke-opacity="0.21"/>
<path d="M154.0,35.5Q134.3,135.1 54.1,197.3" stroke="url(#g4)" stroke-width="0.7" stroke-opacity="0.20"/>
<path d="M154.4,35.6Q134.3,135.1 54.1,197.3" stroke="url(#g4)" stroke-width="1.5" stroke-opacity="0.21"/>
<path d="M154.7,35.7Q134.3,135.1 56.5,200.3" stroke="url(#g4)" stroke-width="0.9" stroke-opacity="0.19"/>
<path d="M155.0,35.7Q134.3,135.1 56.9,200.8" stroke="url(#g4)" stroke-width="1.4" stroke-opacity="0.21"/>
<path d="M155.3,35.8Q134.3,135.1 54.5,197.8" stroke="url(#g4)" stroke-width="0.8" stroke-opacity="0.20"/>
<path d="M155.6,35.9Q134.3,135.1 55.1,198.5" stroke="url(#g4)" stroke-width="1.5" stroke-opacity="0.16"/>
<path d="M156.2,36.0Q134.3,135.1 55.5,199.1" stroke="url(#g4)" stroke-width="0.9" stroke-opacity="0.17"/>
<path d="M156.4,36.0Q134.3,135.1 55.5,199.0" stroke="url(#g4)" stroke-width="0.8" stroke-opacity="0.22"/>
<path d="M156.8,36.1Q134.3,135.1 57.2,201.1" stroke="url(#g4)" stroke-width="1.2" stroke-opacity="0.24"/>
<path d="M157.0,36.2Q134.3,135.1 55.8,199.5" stroke="url(#g4)" stroke-width="1.0" stroke-opacity="0.23"/>
<path d="M157.5,36.3Q134.3,135.1 58.6,202.7" stroke="url(#g4)" stroke-width="1.5" stroke-opacity="0.26"/>
<path d="M157.7,36.3Q134.3,135.1 59.3,203.5" stroke="url(#g4)" stroke-width="0.7" stroke-opacity="0.26"/>
<path d="M157.9,36.4Q134.3,135.1 56.3,200.1" stroke="url(#g4)" stroke-width="0.8" stroke-opacity="0.23"/>
<path d="M158.3,36.5Q134.3,135.1 59.1,203.3" stroke="url(#g4)" stroke-width="1.3" stroke-opacity="0.14"/>
<path d="M158.7,36.6Q134.3,135.1 56.8,200.6" stroke="url(#g4)" stroke-width="1.3" stroke-opacity="0.24"/>
<path d="M159.2,36.7Q134.3,135.1 60.3,204.5" stroke="url(#g4)" stroke-width="0.8" stroke-opacity="0.23"/>
<path d="M159.4,36.8Q134.3,135.1 60.4,204.7" stroke="url(#g4)" stroke-width="1.1" stroke-opacity="0.16"/>
<path d="M159.7,36.8Q134.3,135.1 60.3,204.6" stroke="url(#g4)" stroke-width="0.6" stroke-opacity="0.26"/>
<path d="M160.0,36.9Q134.3,135.1 57.8,201.8" stroke="url(#g4)" stroke-width="0.7" stroke-opacity="0.19"/>
<path d="M160.2,37.0Q134.3,135.1 59.6,203.8" stroke="url(#g4)" stroke-width="0.8" stroke-opacity="0.22"/>
<path d="M160.6,37.1Q134.3,135.1 58.7,202.8" stroke="url(#g4)" stroke-width="1.1" stroke-opacity="0.14"/>
<path d="M161.0,37.2Q134.3,135.1 59.8,204.0" stroke="url(#g4)" stroke-width="1.5" stroke-opacity="0.18"/>
<path d="M161.2,37.2Q134.3,135.1 58.3,202.4" stroke="url(#g4)" stroke-width="1.5" stroke-opacity="0.23"/>
<path d="M161.6,37.3Q134.3,135.1 61.4,205.7" stroke="url(#g4)" stroke-width="0.9" stroke-opacity="0.14"/>
<path d="M161.8,37.4Q134.3,135.1 60.4,204.6" stroke="url(#g4)" stroke-width="1.0" stroke-opacity="0.20"/>
<path d="M162.3,37.5Q134.3,135.1 62.5,206.8" stroke="url(#g4)" stroke-width="1.3" stroke-opacity="0.21"/>
<path d="M162.7,37.6Q134.3,135.1 60.8,205.1" stroke="url(#g4)" stroke-width="1.3" stroke-opacity="0.26"/>
<path d="M163.1,37.8Q134.3,135.1 60.5,204.7" stroke="url(#g4)" stroke-width="1.0" stroke-opacity="0.17"/>
<path d="M163.3,37.8Q134.3,135.1 59.7,203.9" stroke="url(#g4)" stroke-width="1.0" stroke-opacity="0.18"/>
<path d="M163.6,37.9Q134.3,135.1 62.9,207.3" stroke="url(#g4)" stroke-width="1.6" stroke-opacity="0.13"/>
<path d="M164.0,38.0Q134.3,135.1 60.3,204.6" stroke="url(#g4)" stroke-width="0.9" stroke-opacity="0.21"/>
<path d="M164.2,38.1Q134.3,135.1 63.0,207.4" stroke="url(#g4)" stroke-width="0.8" stroke-opacity="0.15"/>
<path d="M164.7,38.3Q134.3,135.1 61.3,205.7" stroke="url(#g4)" stroke-width="1.5" stroke-opacity="0.14"/>
<path d="M165.0,38.3Q134.3,135.1 63.3,207.6" stroke="url(#g4)" stroke-width="1.2" stroke-opacity="0.20"/>
<path d="M165.2,38.4Q134.3,135.1 61.0,205.3" stroke="url(#g4)" stroke-width="0.6" stroke-opacity="0.23"/>
<path d="M165.7,38.6Q134.3,135.1 63.1,207.4" stroke="url(#g4)" stroke-width="1.2" stroke-opacity="0.26"/>
<path d="M165.8,38.6Q134.3,135.1 62.7,207.0" stroke="url(#g4)" stroke-width="1.3" stroke-opacity="0.18"/>
<path d="M166.3,38.8Q134.3,135.1 63.9,208.3" stroke="url(#g4)" stroke-width="1.1" stroke-opacity="0.21"/>
<path d="M166.6,38.9Q134.3,135.1 64.4,208.7" stroke="url(#g4)" stroke-width="1.2" stroke-opacity="0.20"/>
<path d="M166.8,38.9Q134.3,135.1 63.5,207.8" stroke="url(#g4)" stroke-width="0.9" stroke-opacity="0.25"/>
<path d="M167.2,39.1Q134.3,135.1 63.3,207.7" stroke="url(#g4)" stroke-width="1.1" stroke-opacity="0.19"/>
<path d="M167.4,39.1Q134.3,135.1 65.8,210.0" stroke="url(#g4)" stroke-width="1.5" stroke-opacity="0.20"/>
<path d="M167.8,39.3Q134.3,135.1 64.6,208.9" stroke="url(#g4)" stroke-width="1.4" stroke-opacity="0.16"/>
<path d="M168.0,39.4Q134.3,135.1 63.6,207.9" stroke="url(#g4)" stroke-width="1.1" stroke-opacity="0.21"/>
<path d="M168.5,39.6Q134.3,135.1 63.7,208.0" stroke="url(#g4)" stroke-width="1.5" stroke-opacity="0.14"/>
<path d="M168.7,39.6Q134.3,135.1 64.1,208.4" stroke="url(#g4)" stroke-width="1.4" stroke-opacity="0.15"/>
<path d="M169.0,39.7Q134.3,135.1 66.5,210.7" stroke="url(#g4)" stroke-width="0.7" stroke-opacity="0.18"/>
<path d="M169.5,39.9Q134.3,135.1 65.9,210.1" stroke="url(#g4)" stroke-width="1.1" stroke-opacity="0.14"/>
<path d="M169.7,40.0Q134.3,135.1 64.2,208.5" stroke="url(#g4)" stroke-width="1.3" stroke-opacity="0.19"/>
<path d="M170.0,40.1Q134.3,135.1 65.2,209.4" stroke="url(#g4)" stroke-width="1.4" stroke-opacity="0.15"/>
<path d="M170.4,40.2Q134.3,135.1 67.2,211.2" stroke="url(#g4)" stroke-width="1.1" stroke-opacity="0.16"/>
<path d="M170.6,40.3Q134.3,135.1 67.5,211.5" stroke="url(#g4)" stroke-width="1.0" stroke-opacity="0.13"/>
<path d="M170.9,40.4Q134.3,135.1 66.7,210.8" stroke="url(#g4)" stroke-width="0.7" stroke-opacity="0.15"/>
<path d="M171.4,40.6Q134.3,135.1 68.3,212.2" stroke="url(#g4)" stroke-width="0.9" stroke-opacity="0.16"/>
<path d="M171.7,40.8Q134.3,135.1 69.3,213.1" stroke="url(#g4)" stroke-width="1.2" stroke-opacity="0.24"/>
<path d="M171.8,40.8Q134.3,135.1 68.1,212.0" stroke="url(#g4)" stroke-width="1.4" stroke-opacity="0.21"/>
<path d="M172.2,40.9Q134.3,135.1 69.9,213.6" stroke="url(#g4)" stroke-width="1.0" stroke-opacity="0.18"/>
<path d="M172.6,41.1Q134.3,135.1 69.2,213.0" stroke="url(#g4)" stroke-width="1.0" stroke-opacity="0.21"/>
<path d="M173.0,41.3Q134.3,135.1 69.3,213.0" stroke="url(#g4)" stroke-width="1.0" stroke-opacity="0.21"/>
<path d="M173.3,41.4Q134.3,135.1 70.2,213.8" stroke="url(#g4)" stroke-width="1.6" stroke-opacity="0.22"/>
<path d="M173.5,41.5Q134.3,135.1 68.4,212.3" stroke="url(#g4)" stroke-width="0.9" stroke-opacity="0.14"/>
<path d="M173.9,41.6Q134.3,135.1 69.9,213.5" stroke="url(#g4)" stroke-width="1.1" stroke-opacity="0.19"/>
<path d="M174.3,41.8Q134.3,135.1 68.6,212.5" stroke="url(#g4)" stroke-width="0.6" stroke-opacity="0.21"/>
<path d="M174.4,41.9Q134.3,135.1 70.0,213.6" stroke="url(#g4)" stroke-width="1.4" stroke-opacity="0.18"/>
<path d="M174.7,42.0Q134.3,135.1 68.5,212.4" stroke="url(#g4)" stroke-width="1.0" stroke-opacity="0.19"/>
<path d="M175.1,42.1Q134.3,135.1 69.0,212.8" stroke="url(#g4)" stroke-width="1.3" stroke-opacity="0.23"/>
<path d="M175.3,42.3Q134.3,135.1 72.5,215.6" stroke="url(#g4)" stroke-width="1.3" stroke-opacity="0.20"/>
<path d="M175.8,42.5Q134.3,135.1 69.8,213.5" stroke="url(#g4)" stroke-width="0.7" stroke-opacity="0.16"/>
<path d="M175.9,42.5Q134.3,135.1 69.7,213.4" stroke="url(#g4)" stroke-width="0.7" stroke-opacity="0.14"/>
<path d="M176.4,42.7Q134.3,135.1 71.2,214.6" stroke="url(#g4)" stroke-width="0.7" stroke-opacity="0.22"/>
<path d="M176.7,42.9Q134.3,135.1 71.8,215.0" stroke="url(#g4)" stroke-width="0.7" stroke-opacity="0.22"/>
<path d="M176.9,43.0Q134.3,135.1 71.5,214.9" stroke="url(#g4)" stroke-width="1.6" stroke-opacity="0.24"/>
<path d="M177.3,43.2Q134.3,135.1 73.7,216.6" stroke="url(#g4)" stroke-width="0.9" stroke-opacity="0.20"/>
<path d="M177.4,43.2Q134.3,135.1 70.2,213.8" stroke="url(#g4)" stroke-width="0.9" stroke-opacity="0.16"/>
<path d="M177.8,43.4Q134.3,135.1 73.7,216.5" stroke="url(#g4)" stroke-width="1.5" stroke-opacity="0.20"/>
<path d="M178.1,43.6Q134.3,135.1 73.3,216.2" stroke="url(#g4)" stroke-width="0.7" stroke-opacity="0.17"/>
<path d="M178.6,43.8Q134.3,135.1 72.0,215.2" stroke="url(#g4)" stroke-width="1.5" stroke-opacity="0.16"/>
<path d="M178.7,43.8Q134.3,135.1 75.3,217.7" stroke="url(#g4)" stroke-width="1.1" stroke-opacity="0.18"/>
<path d="M179.0,44.0Q134.3,135.1 73.8,216.6" stroke="url(#g4)" stroke-width="1.2" stroke-opacity="0.18"/>
<path d="M179.5,44.2Q134.3,135.1 75.3,217.7" stroke="url(#g4)" stroke-width="1.5" stroke-opacity="0.20"/>
<path d="M179.5,44.2Q134.3,135.1 74.9,217.4" stroke="url(#g4)" stroke-width="1.1" stroke-opacity="0.18"/>
<path d="M180.0,44.5Q134.3,135.1 75.3,217.7" stroke="url(#g4)" stroke-width="0.9" stroke-opacity="0.23"/>
<path d="M180.2,44.6Q134.3,135.1 73.8,216.6" stroke="url(#g4)" stroke-width="1.4" stroke-opacity="0.21"/>
<path d="M180.6,44.8Q134.3,135.1 73.2,216.1" stroke="url(#g4)" stroke-width="1.0" stroke-opacity="0.24"/>
<path d="M180.7,44.8Q134.3,135.1 75.5,217.8" stroke="url(#g4)" stroke-width="1.2" stroke-opacity="0.14"/>
<path d="M181.3,45.1Q134.3,135.1 77.5,219.2" stroke="url(#g4)" stroke-width="1.2" stroke-opacity="0.15"/>
<path d="M181.6,45.3Q134.3,135.1 75.7,218.0" stroke="url(#g4)" stroke-width="1.4" stroke-opacity="0.19"/>
<path d="M181.8,45.4Q134.3,135.1 75.4,217.8" stroke="url(#g4)" stroke-width="0.9" stroke-opacity="0.16"/>
<path d="M182.2,45.6Q134.3,135.1 78.0,219.6" stroke="url(#g4)" stroke-width="1.5" stroke-opacity="0.16"/>
<path d="M182.3,45.6Q134.3,135.1 78.3,219.8" stroke="url(#g4)" stroke-width="1.4" stroke-opacity="0.25"/>
<path d="M182.6,45.9Q134.3,135.1 76.2,218.3" stroke="url(#g4)" stroke-width="0.9" stroke-opacity="0.25"/>
<path d="M183.0,46.1Q134.3,135.1 78.8,220.1" stroke="url(#g4)" stroke-width="0.7" stroke-opacity="0.22"/>
<path d="M183.1,46.1Q134.3,135.1 75.9,218.1" stroke="url(#g4)" stroke-width="0.9" stroke-opacity="0.16"/>
<path d="M183.6,46.4Q134.3,135.1 78.6,219.9" stroke="url(#g4)" stroke-width="1.2" stroke-opacity="0.15"/>
<path d="M184.0,46.6Q134.3,135.1 78.9,220.1" stroke="url(#g4)" stroke-width="1.4" stroke-opacity="0.15"/>
<path d="M184.2,46.7Q134.3,135.1 76.2,218.4" stroke="url(#g4)" stroke-width="1.0" stroke-opacity="0.13"/>
<path d="M184.4,46.8Q134.3,135.1 77.9,219.5" stroke="url(#g4)" stroke-width="0.8" stroke-opacity="0.20"/>
<path d="M184.6,47.0Q134.3,135.1 78.9,220.1" stroke="url(#g4)" stroke-width="1.3" stroke-opacity="0.19"/>
<path d="M185.1,47.2Q134.3,135.1 80.9,221.4" stroke="url(#g4)" stroke-width="1.4" stroke-opacity="0.15"/>
<path d="M185.5,47.4Q134.3,135.1 77.3,219.1" stroke="url(#g4)" stroke-width="1.5" stroke-opacity="0.20"/>
<path d="M185.6,47.5Q134.3,135.1 80.3,221.0" stroke="url(#g4)" stroke-width="1.4" stroke-opacity="0.19"/>
<path d="M186.0,47.8Q134.3,135.1 81.9,222.0" stroke="url(#g4)" stroke-width="1.1" stroke-opacity="0.24"/>
<path d="M186.2,47.9Q134.3,135.1 80.1,220.9" stroke="url(#g4)" stroke-width="0.7" stroke-opacity="0.15"/>
<path d="M186.4,48.0Q134.3,135.1 78.7,220.0" stroke="url(#g4)" stroke-width="1.4" stroke-opacity="0.16"/>
<path d="M186.9,48.3Q134.3,135.1 83.0,222.7" stroke="url(#g4)" stroke-width="1.2" stroke-opacity="0.26"/>
<path d="M187.0,48.4Q134.3,135.1 79.0,220.2" stroke="url(#g4)" stroke-width="1.3" stroke-opacity="0.14"/>
<path d="M187.3,48.5Q134.3,135.1 81.5,221.8" stroke="url(#g4)" stroke-width="0.8" stroke-opacity="0.23"/>
<path d="M187.6,48.7Q134.3,135.1 80.2,221.0" stroke="url(#g4)" stroke-width="0.9" stroke-opacity="0.14"/>
<path d="M188.0,48.9Q134.3,135.1 83.8,223.1" stroke="url(#g4)" stroke-width="1.2" stroke-opacity="0.23"/>
<path d="M207.4,64.7Q134.3,135.1 96.6,229.3" stroke="url(#g5)" stroke-width="0.6" stroke-opacity="0.23"/>
<path d="M207.5,64.8Q134.3,135.1 95.8,229.0" stroke="url(#g5)" stroke-width="0.7" stroke-opacity="0.24"/>
<path d="M207.8,65.1Q134.3,135.1 97.5,229.7" stroke="url(#g5)" stroke-width="1.3" stroke-opacity="0.17"/>
<path d="M207.9,65.2Q134.3,135.1 94.9,228.6" stroke="url(#g5)" stroke-width="0.9" stroke-opacity="0.28"/>
<path d="M208.2,65.5Q134.3,135.1 97.6,229.7" stroke="url(#g5)" stroke-width="0.7" stroke-opacity="0.16"/>
<path d="M208.4,65.7Q134.3,135.1 99.7,230.5" stroke="url(#g5)" stroke-width="1.1" stroke-opacity="0.23"/>
<path d="M208.5,65.8Q134.3,135.1 98.0,229.9" stroke="url(#g5)" stroke-width="0.8" stroke-opacity="0.23"/>
<path d="M208.7,66.1Q134.3,135.1 98.8,230.2" stroke="url(#g5)" stroke-width="0.8" stroke-opacity="0.21"/>
<path d="M208.8,66.2Q134.3,135.1 100.2,230.7" stroke="url(#g5)" stroke-width="0.8" stroke-opacity="0.28"/>
<path d="M209.1,66.5Q134.3,135.1 96.7,229.4" stroke="url(#g5)" stroke-width="0.6" stroke-opacity="0.29"/>
<path d="M209.3,66.7Q134.3,135.1 97.5,229.7" stroke="url(#g5)" stroke-width="1.2" stroke-opacity="0.25"/>
<path d="M209.4,66.8Q134.3,135.1 97.9,229.8" stroke="url(#g5)" stroke-width="0.8" stroke-opacity="0.19"/>
<path d="M209.5,67.0Q134.3,135.1 99.8,230.6" stroke="url(#g5)" stroke-width="1.1" stroke-opacity="0.19"/>
<path d="M209.9,67.3Q134.3,135.1 101.9,231.3" stroke="url(#g5)" stroke-width="1.2" stroke-opacity="0.19"/>
<path d="M210.0,67.5Q134.3,135.1 98.6,230.1" stroke="url(#g5)" stroke-width="1.3" stroke-opacity="0.16"/>
<path d="M210.1,67.6Q134.3,135.1 99.6,230.5" stroke="url(#g5)" stroke-width="1.6" stroke-opacity="0.16"/>
<path d="M210.4,67.9Q134.3,135.1 99.5,230.5" stroke="url(#g5)" stroke-width="1.4" stroke-opacity="0.20"/>
<path d="M210.6,68.1Q134.3,135.1 101.0,231.0" stroke="url(#g5)" stroke-width="1.5" stroke-opacity="0.15"/>
<path d="M210.8,68.4Q134.3,135.1 101.5,231.2" stroke="url(#g5)" stroke-width="1.0" stroke-opacity="0.16"/>
<path d="M210.8,68.4Q134.3,135.1 100.0,230.6" stroke="url(#g5)" stroke-width="1.3" stroke-opacity="0.17"/>
<path d="M211.0,68.7Q134.3,135.1 103.3,231.7" stroke="url(#g5)" stroke-width="0.8" stroke-opacity="0.18"/>
<path d="M211.2,68.9Q134.3,135.1 99.3,230.4" stroke="url(#g5)" stroke-width="1.6" stroke-opacity="0.27"/>
<path d="M211.4,69.1Q134.3,135.1 102.0,231.3" stroke="url(#g5)" stroke-width="1.4" stroke-opacity="0.29"/>
<path d="M211.6,69.4Q134.3,135.1 101.6,231.2" stroke="url(#g5)" stroke-width="0.8" stroke-opacity="0.24"/>
<path d="M211.8,69.6Q134.3,135.1 101.1,231.0" stroke="url(#g5)" stroke-width="0.7" stroke-opacity="0.26"/>
<path d="M211.9,69.7Q134.3,135.1 104.4,232.1" stroke="url(#g5)" stroke-width="1.6" stroke-opacity="0.25"/>
<path d="M212.2,70.0Q134.3,135.1 104.9,232.3" stroke="url(#g5)" stroke-width="1.4" stroke-opacity="0.29"/>
<path d="M212.4,70.2Q134.3,135.1 102.1,231.4" stroke="url(#g5)" stroke-width="1.4" stroke-opacity="0.27"/>
<path d="M212.5,70.4Q134.3,135.1 103.9,231.9" stroke="url(#g5)" stroke-width="1.4" stroke-opacity="0.27"/>
<path d="M212.7,70.6Q134.3,135.1 104.9,232.3" stroke="url(#g5)" stroke-width="1.6" stroke-opacity="0.23"/>
<path d="M212.9,70.9Q134.3,135.1 106.1,232.6" stroke="url(#g5)" stroke-width="1.6" stroke-opacity="0.27"/>
<path d="M212.9,70.9Q134.3,135.1 102.5,231.5" stroke="url(#g5)" stroke-width="0.8" stroke-opacity="0.18"/>
<path d="M213.1,71.2Q134.3,135.1 105.9,232.5" stroke="url(#g5)" stroke-width="1.1" stroke-opacity="0.29"/>
<path d="M213.3,71.4Q134.3,135.1 103.8,231.9" stroke="url(#g5)" stroke-width="1.0" stroke-opacity="0.27"/>
<path d="M213.5,71.7Q134.3,135.1 104.2,232.0" stroke="url(#g5)" stroke-width="1.5" stroke-opacity="0.27"/>
<path d="M213.6,71.8Q134.3,135.1 107.4,233.0" stroke="url(#g5)" stroke-width="1.3" stroke-opacity="0.28"/>
<path d="M213.8,72.0Q134.3,135.1 105.1,232.3" stroke="url(#g5)" stroke-width="1.4" stroke-opacity="0.27"/>
<path d="M213.9,72.1Q134.3,135.1 105.8,232.5" stroke="url(#g5)" stroke-width="0.6" stroke-opacity="0.17"/>
<path d="M214.2,72.5Q134.3,135.1 106.6,232.8" stroke="url(#g5)" stroke-width="1.2" stroke-opacity="0.22"/>
<path d="M214.3,72.6Q134.3,135.1 107.8,233.1" stroke="url(#g5)" stroke-width="1.0" stroke-opacity="0.28"/>
<path d="M214.5,72.9Q134.3,135.1 107.7,233.1" stroke="url(#g5)" stroke-width="0.7" stroke-opacity="0.19"/>
<path d="M214.7,73.1Q134.3,135.1 107.3,232.9" stroke="url(#g5)" stroke-width="1.3" stroke-opacity="0.27"/>
<path d="M214.8,73.2Q134.3,135.1 106.1,232.6" stroke="url(#g5)" stroke-width="0.6" stroke-opacity="0.27"/>
<path d="M214.9,73.4Q134.3,135.1 108.5,233.3" stroke="url(#g5)" stroke-width="1.6" stroke-opacity="0.20"/>
<path d="M215.1,73.7Q134.3,135.1 105.6,232.5" stroke="url(#g5)" stroke-width="1.2" stroke-opacity="0.28"/>
<path d="M215.3,73.9Q134.3,135.1 107.9,233.1" stroke="url(#g5)" stroke-width="1.6" stroke-opacity="0.23"/>
<path d="M215.6,74.3Q134.3,135.1 109.9,233.6" stroke="url(#g5)" stroke-width="1.4" stroke-opacity="0.17"/>
<path d="M215.6,74.4Q134.3,135.1 111.1,233.9" stroke="url(#g5)" stroke-width="0.8" stroke-opacity="0.29"/>
<path d="M215.8,74.6Q134.3,135.1 107.1,232.9" stroke="url(#g5)" stroke-width="0.9" stroke-opacity="0.20"/>
<path d="M215.9,74.7Q134.3,135.1 108.6,233.3" stroke="url(#g5)" stroke-width="1.5" stroke-opacity="0.23"/>
<path d="M216.1,75.0Q134.3,135.1 107.0,232.9" stroke="url(#g5)" stroke-width="1.5" stroke-opacity="0.25"/>
<path d="M216.2,75.2Q134.3,135.1 108.8,233.3" stroke="url(#g5)" stroke-width="1.0" stroke-opacity="0.29"/>
<path d="M216.4,75.4Q134.3,135.1 108.9,233.4" stroke="url(#g5)" stroke-width="1.2" stroke-opacity="0.21"/>
<path d="M216.6,75.7Q134.3,135.1 109.1,233.4" stroke="url(#g5)" stroke-width="1.5" stroke-opacity="0.22"/>
<path d="M216.7,75.9Q134.3,135.1 107.8,233.1" stroke="url(#g5)" stroke-width="0.7" stroke-opacity="0.28"/>
<path d="M216.9,76.2Q134.3,135.1 110.3,233.7" stroke="url(#g5)" stroke-width="1.0" stroke-opacity="0.26"/>
<path d="M217.1,76.4Q134.3,135.1 109.8,233.6" stroke="url(#g5)" stroke-width="1.3" stroke-opacity="0.16"/>
<path d="M217.2,76.5Q134.3,135.1 112.9,234.3" stroke="url(#g5)" stroke-width="1.6" stroke-opacity="0.28"/>
<path d="M217.3,76.7Q134.3,135.1 110.8,233.8" stroke="url(#g5)" stroke-width="1.2" stroke-opacity="0.16"/>
<path d="M217.5,77.0Q134.3,135.1 110.3,233.7" stroke="url(#g5)" stroke-width="1.2" stroke-opacity="0.19"/>
<path d="M217.7,77.3Q134.3,135.1 113.0,234.3" stroke="url(#g5)" stroke-width="1.1" stroke-opacity="0.21"/>
<path d="M217.9,77.6Q134.3,135.1 111.5,234.0" stroke="url(#g5)" stroke-width="1.4" stroke-opacity="0.25"/>
<path d="M218.0,77.7Q134.3,135.1 110.0,233.6" stroke="url(#g5)" stroke-width="1.3" stroke-opacity="0.25"/>
<path d="M218.1,77.9Q134.3,135.1 114.4,234.6" stroke="url(#g5)" stroke-width="1.2" stroke-opacity="0.27"/>
<path d="M218.3,78.2Q134.3,135.1 113.8,234.5" stroke="url(#g5)" stroke-width="0.7" stroke-opacity="0.23"/>
<path d="M218.5,78.4Q134.3,135.1 115.1,234.8" stroke="url(#g5)" stroke-width="1.3" stroke-opacity="0.18"/>
<path d="M218.6,78.5Q134.3,135.1 115.8,234.9" stroke="url(#g5)" stroke-width="0.9" stroke-opacity="0.21"/>
<path d="M218.8,78.9Q134.3,135.1 111.5,234.0" stroke="url(#g5)" stroke-width="0.8" stroke-opacity="0.20"/>
<path d="M219.0,79.1Q134.3,135.1 115.7,234.9" stroke="url(#g5)" stroke-width="0.9" stroke-opacity="0.22"/>
<path d="M219.0,79.2Q134.3,135.1 115.4,234.8" stroke="url(#g5)" stroke-width="1.0" stroke-opacity="0.21"/>
<path d="M219.3,79.6Q134.3,135.1 115.9,234.9" stroke="url(#g5)" stroke-width="0.8" stroke-opacity="0.29"/>
<path d="M219.3,79.7Q134.3,135.1 113.0,234.3" stroke="url(#g5)" stroke-width="1.2" stroke-opacity="0.27"/>
<path d="M219.5,79.9Q134.3,135.1 116.8,235.1" stroke="url(#g5)" stroke-width="1.4" stroke-opacity="0.22"/>
<path d="M219.7,80.2Q134.3,135.1 114.5,234.6" stroke="url(#g5)" stroke-width="1.4" stroke-opacity="0.19"/>
<path d="M219.8,80.4Q134.3,135.1 113.4,234.4" stroke="url(#g5)" stroke-width="1.1" stroke-opacity="0.19"/>
<path d="M220.0,80.6Q134.3,135.1 117.2,235.1" stroke="url(#g5)" stroke-width="1.4" stroke-opacity="0.16"/>
<path d="M220.1,80.9Q134.3,135.1 115.9,234.9" stroke="url(#g5)" stroke-width="1.0" stroke-opacity="0.29"/>
<path d="M220.2,81.0Q134.3,135.1 117.7,235.2" stroke="url(#g5)" stroke-width="0.7" stroke-opacity="0.23"/>
<path d="M220.4,81.4Q134.3,135.1 115.8,234.9" stroke="url(#g5)" stroke-width="1.0" stroke-opacity="0.27"/>
<path d="M220.5,81.4Q134.3,135.1 117.8,235.3" stroke="url(#g5)" stroke-width="1.2" stroke-opacity="0.30"/>
<path d="M220.7,81.8Q134.3,135.1 116.2,235.0" stroke="url(#g5)" stroke-width="1.4" stroke-opacity="0.21"/>
<path d="M220.9,82.1Q134.3,135.1 116.3,235.0" stroke="url(#g5)" stroke-width="0.9" stroke-opacity="0.21"/>
<path d="M221.0,82.3Q134.3,135.1 118.6,235.4" stroke="url(#g5)" stroke-width="0.8" stroke-opacity="0.28"/>
<path d="M221.1,82.5Q134.3,135.1 117.9,235.3" stroke="url(#g5)" stroke-width="1.3" stroke-opacity="0.29"/>
<path d="M221.2,82.6Q134.3,135.1 119.0,235.4" stroke="url(#g5)" stroke-width="0.7" stroke-opacity="0.21"/>
<path d="M221.4,82.9Q134.3,135.1 116.7,235.1" stroke="url(#g5)" stroke-width="1.3" stroke-opacity="0.24"/>
<path d="M221.5,83.1Q134.3,135.1 118.4,235.3" stroke="url(#g5)" stroke-width="0.9" stroke-opacity="0.28"/>
<path d="M221.7,83.5Q134.3,135.1 117.4,235.2" stroke="url(#g5)" stroke-width="0.8" stroke-opacity="0.25"/>
<path d="M221.8,83.7Q134.3,135.1 119.4,235.5" stroke="url(#g5)" stroke-width="1.5" stroke-opacity="0.28"/>
<path d="M221.9,83.9Q134.3,135.1 118.0,235.3" stroke="url(#g5)" stroke-width="1.2" stroke-opacity="0.28"/>
<path d="M222.0,84.0Q134.3,135.1 118.7,235.4" stroke="url(#g5)" stroke-width="1.3" stroke-opacity="0.24"/>
<path d="M222.2,84.3Q134.3,135.1 122.4,235.9" stroke="url(#g5)" stroke-width="1.2" stroke-opacity="0.27"/>
<path d="M222.3,84.5Q134.3,135.1 121.9,235.8" stroke="url(#g5)" stroke-width="0.8" stroke-opacity="0.16"/>
<path d="M222.5,84.8Q134.3,135.1 118.2,235.3" stroke="url(#g5)" stroke-width="1.4" stroke-opacity="0.20"/>
<path d="M222.6,85.1Q134.3,135.1 123.3,236.0" stroke="url(#g5)" stroke-width="1.4" stroke-opacity="0.20"/>
<path d="M222.7,85.1Q134.3,135.1 120.4,235.6" stroke="url(#g5)" stroke-width="0.7" stroke-opacity="0.19"/>
<path d="M222.8,85.4Q134.3,135.1 121.6,235.8" stroke="url(#g5)" stroke-width="1.2" stroke-opacity="0.27"/>
<path d="M222.9,85.6Q134.3,135.1 119.9,235.6" stroke="url(#g5)" stroke-width="0.7" stroke-opacity="0.18"/>
<path d="M223.1,86.0Q134.3,135.1 122.9,236.0" stroke="url(#g5)" stroke-width="0.9" stroke-opacity="0.24"/>
<path d="M223.2,86.1Q134.3,135.1 120.7,235.7" stroke="url(#g5)" stroke-width="0.8" stroke-opacity="0.28"/>
<path d="M223.4,86.5Q134.3,135.1 122.4,235.9" stroke="url(#g5)" stroke-width="0.6" stroke-opacity="0.27"/>
<path d="M223.4,86.6Q134.3,135.1 122.7,235.9" stroke="url(#g5)" stroke-width="1.0" stroke-opacity="0.16"/>
<path d="M223.7,86.9Q134.3,135.1 121.9,235.8" stroke="url(#g5)" stroke-width="1.2" stroke-opacity="0.21"/>
<path d="M223.8,87.2Q134.3,135.1 122.9,236.0" stroke="url(#g5)" stroke-width="0.8" stroke-opacity="0.28"/>
<path d="M224.0,87.5Q134.3,135.1 122.2,235.9" stroke="url(#g5)" stroke-width="1.6" stroke-opacity="0.20"/>
<path d="M224.1,87.7Q134.3,135.1 126.3,236.3" stroke="url(#g5)" stroke-width="1.1" stroke-opacity="0.17"/>
<path d="M224.1,87.9Q134.3,135.1 123.2,236.0" stroke="url(#g5)" stroke-width="1.3" stroke-opacity="0.22"/>
<path d="M224.2,88.1Q134.3,135.1 126.0,236.3" stroke="url(#g5)" stroke-width="1.0" stroke-opacity="0.19"/>
<path d="M224.4,88.3Q134.3,135.1 123.4,236.0" stroke="url(#g5)" stroke-width="1.1" stroke-opacity="0.22"/>
<path d="M224.5,88.5Q134.3,135.1 123.8,236.1" stroke="url(#g5)" stroke-width="0.8" stroke-opacity="0.19"/>
<path d="M224.6,88.8Q134.3,135.1 124.2,236.1" stroke="url(#g5)" stroke-width="1.6" stroke-opacity="0.26"/>
<path d="M224.8,89.2Q134.3,135.1 123.4,236.0" stroke="url(#g5)" stroke-width="1.3" stroke-opacity="0.26"/>
<path d="M224.8,89.2Q134.3,135.1 127.2,236.4" stroke="url(#g5)" stroke-width="0.6" stroke-opacity="0.28"/>
<path d="M225.0,89.6Q134.3,135.1 125.4,236.2" stroke="url(#g5)" stroke-width="0.9" stroke-opacity="0.20"/>
<path d="M225.1,89.7Q134.3,135.1 125.5,236.2" stroke="url(#g5)" stroke-width="1.6" stroke-opacity="0.20"/>
<path d="M225.2,89.9Q134.3,135.1 128.2,236.4" stroke="url(#g5)" stroke-width="1.0" stroke-opacity="0.28"/>
<path d="M225.4,90.4Q134.3,135.1 127.2,236.4" stroke="url(#g5)" stroke-width="0.7" stroke-opacity="0.17"/>
<path d="M225.4,90.4Q134.3,135.1 125.6,236.2" stroke="url(#g5)" stroke-width="1.1" stroke-opacity="0.30"/>
<path d="M225.7,90.9Q134.3,135.1 126.0,236.3" stroke="url(#g5)" stroke-width="1.1" stroke-opacity="0.27"/>
<path d="M225.7,90.9Q134.3,135.1 129.6,236.5" stroke="url(#g5)" stroke-width="1.2" stroke-opacity="0.23"/>
<path d="M225.8,91.2Q134.3,135.1 129.2,236.5" stroke="url(#g5)" stroke-width="0.6" stroke-opacity="0.29"/>
<path d="M226.0,91.6Q134.3,135.1 125.9,236.3" stroke="url(#g5)" stroke-width="1.6" stroke-opacity="0.22"/>
<path d="M226.1,91.8Q134.3,135.1 129.2,236.5" stroke="url(#g5)" stroke-width="1.4" stroke-opacity="0.28"/>
<path d="M226.1,91.9Q134.3,135.1 131.2,236.6" stroke="url(#g5)" stroke-width="0.8" stroke-opacity="0.24"/>
<path d="M226.3,92.2Q134.3,135.1 131.6,236.6" stroke="url(#g5)" stroke-width="1.4" stroke-opacity="0.27"/>
<path d="M226.4,92.5Q134.3,135.1 131.7,236.6" stroke="url(#g5)" stroke-width="1.5" stroke-opacity="0.23"/>
<path d="M226.5,92.6Q134.3,135.1 130.4,236.5" stroke="url(#g5)" stroke-width="1.2" stroke-opacity="0.28"/>
<path d="M226.6,93.0Q134.3,135.1 129.1,236.5" stroke="url(#g5)" stroke-width="0.8" stroke-opacity="0.19"/>
<path d="M226.8,93.3Q134.3,135.1 130.8,236.5" stroke="url(#g5)" stroke-width="0.7" stroke-opacity="0.24"/>
<path d="M226.8,93.4Q134.3,135.1 131.9,236.6" stroke="url(#g5)" stroke-width="1.1" stroke-opacity="0.24"/>
<path d="M227.0,93.7Q134.3,135.1 129.6,236.5" stroke="url(#g5)" stroke-width="1.0" stroke-opacity="0.16"/>
<path d="M227.1,94.0Q134.3,135.1 133.3,236.6" stroke="url(#g5)" stroke-width="1.1" stroke-opacity="0.21"/>
<path d="M227.2,94.3Q134.3,135.1 130.1,236.5" stroke="url(#g5)" stroke-width="0.8" stroke-opacity="0.25"/>
<path d="M227.3,94.5Q134.3,135.1 131.7,236.6" stroke="url(#g5)" stroke-width="0.7" stroke-opacity="0.29"/>
<path d="M227.4,94.7Q134.3,135.1 134.1,236.6" stroke="url(#g5)" stroke-width="0.8" stroke-opacity="0.30"/>
<path d="M227.5,94.9Q134.3,135.1 132.5,236.6" stroke="url(#g5)" stroke-width="1.4" stroke-opacity="0.27"/>
<path d="M227.6,95.2Q134.3,135.1 131.0,236.5" stroke="url(#g5)" stroke-width="0.6" stroke-opacity="0.16"/>
<path d="M227.8,95.6Q134.3,135.1 131.1,236.5" stroke="url(#g5)" stroke-width="0.6" stroke-opacity="0.16"/>
<path d="M227.8,95.6Q134.3,135.1 130.5,236.5" stroke="url(#g5)" stroke-width="0.8" stroke-opacity="0.25"/>
<path d="M228.0,96.1Q134.3,135.1 132.5,236.6" stroke="url(#g5)" stroke-width="1.5" stroke-opacity="0.19"/>
<path d="M228.0,96.1Q134.3,135.1 135.8,236.6" stroke="url(#g5)" stroke-width="1.4" stroke-opacity="0.17"/>
<path d="M228.2,96.6Q134.3,135.1 132.6,236.6" stroke="url(#g5)" stroke-width="0.8" stroke-opacity="0.27"/>
<path d="M228.2,96.6Q134.3,135.1 133.7,236.6" stroke="url(#g5)" stroke-width="0.7" stroke-opacity="0.27"/>
<path d="M228.4,97.0Q134.3,135.1 132.1,236.6" stroke="url(#g5)" stroke-width="0.6" stroke-opacity="0.28"/>
<path d="M194.2,53.2Q134.3,135.1 85.4,224.0" stroke="url(#g6)" stroke-width="1.1" stroke-opacity="0.18"/>
<path d="M194.7,53.5Q134.3,135.1 85.9,224.3" stroke="url(#g6)" stroke-width="0.7" stroke-opacity="0.12"/>
<path d="M195.1,53.8Q134.3,135.1 88.7,225.8" stroke="url(#g6)" stroke-width="1.0" stroke-opacity="0.11"/>
<path d="M195.7,54.2Q134.3,135.1 90.5,226.7" stroke="url(#g6)" stroke-width="1.4" stroke-opacity="0.20"/>
<path d="M196.0,54.5Q134.3,135.1 90.3,226.6" stroke="url(#g6)" stroke-width="1.3" stroke-opacity="0.13"/>
<path d="M196.4,54.8Q134.3,135.1 90.8,226.8" stroke="url(#g6)" stroke-width="1.6" stroke-opacity="0.17"/>
<path d="M196.8,55.1Q134.3,135.1 91.3,227.0" stroke="url(#g6)" stroke-width="1.3" stroke-opacity="0.20"/>
<path d="M197.5,55.7Q134.3,135.1 91.9,227.3" stroke="url(#g6)" stroke-width="1.0" stroke-opacity="0.14"/>
<path d="M197.9,56.0Q134.3,135.1 92.1,227.4" stroke="url(#g6)" stroke-width="1.2" stroke-opacity="0.22"/>
<path d="M198.3,56.3Q134.3,135.1 93.2,227.9" stroke="url(#g6)" stroke-width="0.7" stroke-opacity="0.12"/>
<path d="M198.7,56.7Q134.3,135.1 90.7,226.8" stroke="url(#g6)" stroke-width="1.1" stroke-opacity="0.16"/>
<path d="M199.0,56.9Q134.3,135.1 91.0,226.9" stroke="url(#g6)" stroke-width="1.2" stroke-opacity="0.21"/>
<path d="M199.6,57.4Q134.3,135.1 90.7,226.7" stroke="url(#g6)" stroke-width="1.5" stroke-opacity="0.20"/>
<path d="M200.0,57.8Q134.3,135.1 94.8,228.6" stroke="url(#g6)" stroke-width="1.3" stroke-opacity="0.20"/>
<path d="M200.3,58.0Q134.3,135.1 91.0,226.9" stroke="url(#g6)" stroke-width="0.8" stroke-opacity="0.21"/>
<path d="M200.8,58.4Q134.3,135.1 92.3,227.5" stroke="url(#g6)" stroke-width="0.9" stroke-opacity="0.14"/>
<path d="M201.1,58.7Q134.3,135.1 94.5,228.5" stroke="url(#g6)" stroke-width="0.7" stroke-opacity="0.16"/>
<path d="M201.8,59.3Q134.3,135.1 93.6,228.1" stroke="url(#g6)" stroke-width="1.5" stroke-opacity="0.19"/>
<path d="M202.2,59.6Q134.3,135.1 92.4,227.5" stroke="url(#g6)" stroke-width="1.4" stroke-opacity="0.14"/>
<path d="M202.4,59.8Q134.3,135.1 95.4,228.8" stroke="url(#g6)" stroke-width="0.6" stroke-opacity="0.14"/>
<path d="M203.0,60.4Q134.3,135.1 93.6,228.1" stroke="url(#g6)" stroke-width="0.9" stroke-opacity="0.19"/>
<path d="M203.4,60.8Q134.3,135.1 94.2,228.3" stroke="url(#g6)" stroke-width="1.4" stroke-opacity="0.17"/>
<path d="M203.5,60.9Q134.3,135.1 94.6,228.5" stroke="url(#g6)" stroke-width="0.9" stroke-opacity="0.18"/>
<path d="M204.1,61.4Q134.3,135.1 96.6,229.3" stroke="url(#g6)" stroke-width="1.6" stroke-opacity="0.13"/>
<path d="M204.5,61.8Q134.3,135.1 96.6,229.3" stroke="url(#g6)" stroke-width="1.1" stroke-opacity="0.21"/>
<path d="M204.9,62.2Q134.3,135.1 95.6,229.0" stroke="url(#g6)" stroke-width="1.3" stroke-opacity="0.22"/>
<path d="M205.2,62.4Q134.3,135.1 99.4,230.4" stroke="url(#g6)" stroke-width="0.9" stroke-opacity="0.21"/>
<path d="M205.5,62.8Q134.3,135.1 99.6,230.5" stroke="url(#g6)" stroke-width="1.3" stroke-opacity="0.22"/>
<path d="M206.0,63.3Q134.3,135.1 99.2,230.4" stroke="url(#g6)" stroke-width="1.3" stroke-opacity="0.19"/>
<path d="M206.6,63.9Q134.3,135.1 98.4,230.0" stroke="url(#g6)" stroke-width="0.8" stroke-opacity="0.14"/>
<path d="M206.7,64.0Q134.3,135.1 98.8,230.2" stroke="url(#g6)" stroke-width="0.8" stroke-opacity="0.14"/>
<path d="M207.5,64.8Q134.3,135.1 99.9,230.6" stroke="url(#g6)" stroke-width="1.2" stroke-opacity="0.18"/>
<path d="M207.7,65.0Q134.3,135.1 99.9,230.6" stroke="url(#g6)" stroke-width="0.9" stroke-opacity="0.12"/>
<path d="M207.9,65.2Q134.3,135.1 103.6,231.8" stroke="url(#g6)" stroke-width="1.0" stroke-opacity="0.13"/>
<path d="M208.3,65.7Q134.3,135.1 101.6,231.2" stroke="url(#g6)" stroke-width="1.6" stroke-opacity="0.19"/>
<path d="M208.8,66.1Q134.3,135.1 100.8,230.9" stroke="url(#g6)" stroke-width="0.8" stroke-opacity="0.12"/>
<path d="M209.2,66.6Q134.3,135.1 103.1,231.7" stroke="url(#g6)" stroke-width="1.3" stroke-opacity="0.16"/>
<path d="M209.7,67.2Q134.3,135.1 105.3,232.4" stroke="url(#g6)" stroke-width="1.5" stroke-opacity="0.15"/>
<path d="M210.1,67.6Q134.3,135.1 106.1,232.6" stroke="url(#g6)" stroke-width="1.4" stroke-opacity="0.13"/>
<path d="M210.5,68.0Q134.3,135.1 102.7,231.5" stroke="url(#g6)" stroke-width="1.3" stroke-opacity="0.14"/>
<path d="M210.6,68.1Q134.3,135.1 105.9,232.5" stroke="url(#g6)" stroke-width="1.5" stroke-opacity="0.13"/>
<path d="M211.2,68.8Q134.3,135.1 104.6,232.2" stroke="url(#g6)" stroke-width="1.3" stroke-opacity="0.13"/>
<path d="M211.3,69.0Q134.3,135.1 107.3,232.9" stroke="url(#g6)" stroke-width="1.6" stroke-opacity="0.15"/>
<path d="M211.9,69.7Q134.3,135.1 105.6,232.5" stroke="url(#g6)" stroke-width="0.8" stroke-opacity="0.12"/>
<path d="M212.0,69.8Q134.3,135.1 104.3,232.1" stroke="url(#g6)" stroke-width="0.7" stroke-opacity="0.22"/>
<path d="M212.5,70.4Q134.3,135.1 105.6,232.5" stroke="url(#g6)" stroke-width="0.7" stroke-opacity="0.20"/>
<path d="M212.8,70.8Q134.3,135.1 107.8,233.1" stroke="url(#g6)" stroke-width="1.1" stroke-opacity="0.12"/>
<path d="M213.2,71.2Q134.3,135.1 106.1,232.6" stroke="url(#g6)" stroke-width="0.9" stroke-opacity="0.15"/>
<path d="M213.7,71.9Q134.3,135.1 109.7,233.6" stroke="url(#g6)" stroke-width="0.8" stroke-opacity="0.13"/>
<path d="M213.9,72.2Q134.3,135.1 109.3,233.5" stroke="url(#g6)" stroke-width="1.2" stroke-opacity="0.16"/>
<path d="M214.4,72.8Q134.3,135.1 111.6,234.0" stroke="url(#g6)" stroke-width="1.3" stroke-opacity="0.20"/>
<path d="M214.6,73.0Q134.3,135.1 111.9,234.1" stroke="url(#g6)" stroke-width="1.0" stroke-opacity="0.12"/>
<path d="M215.0,73.5Q134.3,135.1 108.9,233.4" stroke="url(#g6)" stroke-width="0.7" stroke-opacity="0.12"/>
<path d="M215.3,74.0Q134.3,135.1 112.2,234.2" stroke="url(#g6)" stroke-width="0.8" stroke-opacity="0.16"/>
<path d="M215.6,74.3Q134.3,135.1 113.0,234.3" stroke="url(#g6)" stroke-width="1.0" stroke-opacity="0.16"/>
<path d="M216.2,75.1Q134.3,135.1 111.3,234.0" stroke="url(#g6)" stroke-width="0.7" stroke-opacity="0.13"/>
<path d="M216.4,75.5Q134.3,135.1 111.7,234.0" stroke="url(#g6)" stroke-width="1.5" stroke-opacity="0.22"/>
<path d="M216.8,76.0Q134.3,135.1 114.6,234.7" stroke="url(#g6)" stroke-width="1.5" stroke-opacity="0.17"/>
<path d="M216.9,76.1Q134.3,135.1 114.4,234.6" stroke="url(#g6)" stroke-width="1.5" stroke-opacity="0.13"/>
<path d="M217.2,76.5Q134.3,135.1 114.3,234.6" stroke="url(#g6)" stroke-width="1.5" stroke-opacity="0.16"/>
<path d="M217.7,77.3Q134.3,135.1 116.1,235.0" stroke="url(#g6)" stroke-width="1.1" stroke-opacity="0.14"/>
<path d="M217.9,77.5Q134.3,135.1 113.2,234.4" stroke="url(#g6)" stroke-width="1.0" stroke-opacity="0.12"/>
<path d="M218.4,78.3Q134.3,135.1 115.0,234.8" stroke="url(#g6)" stroke-width="0.8" stroke-opacity="0.11"/>
<path d="M218.7,78.6Q134.3,135.1 115.2,234.8" stroke="url(#g6)" stroke-width="0.6" stroke-opacity="0.16"/>
<path d="M219.0,79.2Q134.3,135.1 115.6,234.9" stroke="url(#g6)" stroke-width="0.8" stroke-opacity="0.16"/>
<path d="M219.3,79.6Q134.3,135.1 115.4,234.8" stroke="url(#g6)" stroke-width="0.7" stroke-opacity="0.20"/>
<path d="M219.7,80.2Q134.3,135.1 115.5,234.8" stroke="url(#g6)" stroke-width="1.5" stroke-opacity="0.15"/>
<path d="M220.0,80.6Q134.3,135.1 118.9,235.4" stroke="url(#g6)" stroke-width="0.8" stroke-opacity="0.18"/>
<path d="M220.3,81.1Q134.3,135.1 119.9,235.6" stroke="url(#g6)" stroke-width="0.8" stroke-opacity="0.11"/>
<path d="M220.4,81.4Q134.3,135.1 119.9,235.6" stroke="url(#g6)" stroke-width="0.8" stroke-opacity="0.19"/>
<path d="M220.8,81.9Q134.3,135.1 116.2,235.0" stroke="url(#g6)" stroke-width="1.0" stroke-opacity="0.18"/>
<path d="M220.9,82.1Q134.3,135.1 116.4,235.0" stroke="url(#g6)" stroke-width="0.8" stroke-opacity="0.16"/>
<path d="M221.3,82.9Q134.3,135.1 117.1,235.1" stroke="url(#g6)" stroke-width="1.1" stroke-opacity="0.22"/>
<path d="M221.6,83.4Q134.3,135.1 121.4,235.8" stroke="url(#g6)" stroke-width="1.4" stroke-opacity="0.13"/>
<path d="M222.0,84.1Q134.3,135.1 120.8,235.7" stroke="url(#g6)" stroke-width="0.8" stroke-opacity="0.22"/>
<path d="M222.1,84.2Q134.3,135.1 121.2,235.8" stroke="url(#g6)" stroke-width="0.9" stroke-opacity="0.18"/>
<path d="M222.3,84.6Q134.3,135.1 121.7,235.8" stroke="url(#g6)" stroke-width="0.8" stroke-opacity="0.20"/>
<path d="M222.6,85.0Q134.3,135.1 121.0,235.7" stroke="url(#g6)" stroke-width="0.9" stroke-opacity="0.16"/>
<path d="M223.0,85.8Q134.3,135.1 121.2,235.7" stroke="url(#g6)" stroke-width="0.7" stroke-opacity="0.14"/>
<path d="M223.2,86.1Q134.3,135.1 120.1,235.6" stroke="url(#g6)" stroke-width="0.7" stroke-opacity="0.13"/>
<path d="M223.6,86.8Q134.3,135.1 122.8,235.9" stroke="url(#g6)" stroke-width="1.5" stroke-opacity="0.12"/>
<path d="M223.7,87.1Q134.3,135.1 125.3,236.2" stroke="url(#g6)" stroke-width="1.2" stroke-opacity="0.16"/>
<path d="M224.1,87.7Q134.3,135.1 122.1,235.9" stroke="url(#g6)" stroke-width="1.3" stroke-opacity="0.20"/>
<path d="M224.5,88.5Q134.3,135.1 126.1,236.3" stroke="url(#g6)" stroke-width="1.5" stroke-opacity="0.15"/>
<path d="M224.5,88.5Q134.3,135.1 122.7,235.9" stroke="url(#g6)" stroke-width="0.7" stroke-opacity="0.11"/>
<path d="M224.8,89.1Q134.3,135.1 126.6,236.3" stroke="url(#g6)" stroke-width="1.6" stroke-opacity="0.21"/>
<path d="M225.1,89.7Q134.3,135.1 125.9,236.2" stroke="url(#g6)" stroke-width="1.4" stroke-opacity="0.20"/>
<path d="M225.4,90.3Q134.3,135.1 126.5,236.3" stroke="url(#g6)" stroke-width="0.7" stroke-opacity="0.14"/>
<path d="M225.6,90.8Q134.3,135.1 126.6,236.3" stroke="url(#g6)" stroke-width="1.4" stroke-opacity="0.21"/>
<path d="M226.0,91.5Q134.3,135.1 129.3,236.5" stroke="url(#g6)" stroke-width="0.7" stroke-opacity="0.21"/>
<path d="M226.1,91.8Q134.3,135.1 129.7,236.5" stroke="url(#g6)" stroke-width="1.3" stroke-opacity="0.14"/>
<path d="M226.3,92.1Q134.3,135.1 129.0,236.5" stroke="url(#g6)" stroke-width="1.1" stroke-opacity="0.18"/>
<path d="M226.5,92.6Q134.3,135.1 127.4,236.4" stroke="url(#g6)" stroke-width="1.2" stroke-opacity="0.16"/>
<path d="M226.8,93.4Q134.3,135.1 127.9,236.4" stroke="url(#g6)" stroke-width="0.6" stroke-opacity="0.16"/>
<path d="M227.1,93.9Q134.3,135.1 128.8,236.5" stroke="url(#g6)" stroke-width="1.2" stroke-opacity="0.13"/>
<path d="M227.4,94.6Q134.3,135.1 129.1,236.5" stroke="url(#g6)" stroke-width="0.8" stroke-opacity="0.16"/>
<path d="M227.6,95.1Q134.3,135.1 132.6,236.6" stroke="url(#g6)" stroke-width="1.0" stroke-opacity="0.22"/>
<path d="M227.8,95.6Q134.3,135.1 132.9,236.6" stroke="url(#g6)" stroke-width="1.3" stroke-opacity="0.15"/>
<path d="M228.0,96.0Q134.3,135.1 130.4,236.5" stroke="url(#g6)" stroke-width="0.7" stroke-opacity="0.13"/>
<path d="M228.1,96.3Q134.3,135.1 133.4,236.6" stroke="url(#g6)" stroke-width="0.6" stroke-opacity="0.12"/>
<path d="M228.3,96.9Q134.3,135.1 133.1,236.6" stroke="url(#g6)" stroke-width="0.7" stroke-opacity="0.17"/>
<path d="M228.6,97.7Q134.3,135.1 133.0,236.6" stroke="url(#g6)" stroke-width="1.0" stroke-opacity="0.19"/>
<path d="M228.8,97.9Q134.3,135.1 135.4,236.6" stroke="url(#g6)" stroke-width="1.1" stroke-opacity="0.11"/>
<path d="M229.0,98.6Q134.3,135.1 136.1,236.6" stroke="url(#g6)" stroke-width="1.0" stroke-opacity="0.22"/>
<path d="M229.2,99.2Q134.3,135.1 133.0,236.6" stroke="url(#g6)" stroke-width="1.2" stroke-opacity="0.18"/>
<path d="M229.4,99.6Q134.3,135.1 132.7,236.6" stroke="url(#g6)" stroke-width="0.8" stroke-opacity="0.19"/>
<path d="M229.5,100.0Q134.3,135.1 136.8,236.6" stroke="url(#g6)" stroke-width="1.4" stroke-opacity="0.18"/>
<path d="M229.8,100.8Q134.3,135.1 134.3,236.6" stroke="url(#g6)" stroke-width="1.2" stroke-opacity="0.13"/>
<path d="M229.9,100.9Q134.3,135.1 136.1,236.6" stroke="url(#g6)" stroke-width="1.3" stroke-opacity="0.14"/>
<path d="M230.1,101.4Q134.3,135.1 139.5,236.5" stroke="url(#g6)" stroke-width="0.8" stroke-opacity="0.19"/>
<path d="M230.2,101.9Q134.3,135.1 138.7,236.5" stroke="url(#g6)" stroke-width="0.9" stroke-opacity="0.19"/>
<path d="M230.6,103.0Q134.3,135.1 140.8,236.4" stroke="url(#g6)" stroke-width="0.7" stroke-opacity="0.21"/>
<path d="M230.8,103.5Q134.3,135.1 140.6,236.4" stroke="url(#g6)" stroke-width="0.9" stroke-opacity="0.17"/>
<path d="M230.8,103.7Q134.3,135.1 139.3,236.5" stroke="url(#g6)" stroke-width="1.1" stroke-opacity="0.14"/>
<path d="M230.9,104.1Q134.3,135.1 141.4,236.3" stroke="url(#g6)" stroke-width="0.8" stroke-opacity="0.12"/>
<path d="M231.2,104.9Q134.3,135.1 138.9,236.5" stroke="url(#g6)" stroke-width="0.9" stroke-opacity="0.20"/>
<path d="M231.4,105.5Q134.3,135.1 141.3,236.4" stroke="url(#g6)" stroke-width="1.1" stroke-opacity="0.13"/>
<path d="M231.6,106.2Q134.3,135.1 140.7,236.4" stroke="url(#g6)" stroke-width="0.7" stroke-opacity="0.13"/>
<path d="M231.7,106.6Q134.3,135.1 142.0,236.3" stroke="url(#g6)" stroke-width="1.3" stroke-opacity="0.14"/>
<path d="M231.9,107.2Q134.3,135.1 140.4,236.4" stroke="url(#g6)" stroke-width="0.7" stroke-opacity="0.17"/>
<path d="M231.9,107.4Q134.3,135.1 141.0,236.4" stroke="url(#g6)" stroke-width="1.4" stroke-opacity="0.20"/>
<path d="M232.1,108.0Q134.3,135.1 144.8,236.1" stroke="url(#g6)" stroke-width="1.3" stroke-opacity="0.17"/>
<path d="M232.2,108.4Q134.3,135.1 144.7,236.1" stroke="url(#g6)" stroke-width="1.2" stroke-opacity="0.12"/>
<path d="M232.5,109.3Q134.3,135.1 145.2,236.0" stroke="url(#g6)" stroke-width="0.9" stroke-opacity="0.16"/>
<path d="M232.6,109.7Q134.3,135.1 143.0,236.2" stroke="url(#g6)" stroke-width="0.6" stroke-opacity="0.19"/>
<path d="M232.7,110.1Q134.3,135.1 145.6,236.0" stroke="url(#g6)" stroke-width="1.2" stroke-opacity="0.19"/>
<path d="M141.1,236.4Q134.3,135.1 163.4,37.9" stroke="url(#g7)" stroke-width="0.8" stroke-opacity="0.20"/>
<path d="M140.7,236.4Q134.3,135.1 164.2,38.1" stroke="url(#g7)" stroke-width="0.8" stroke-opacity="0.18"/>
<path d="M140.3,236.4Q134.3,135.1 171.4,40.6" stroke="url(#g7)" stroke-width="1.3" stroke-opacity="0.29"/>
<path d="M139.9,236.4Q134.3,135.1 172.8,41.2" stroke="url(#g7)" stroke-width="0.9" stroke-opacity="0.26"/>
<path d="M139.8,236.4Q134.3,135.1 175.2,42.2" stroke="url(#g7)" stroke-width="0.7" stroke-opacity="0.16"/>
<path d="M139.3,236.5Q134.3,135.1 178.5,43.7" stroke="url(#g7)" stroke-width="1.5" stroke-opacity="0.28"/>
<path d="M138.9,236.5Q134.3,135.1 182.2,45.6" stroke="url(#g7)" stroke-width="0.7" stroke-opacity="0.23"/>
<path d="M138.5,236.5Q134.3,135.1 186.8,48.2" stroke="url(#g7)" stroke-width="1.3" stroke-opacity="0.23"/>
<path d="M138.0,236.5Q134.3,135.1 190.0,50.3" stroke="url(#g7)" stroke-width="0.7" stroke-opacity="0.21"/>
<path d="M137.8,236.5Q134.3,135.1 193.1,52.4" stroke="url(#g7)" stroke-width="1.3" stroke-opacity="0.18"/>
<path d="M137.5,236.6Q134.3,135.1 196.8,55.1" stroke="url(#g7)" stroke-width="1.3" stroke-opacity="0.27"/>
<path d="M137.0,236.6Q134.3,135.1 200.0,57.8" stroke="url(#g7)" stroke-width="1.5" stroke-opacity="0.29"/>
<path d="M136.6,236.6Q134.3,135.1 202.6,60.0" stroke="url(#g7)" stroke-width="1.1" stroke-opacity="0.25"/>
<path d="M136.3,236.6Q134.3,135.1 204.3,61.6" stroke="url(#g7)" stroke-width="1.6" stroke-opacity="0.29"/>
<path d="M136.0,236.6Q134.3,135.1 208.4,65.7" stroke="url(#g7)" stroke-width="1.2" stroke-opacity="0.19"/>
<path d="M135.6,236.6Q134.3,135.1 212.0,69.7" stroke="url(#g7)" stroke-width="1.4" stroke-opacity="0.22"/>
<path d="M135.3,236.6Q134.3,135.1 213.4,71.5" stroke="url(#g7)" stroke-width="0.7" stroke-opacity="0.29"/>
<path d="M134.9,236.6Q134.3,135.1 215.5,74.2" stroke="url(#g7)" stroke-width="1.4" stroke-opacity="0.17"/>
<path d="M134.5,236.6Q134.3,135.1 217.4,76.8" stroke="url(#g7)" stroke-width="0.8" stroke-opacity="0.23"/>
<path d="M133.8,236.6Q134.3,135.1 221.6,83.3" stroke="url(#g7)" stroke-width="0.8" stroke-opacity="0.26"/>
<path d="M133.6,236.6Q134.3,135.1 223.2,86.2" stroke="url(#g7)" stroke-width="0.7" stroke-opacity="0.19"/>
<path d="M133.0,236.6Q134.3,135.1 225.6,90.8" stroke="url(#g7)" stroke-width="0.9" stroke-opacity="0.26"/>
<path d="M132.7,236.6Q134.3,135.1 228.8,98.1" stroke="url(#g7)" stroke-width="1.1" stroke-opacity="0.29"/>
<path d="M132.4,236.6Q134.3,135.1 228.7,97.8" stroke="url(#g7)" stroke-width="1.1" stroke-opacity="0.26"/>
<path d="M132.0,236.6Q134.3,135.1 230.0,101.4" stroke="url(#g7)" stroke-width="0.8" stroke-opacity="0.29"/>
<path d="M131.8,236.6Q134.3,135.1 231.6,106.3" stroke="url(#g7)" stroke-width="0.9" stroke-opacity="0.19"/>
<path d="M131.4,236.6Q134.3,135.1 232.4,109.1" stroke="url(#g7)" stroke-width="1.6" stroke-opacity="0.17"/>
<path d="M130.8,236.5Q134.3,135.1 233.7,114.8" stroke="url(#g7)" stroke-width="0.8" stroke-opacity="0.26"/>
<path d="M130.6,236.5Q134.3,135.1 234.0,116.1" stroke="url(#g7)" stroke-width="1.0" stroke-opacity="0.27"/>
<path d="M130.0,236.5Q134.3,135.1 235.2,124.3" stroke="url(#g7)" stroke-width="0.6" stroke-opacity="0.26"/>
<path d="M129.7,236.5Q134.3,135.1 235.6,129.1" stroke="url(#g7)" stroke-width="1.6" stroke-opacity="0.20"/>
<path d="M129.2,236.5Q134.3,135.1 235.8,133.8" stroke="url(#g7)" stroke-width="0.9" stroke-opacity="0.20"/>
<path d="M129.0,236.5Q134.3,135.1 235.8,133.5" stroke="url(#g7)" stroke-width="1.0" stroke-opacity="0.17"/>
<path d="M128.7,236.4Q134.3,135.1 235.7,140.0" stroke="url(#g7)" stroke-width="1.0" stroke-opacity="0.25"/>
<path d="M128.1,236.4Q134.3,135.1 235.2,146.0" stroke="url(#g7)" stroke-width="0.8" stroke-opacity="0.29"/>
<path d="M127.7,236.4Q134.3,135.1 234.5,151.0" stroke="url(#g7)" stroke-width="1.3" stroke-opacity="0.26"/>
<path d="M127.4,236.4Q134.3,135.1 234.5,151.3" stroke="url(#g7)" stroke-width="1.3" stroke-opacity="0.21"/>
<path d="M127.0,236.3Q134.3,135.1 233.9,154.8" stroke="url(#g7)" stroke-width="1.1" stroke-opacity="0.20"/>
<path d="M126.6,236.3Q134.3,135.1 232.7,159.9" stroke="url(#g7)" stroke-width="1.4" stroke-opacity="0.28"/>
<path d="M126.2,236.3Q134.3,135.1 231.9,163.0" stroke="url(#g7)" stroke-width="1.5" stroke-opacity="0.26"/>
<path d="M125.9,236.3Q134.3,135.1 230.1,168.8" stroke="url(#g7)" stroke-width="0.6" stroke-opacity="0.28"/>
<path d="M125.6,236.2Q134.3,135.1 229.2,171.2" stroke="url(#g7)" stroke-width="0.9" stroke-opacity="0.27"/>
<path d="M125.1,236.2Q134.3,135.1 226.3,177.9" stroke="url(#g7)" stroke-width="0.8" stroke-opacity="0.20"/>
<path d="M124.9,236.2Q134.3,135.1 227.2,175.9" stroke="url(#g7)" stroke-width="0.9" stroke-opacity="0.15"/>
<path d="M124.3,236.1Q134.3,135.1 224.2,182.3" stroke="url(#g7)" stroke-width="0.7" stroke-opacity="0.16"/>
<path d="M124.0,236.1Q134.3,135.1 222.4,185.6" stroke="url(#g7)" stroke-width="1.1" stroke-opacity="0.21"/>
<path d="M123.6,236.0Q134.3,135.1 217.9,192.7" stroke="url(#g7)" stroke-width="0.9" stroke-opacity="0.24"/>
<path d="M123.1,236.0Q134.3,135.1 216.8,194.3" stroke="url(#g7)" stroke-width="1.5" stroke-opacity="0.26"/>
<path d="M123.0,236.0Q134.3,135.1 214.4,197.4" stroke="url(#g7)" stroke-width="1.2" stroke-opacity="0.17"/>
<path d="M122.5,235.9Q134.3,135.1 211.3,201.3" stroke="url(#g7)" stroke-width="1.1" stroke-opacity="0.22"/>
<path d="M122.2,235.9Q134.3,135.1 208.8,204.0" stroke="url(#g7)" stroke-width="1.3" stroke-opacity="0.18"/>
<path d="M121.8,235.8Q134.3,135.1 208.0,204.9" stroke="url(#g7)" stroke-width="1.6" stroke-opacity="0.25"/>
<path d="M121.5,235.8Q134.3,135.1 203.7,209.2" stroke="url(#g7)" stroke-width="0.6" stroke-opacity="0.24"/>
<path d="M121.0,235.7Q134.3,135.1 200.5,212.1" stroke="url(#g7)" stroke-width="1.0" stroke-opacity="0.16"/>
<path d="M120.6,235.7Q134.3,135.1 196.5,215.3" stroke="url(#g7)" stroke-width="1.4" stroke-opacity="0.20"/>
<path d="M120.4,235.6Q134.3,135.1 194.6,216.8" stroke="url(#g7)" stroke-width="1.4" stroke-opacity="0.18"/>
<path d="M119.7,235.6Q134.3,135.1 187.8,221.4" stroke="url(#g7)" stroke-width="1.0" stroke-opacity="0.21"/>
<path d="M119.4,235.5Q134.3,135.1 185.1,223.0" stroke="url(#g7)" stroke-width="0.8" stroke-opacity="0.20"/>
<path d="M119.2,235.5Q134.3,135.1 183.8,223.7" stroke="url(#g7)" stroke-width="0.8" stroke-opacity="0.23"/>
<path d="M118.8,235.4Q134.3,135.1 179.8,225.8" stroke="url(#g7)" stroke-width="0.7" stroke-opacity="0.29"/>
<path d="M118.2,235.3Q134.3,135.1 174.7,228.2" stroke="url(#g7)" stroke-width="1.4" stroke-opacity="0.18"/>
<path d="M117.8,235.3Q134.3,135.1 171.3,229.6" stroke="url(#g7)" stroke-width="1.4" stroke-opacity="0.28"/>
<path d="M117.7,235.2Q134.3,135.1 167.7,230.9" stroke="url(#g7)" stroke-width="0.8" stroke-opacity="0.15"/>
<path d="M117.2,235.2Q134.3,135.1 163.4,232.4" stroke="url(#g7)" stroke-width="1.5" stroke-opacity="0.29"/>
<path d="M116.9,235.1Q134.3,135.1 159.2,233.5" stroke="url(#g7)" stroke-width="1.2" stroke-opacity="0.17"/>
<path d="M116.4,235.0Q134.3,135.1 155.3,234.4" stroke="url(#g7)" stroke-width="1.0" stroke-opacity="0.24"/>
<path d="M116.2,235.0Q134.3,135.1 155.5,234.4" stroke="url(#g7)" stroke-width="1.0" stroke-opacity="0.23"/>
<path d="M115.8,234.9Q134.3,135.1 151.6,235.1" stroke="url(#g7)" stroke-width="0.6" stroke-opacity="0.20"/>
<path d="M115.3,234.8Q134.3,135.1 143.0,236.2" stroke="url(#g7)" stroke-width="0.8" stroke-opacity="0.19"/>
<path d="M115.0,234.7Q134.3,135.1 142.7,236.2" stroke="url(#g7)" stroke-width="1.2" stroke-opacity="0.29"/>
<path d="M114.7,234.7Q134.3,135.1 137.7,236.5" stroke="url(#g7)" stroke-width="1.3" stroke-opacity="0.26"/>
<path d="M114.2,234.6Q134.3,135.1 130.8,236.5" stroke="url(#g7)" stroke-width="0.9" stroke-opacity="0.28"/>
<path d="M113.7,234.5Q134.3,135.1 129.3,236.5" stroke="url(#g7)" stroke-width="1.5" stroke-opacity="0.22"/>
<path d="M113.7,234.5Q134.3,135.1 128.6,236.4" stroke="url(#g7)" stroke-width="1.4" stroke-opacity="0.25"/>
<path d="M113.3,234.4Q134.3,135.1 122.1,235.9" stroke="url(#g7)" stroke-width="1.2" stroke-opacity="0.30"/>
<path d="M112.8,234.3Q134.3,135.1 115.7,234.9" stroke="url(#g7)" stroke-width="0.8" stroke-opacity="0.18"/>
<path d="M112.5,234.2Q134.3,135.1 114.2,234.6" stroke="url(#g7)" stroke-width="1.2" stroke-opacity="0.20"/>
<path d="M112.1,234.2Q134.3,135.1 111.1,233.9" stroke="url(#g7)" stroke-width="0.7" stroke-opacity="0.18"/>
<path d="M111.7,234.1Q134.3,135.1 105.0,232.3" stroke="url(#g7)" stroke-width="0.8" stroke-opacity="0.22"/>
<path d="M111.3,234.0Q134.3,135.1 98.3,230.0" stroke="url(#g7)" stroke-width="1.1" stroke-opacity="0.29"/>
<path d="M110.9,233.9Q134.3,135.1 98.2,229.9" stroke="url(#g7)" stroke-width="1.2" stroke-opacity="0.17"/>
<path d="M110.7,233.8Q134.3,135.1 96.1,229.1" stroke="url(#g7)" stroke-width="1.3" stroke-opacity="0.30"/>
<path d="M110.2,233.7Q134.3,135.1 90.1,226.5" stroke="url(#g7)" stroke-width="1.0" stroke-opacity="0.20"/>
<path d="M109.7,233.6Q134.3,135.1 85.2,223.9" stroke="url(#g7)" stroke-width="0.8" stroke-opacity="0.28"/>
<path d="M109.4,233.5Q134.3,135.1 83.8,223.1" stroke="url(#g7)" stroke-width="1.4" stroke-opacity="0.26"/>
<path d="M109.1,233.4Q134.3,135.1 78.2,219.7" stroke="url(#g7)" stroke-width="1.5" stroke-opacity="0.21"/>
<path d="M108.7,233.3Q134.3,135.1 76.0,218.2" stroke="url(#g7)" stroke-width="1.2" stroke-opacity="0.25"/>
<path d="M108.2,233.2Q134.3,135.1 69.0,212.8" stroke="url(#g7)" stroke-width="0.7" stroke-opacity="0.20"/>
<path d="M107.8,233.1Q134.3,135.1 66.1,210.3" stroke="url(#g7)" stroke-width="1.2" stroke-opacity="0.25"/>
<path d="M107.6,233.0Q134.3,135.1 64.1,208.4" stroke="url(#g7)" stroke-width="1.1" stroke-opacity="0.21"/>
<path d="M107.3,232.9Q134.3,135.1 64.7,209.0" stroke="url(#g7)" stroke-width="1.5" stroke-opacity="0.27"/>
<path d="M107.0,232.9Q134.3,135.1 61.5,205.8" stroke="url(#g7)" stroke-width="1.1" stroke-opacity="0.22"/>
<path d="M106.5,232.7Q134.3,135.1 55.8,199.4" stroke="url(#g7)" stroke-width="0.9" stroke-opacity="0.23"/>
<path d="M105.9,232.6Q134.3,135.1 52.6,195.4" stroke="url(#g7)" stroke-width="1.1" stroke-opacity="0.20"/>
<path d="M105.8,232.5Q134.3,135.1 51.6,193.9" stroke="url(#g7)" stroke-width="1.4" stroke-opacity="0.19"/>
<path d="M105.4,232.4Q134.3,135.1 50.0,191.6" stroke="url(#g7)" stroke-width="1.0" stroke-opacity="0.29"/>
<path d="M105.0,232.3Q134.3,135.1 47.7,188.0" stroke="url(#g7)" stroke-width="0.9" stroke-opacity="0.27"/>
<path d="M104.8,232.2Q134.3,135.1 45.3,183.9" stroke="url(#g7)" stroke-width="0.6" stroke-opacity="0.18"/>
<path d="M104.4,232.1Q134.3,135.1 43.3,180.0" stroke="url(#g7)" stroke-width="0.7" stroke-opacity="0.18"/>
<path d="M104.1,232.0Q134.3,135.1 42.7,178.9" stroke="url(#g7)" stroke-width="1.3" stroke-opacity="0.26"/>
<path d="M103.4,231.8Q134.3,135.1 38.4,168.5" stroke="url(#g7)" stroke-width="1.2" stroke-opacity="0.29"/>
<path d="M103.3,231.8Q134.3,135.1 38.2,167.9" stroke="url(#g7)" stroke-width="1.0" stroke-opacity="0.18"/>
<path d="M102.7,231.6Q134.3,135.1 36.3,161.7" stroke="url(#g7)" stroke-width="1.0" stroke-opacity="0.16"/>
<path d="M102.3,231.4Q134.3,135.1 35.3,157.7" stroke="url(#g7)" stroke-width="1.2" stroke-opacity="0.30"/>
<path d="M102.3,231.4Q134.3,135.1 36.1,160.6" stroke="url(#g7)" stroke-width="0.7" stroke-opacity="0.15"/>
<path d="M101.7,231.2Q134.3,135.1 34.0,150.9" stroke="url(#g7)" stroke-width="0.7" stroke-opacity="0.17"/>
<path d="M101.5,231.2Q134.3,135.1 33.8,149.1" stroke="url(#g7)" stroke-width="1.3" stroke-opacity="0.30"/>
<path d="M101.1,231.0Q134.3,135.1 33.1,142.3" stroke="url(#g7)" stroke-width="1.0" stroke-opacity="0.21"/>
<path d="M100.7,230.9Q134.3,135.1 33.1,142.6" stroke="url(#g7)" stroke-width="1.6" stroke-opacity="0.30"/>
<path d="M100.2,230.7Q134.3,135.1 32.8,136.9" stroke="url(#g7)" stroke-width="0.8" stroke-opacity="0.17"/>
<path d="M100.0,230.6Q134.3,135.1 32.9,131.2" stroke="url(#g7)" stroke-width="0.7" stroke-opacity="0.23"/>
<path d="M99.5,230.5Q134.3,135.1 33.0,129.5" stroke="url(#g7)" stroke-width="1.0" stroke-opacity="0.27"/>
<path d="M99.2,230.3Q134.3,135.1 33.5,123.6" stroke="url(#g7)" stroke-width="1.5" stroke-opacity="0.24"/>
<path d="M98.9,230.2Q134.3,135.1 33.8,120.7" stroke="url(#g7)" stroke-width="1.5" stroke-opacity="0.28"/>
<path d="M98.4,230.0Q134.3,135.1 35.1,113.4" stroke="url(#g7)" stroke-width="0.7" stroke-opacity="0.18"/>
<path d="M98.2,230.0Q134.3,135.1 35.7,110.9" stroke="url(#g7)" stroke-width="0.6" stroke-opacity="0.27"/>
<path d="M97.7,229.8Q134.3,135.1 37.0,106.2" stroke="url(#g7)" stroke-width="0.6" stroke-opacity="0.27"/>
<path d="M97.5,229.7Q134.3,135.1 38.0,102.9" stroke="url(#g7)" stroke-width="1.2" stroke-opacity="0.26"/>
<path d="M97.1,229.5Q134.3,135.1 40.0,97.6" stroke="url(#g7)" stroke-width="1.6" stroke-opacity="0.29"/>
<path d="M96.7,229.4Q134.3,135.1 40.6,96.2" stroke="url(#g7)" stroke-width="1.0" stroke-opacity="0.19"/>
<path d="M96.2,229.2Q134.3,135.1 43.9,89.0" stroke="url(#g7)" stroke-width="1.4" stroke-opacity="0.27"/>
<path d="M95.8,229.0Q134.3,135.1 45.7,85.6" stroke="url(#g7)" stroke-width="0.9" stroke-opacity="0.26"/>
<path d="M95.8,229.0Q134.3,135.1 46.1,84.9" stroke="url(#g7)" stroke-width="0.8" stroke-opacity="0.28"/>
<path d="M95.3,228.8Q134.3,135.1 47.7,82.1" stroke="url(#g7)" stroke-width="1.5" stroke-opacity="0.16"/>
<path d="M94.8,228.6Q134.3,135.1 52.5,75.0" stroke="url(#g7)" stroke-width="0.7" stroke-opacity="0.26"/>
<path d="M94.6,228.5Q134.3,135.1 54.6,72.3" stroke="url(#g7)" stroke-width="1.2" stroke-opacity="0.21"/>
<path d="M94.1,228.3Q134.3,135.1 55.4,71.3" stroke="url(#g7)" stroke-width="1.4" stroke-opacity="0.17"/>
<path d="M94.0,228.3Q134.3,135.1 56.3,70.1" stroke="url(#g7)" stroke-width="1.5" stroke-opacity="0.22"/>
<path d="M93.5,228.0Q134.3,135.1 60.8,65.1" stroke="url(#g7)" stroke-width="1.3" stroke-opacity="0.25"/>
<path d="M93.4,228.0Q134.3,135.1 62.8,63.1" stroke="url(#g7)" stroke-width="1.3" stroke-opacity="0.18"/>
<path d="M92.8,227.7Q134.3,135.1 66.6,59.4" stroke="url(#g7)" stroke-width="1.0" stroke-opacity="0.29"/>
<path d="M92.4,227.5Q134.3,135.1 73.7,53.7" stroke="url(#g7)" stroke-width="1.0" stroke-opacity="0.24"/>
<path d="M92.1,227.4Q134.3,135.1 75.6,52.3" stroke="url(#g7)" stroke-width="1.1" stroke-opacity="0.28"/>
<path d="M91.9,227.3Q134.3,135.1 78.5,50.3" stroke="url(#g7)" stroke-width="1.1" stroke-opacity="0.17"/>
<path d="M91.4,227.1Q134.3,135.1 79.5,49.6" stroke="url(#g7)" stroke-width="1.3" stroke-opacity="0.16"/>
<path d="M91.0,226.9Q134.3,135.1 85.8,46.0" stroke="url(#g7)" stroke-width="1.3" stroke-opacity="0.17"/>
<path d="M90.7,226.8Q134.3,135.1 87.4,45.1" stroke="url(#g7)" stroke-width="0.8" stroke-opacity="0.27"/>
<path d="M90.6,226.7Q134.3,135.1 89.3,44.1" stroke="url(#g7)" stroke-width="0.7" stroke-opacity="0.28"/>
<path d="M90.0,226.4Q134.3,135.1 94.1,41.9" stroke="url(#g7)" stroke-width="1.1" stroke-opacity="0.22"/>
<path d="M89.7,226.3Q134.3,135.1 100.7,39.3" stroke="url(#g7)" stroke-width="0.9" stroke-opacity="0.29"/>
<path d="M89.5,226.2Q134.3,135.1 99.6,39.7" stroke="url(#g7)" stroke-width="1.4" stroke-opacity="0.17"/>
<path d="M89.2,226.0Q134.3,135.1 105.4,37.8" stroke="url(#g7)" stroke-width="0.9" stroke-opacity="0.17"/>
<path d="M88.6,225.7Q134.3,135.1 112.2,36.0" stroke="url(#g7)" stroke-width="1.4" stroke-opacity="0.19"/>
<path d="M88.2,225.6Q134.3,135.1 114.9,35.5" stroke="url(#g7)" stroke-width="1.5" stroke-opacity="0.24"/>
<path d="M75.6,217.9Q134.3,135.1 230.0,101.3" stroke="url(#g8)" stroke-width="1.2" stroke-opacity="0.17"/>
<path d="M75.2,217.6Q134.3,135.1 229.3,99.2" stroke="url(#g8)" stroke-width="0.7" stroke-opacity="0.21"/>
<path d="M74.7,217.2Q134.3,135.1 229.5,100.0" stroke="url(#g8)" stroke-width="1.3" stroke-opacity="0.14"/>
<path d="M74.3,217.0Q134.3,135.1 229.7,100.4" stroke="url(#g8)" stroke-width="1.6" stroke-opacity="0.21"/>
<path d="M74.0,216.7Q134.3,135.1 229.3,99.4" stroke="url(#g8)" stroke-width="1.2" stroke-opacity="0.15"/>
<path d="M73.5,216.4Q134.3,135.1 228.1,96.2" stroke="url(#g8)" stroke-width="1.1" stroke-opacity="0.16"/>
<path d="M73.0,216.0Q134.3,135.1 228.3,96.9" stroke="url(#g8)" stroke-width="1.2" stroke-opacity="0.19"/>
<path d="M72.3,215.5Q134.3,135.1 227.6,95.2" stroke="url(#g8)" stroke-width="1.5" stroke-opacity="0.15"/>
<path d="M71.7,215.0Q134.3,135.1 229.0,98.7" stroke="url(#g8)" stroke-width="0.7" stroke-opacity="0.17"/>
<path d="M71.2,214.6Q134.3,135.1 227.7,95.3" stroke="url(#g8)" stroke-width="1.1" stroke-opacity="0.14"/>
<path d="M71.1,214.6Q134.3,135.1 227.3,94.3" stroke="url(#g8)" stroke-width="0.7" stroke-opacity="0.14"/>
<path d="M70.4,213.9Q134.3,135.1 227.7,95.4" stroke="url(#g8)" stroke-width="1.5" stroke-opacity="0.19"/>
<path d="M70.0,213.7Q134.3,135.1 228.4,96.9" stroke="url(#g8)" stroke-width="1.2" stroke-opacity="0.17"/>
<path d="M69.3,213.1Q134.3,135.1 227.5,94.9" stroke="url(#g8)" stroke-width="1.0" stroke-opacity="0.18"/>
<path d="M69.1,212.9Q134.3,135.1 228.0,96.2" stroke="url(#g8)" stroke-width="0.8" stroke-opacity="0.22"/>
<path d="M68.7,212.6Q134.3,135.1 225.8,91.2" stroke="url(#g8)" stroke-width="1.2" stroke-opacity="0.13"/>
<path d="M68.1,212.0Q134.3,135.1 225.7,91.0" stroke="url(#g8)" stroke-width="1.4" stroke-opacity="0.18"/>
<path d="M67.5,211.5Q134.3,135.1 227.3,94.4" stroke="url(#g8)" stroke-width="1.6" stroke-opacity="0.18"/>
<path d="M67.0,211.1Q134.3,135.1 225.0,89.5" stroke="url(#g8)" stroke-width="0.6" stroke-opacity="0.16"/>
<path d="M66.5,210.6Q134.3,135.1 225.4,90.4" stroke="url(#g8)" stroke-width="1.2" stroke-opacity="0.11"/>
<path d="M66.3,210.4Q134.3,135.1 226.7,93.1" stroke="url(#g8)" stroke-width="1.2" stroke-opacity="0.20"/>
<path d="M66.0,210.2Q134.3,135.1 225.0,89.4" stroke="url(#g8)" stroke-width="0.8" stroke-opacity="0.20"/>
<path d="M65.5,209.7Q134.3,135.1 226.4,92.5" stroke="url(#g8)" stroke-width="0.9" stroke-opacity="0.21"/>
<path d="M64.9,209.1Q134.3,135.1 224.7,88.9" stroke="url(#g8)" stroke-width="1.6" stroke-opacity="0.15"/>
<path d="M64.3,208.6Q134.3,135.1 223.8,87.2" stroke="url(#g8)" stroke-width="1.4" stroke-opacity="0.22"/>
<path d="M64.2,208.5Q134.3,135.1 225.3,90.2" stroke="url(#g8)" stroke-width="0.9" stroke-opacity="0.13"/>
<path d="M63.6,207.9Q134.3,135.1 224.9,89.3" stroke="url(#g8)" stroke-width="1.6" stroke-opacity="0.22"/>
<path d="M62.9,207.2Q134.3,135.1 224.4,88.4" stroke="url(#g8)" stroke-width="1.3" stroke-opacity="0.13"/>
<path d="M62.6,206.9Q134.3,135.1 224.1,87.7" stroke="url(#g8)" stroke-width="1.0" stroke-opacity="0.21"/>
<path d="M62.3,206.7Q134.3,135.1 222.9,85.6" stroke="url(#g8)" stroke-width="0.8" stroke-opacity="0.13"/>
<path d="M61.8,206.1Q134.3,135.1 224.3,88.1" stroke="url(#g8)" stroke-width="0.8" stroke-opacity="0.17"/>
<path d="M61.3,205.7Q134.3,135.1 223.4,86.5" stroke="url(#g8)" stroke-width="1.0" stroke-opacity="0.17"/>
<path d="M61.1,205.5Q134.3,135.1 222.0,84.0" stroke="url(#g8)" stroke-width="1.0" stroke-opacity="0.14"/>
<path d="M60.4,204.7Q134.3,135.1 222.1,84.1" stroke="url(#g8)" stroke-width="1.4" stroke-opacity="0.14"/>
<path d="M60.3,204.5Q134.3,135.1 222.6,85.1" stroke="url(#g8)" stroke-width="1.0" stroke-opacity="0.15"/>
<path d="M59.6,203.8Q134.3,135.1 221.5,83.2" stroke="url(#g8)" stroke-width="1.3" stroke-opacity="0.20"/>
<path d="M59.3,203.5Q134.3,135.1 222.1,84.2" stroke="url(#g8)" stroke-width="1.5" stroke-opacity="0.18"/>
<path d="M59.0,203.1Q134.3,135.1 220.7,81.9" stroke="url(#g8)" stroke-width="0.7" stroke-opacity="0.15"/>
<path d="M58.6,202.7Q134.3,135.1 222.1,84.1" stroke="url(#g8)" stroke-width="1.0" stroke-opacity="0.14"/>
<path d="M58.0,202.1Q134.3,135.1 222.5,84.9" stroke="url(#g8)" stroke-width="0.8" stroke-opacity="0.13"/>
<path d="M57.7,201.7Q134.3,135.1 220.6,81.7" stroke="url(#g8)" stroke-width="1.5" stroke-opacity="0.19"/>
<path d="M57.3,201.2Q134.3,135.1 219.9,80.5" stroke="url(#g8)" stroke-width="0.6" stroke-opacity="0.12"/>
<path d="M56.7,200.5Q134.3,135.1 220.9,82.1" stroke="url(#g8)" stroke-width="0.8" stroke-opacity="0.18"/>
<path d="M56.6,200.4Q134.3,135.1 220.4,81.4" stroke="url(#g8)" stroke-width="0.9" stroke-opacity="0.12"/>
<path d="M55.9,199.6Q134.3,135.1 220.6,81.6" stroke="url(#g8)" stroke-width="1.1" stroke-opacity="0.13"/>
<path d="M55.6,199.2Q134.3,135.1 219.5,80.0" stroke="url(#g8)" stroke-width="1.3" stroke-opacity="0.12"/>
<path d="M55.1,198.6Q134.3,135.1 217.9,77.6" stroke="url(#g8)" stroke-width="0.8" stroke-opacity="0.15"/>
<path d="M55.0,198.4Q134.3,135.1 218.1,77.8" stroke="url(#g8)" stroke-width="1.3" stroke-opacity="0.22"/>
<path d="M54.6,197.9Q134.3,135.1 218.3,78.2" stroke="url(#g8)" stroke-width="1.3" stroke-opacity="0.13"/>
<path d="M54.2,197.4Q134.3,135.1 219.3,79.6" stroke="url(#g8)" stroke-width="1.0" stroke-opacity="0.13"/>
<path d="M53.9,197.0Q134.3,135.1 218.7,78.7" stroke="url(#g8)" stroke-width="1.6" stroke-opacity="0.21"/>
<path d="M53.5,196.5Q134.3,135.1 218.3,78.1" stroke="url(#g8)" stroke-width="1.1" stroke-opacity="0.13"/>
<path d="M52.9,195.8Q134.3,135.1 217.8,77.4" stroke="url(#g8)" stroke-width="1.4" stroke-opacity="0.14"/>
<path d="M52.5,195.2Q134.3,135.1 218.4,78.3" stroke="url(#g8)" stroke-width="1.1" stroke-opacity="0.13"/>
<path d="M52.3,194.9Q134.3,135.1 216.2,75.1" stroke="url(#g8)" stroke-width="1.3" stroke-opacity="0.19"/>
<path d="M51.9,194.3Q134.3,135.1 218.4,78.3" stroke="url(#g8)" stroke-width="0.6" stroke-opacity="0.19"/>
<path d="M51.4,193.7Q134.3,135.1 215.4,74.1" stroke="url(#g8)" stroke-width="0.9" stroke-opacity="0.12"/>
<path d="M51.2,193.3Q134.3,135.1 217.1,76.4" stroke="url(#g8)" stroke-width="0.9" stroke-opacity="0.19"/>
<path d="M50.9,192.9Q134.3,135.1 216.9,76.0" stroke="url(#g8)" stroke-width="0.9" stroke-opacity="0.22"/>
<path d="M50.5,192.4Q134.3,135.1 214.3,72.6" stroke="url(#g8)" stroke-width="0.7" stroke-opacity="0.19"/>
<path d="M50.0,191.7Q134.3,135.1 215.9,74.7" stroke="url(#g8)" stroke-width="0.8" stroke-opacity="0.21"/>
<path d="M49.7,191.2Q134.3,135.1 214.0,72.2" stroke="url(#g8)" stroke-width="1.0" stroke-opacity="0.18"/>
<path d="M49.6,191.1Q134.3,135.1 213.6,71.8" stroke="url(#g8)" stroke-width="1.0" stroke-opacity="0.21"/>
<path d="M49.0,190.1Q134.3,135.1 213.9,72.2" stroke="url(#g8)" stroke-width="1.5" stroke-opacity="0.20"/>
<path d="M48.7,189.6Q134.3,135.1 214.6,73.0" stroke="url(#g8)" stroke-width="1.6" stroke-opacity="0.18"/>
<path d="M48.3,189.0Q134.3,135.1 214.2,72.4" stroke="url(#g8)" stroke-width="0.8" stroke-opacity="0.17"/>
<path d="M48.1,188.8Q134.3,135.1 213.2,71.3" stroke="url(#g8)" stroke-width="1.0" stroke-opacity="0.17"/>
<path d="M47.8,188.2Q134.3,135.1 212.5,70.4" stroke="url(#g8)" stroke-width="0.9" stroke-opacity="0.17"/>
<path d="M47.5,187.7Q134.3,135.1 212.9,70.8" stroke="url(#g8)" stroke-width="1.3" stroke-opacity="0.13"/>
<path d="M47.2,187.2Q134.3,135.1 212.1,69.9" stroke="url(#g8)" stroke-width="1.4" stroke-opacity="0.19"/>
<path d="M46.8,186.5Q134.3,135.1 212.5,70.4" stroke="url(#g8)" stroke-width="0.8" stroke-opacity="0.21"/>
<path d="M46.5,186.1Q134.3,135.1 211.8,69.5" stroke="url(#g8)" stroke-width="0.9" stroke-opacity="0.15"/>
<path d="M141.8,33.9Q134.3,135.1 159.4,233.5" stroke="url(#g9)" stroke-width="1.1" stroke-opacity="0.14"/>
<path d="M142.2,33.9Q134.3,135.1 161.5,232.9" stroke="url(#g9)" stroke-width="1.0" stroke-opacity="0.10"/>
<path d="M142.9,34.0Q134.3,135.1 160.7,233.1" stroke="url(#g9)" stroke-width="1.3" stroke-opacity="0.10"/>
<path d="M143.4,34.0Q134.3,135.1 161.0,233.0" stroke="url(#g9)" stroke-width="1.3" stroke-opacity="0.13"/>
<path d="M144.3,34.1Q134.3,135.1 162.3,232.7" stroke="url(#g9)" stroke-width="0.9" stroke-opacity="0.08"/>
<path d="M144.8,34.1Q134.3,135.1 166.1,231.5" stroke="url(#g9)" stroke-width="1.6" stroke-opacity="0.12"/>
<path d="M145.6,34.2Q134.3,135.1 162.1,232.7" stroke="url(#g9)" stroke-width="1.4" stroke-opacity="0.10"/>
<path d="M146.1,34.3Q134.3,135.1 166.9,231.2" stroke="url(#g9)" stroke-width="1.4" stroke-opacity="0.14"/>
<path d="M146.8,34.4Q134.3,135.1 166.2,231.4" stroke="url(#g9)" stroke-width="0.9" stroke-opacity="0.12"/>
<path d="M147.6,34.5Q134.3,135.1 164.3,232.1" stroke="url(#g9)" stroke-width="1.4" stroke-opacity="0.15"/>
<path d="M148.0,34.5Q134.3,135.1 167.1,231.1" stroke="url(#g9)" stroke-width="0.9" stroke-opacity="0.16"/>
<path d="M148.5,34.6Q134.3,135.1 168.9,230.5" stroke="url(#g9)" stroke-width="0.9" stroke-opacity="0.15"/>
<path d="M149.6,34.8Q134.3,135.1 169.0,230.5" stroke="url(#g9)" stroke-width="1.5" stroke-opacity="0.15"/>
<path d="M149.9,34.8Q134.3,135.1 170.0,230.1" stroke="url(#g9)" stroke-width="1.4" stroke-opacity="0.11"/>
<path d="M150.4,34.9Q134.3,135.1 166.8,231.2" stroke="url(#g9)" stroke-width="1.0" stroke-opacity="0.11"/>
<path d="M151.3,35.0Q134.3,135.1 170.9,229.8" stroke="url(#g9)" stroke-width="0.6" stroke-opacity="0.11"/>
<path d="M151.8,35.1Q134.3,135.1 172.6,229.1" stroke="url(#g9)" stroke-width="1.0" stroke-opacity="0.14"/>
<path d="M152.4,35.2Q134.3,135.1 169.8,230.2" stroke="url(#g9)" stroke-width="1.2" stroke-opacity="0.10"/>
<path d="M152.8,35.3Q134.3,135.1 170.2,230.0" stroke="url(#g9)" stroke-width="1.2" stroke-opacity="0.10"/>
<path d="M153.6,35.4Q134.3,135.1 170.0,230.1" stroke="url(#g9)" stroke-width="1.5" stroke-opacity="0.10"/>
<path d="M154.4,35.6Q134.3,135.1 172.2,229.3" stroke="url(#g9)" stroke-width="0.9" stroke-opacity="0.08"/>
<path d="M154.9,35.7Q134.3,135.1 172.3,229.2" stroke="url(#g9)" stroke-width="1.2" stroke-opacity="0.12"/>
<path d="M155.4,35.8Q134.3,135.1 174.8,228.2" stroke="url(#g9)" stroke-width="0.9" stroke-opacity="0.11"/>
<path d="M156.2,36.0Q134.3,135.1 172.2,229.3" stroke="url(#g9)" stroke-width="0.7" stroke-opacity="0.16"/>
<path d="M156.7,36.1Q134.3,135.1 172.9,229.0" stroke="url(#g9)" stroke-width="0.8" stroke-opacity="0.13"/>
<path d="M157.4,36.3Q134.3,135.1 177.5,226.9" stroke="url(#g9)" stroke-width="1.4" stroke-opacity="0.14"/>
<path d="M158.0,36.4Q134.3,135.1 174.4,228.3" stroke="url(#g9)" stroke-width="1.1" stroke-opacity="0.16"/>
<path d="M158.5,36.5Q134.3,135.1 176.8,227.3" stroke="url(#g9)" stroke-width="0.8" stroke-opacity="0.13"/>
<path d="M159.5,36.8Q134.3,135.1 175.5,227.8" stroke="url(#g9)" stroke-width="1.1" stroke-opacity="0.11"/>
<path d="M160.2,36.9Q134.3,135.1 179.6,225.9" stroke="url(#g9)" stroke-width="0.9" stroke-opacity="0.14"/>
<path d="M160.6,37.1Q134.3,135.1 175.7,227.8" stroke="url(#g9)" stroke-width="0.7" stroke-opacity="0.12"/>
<path d="M161.0,37.2Q134.3,135.1 180.9,225.3" stroke="url(#g9)" stroke-width="0.7" stroke-opacity="0.09"/>
<path d="M161.7,37.4Q134.3,135.1 179.5,226.0" stroke="url(#g9)" stroke-width="1.1" stroke-opacity="0.10"/>
<path d="M162.6,37.6Q134.3,135.1 179.8,225.8" stroke="url(#g9)" stroke-width="1.6" stroke-opacity="0.09"/>
<path d="M163.1,37.8Q134.3,135.1 180.4,225.5" stroke="url(#g9)" stroke-width="1.0" stroke-opacity="0.15"/>
<path d="M163.5,37.9Q134.3,135.1 178.9,226.3" stroke="url(#g9)" stroke-width="1.0" stroke-opacity="0.11"/>
<path d="M164.4,38.2Q134.3,135.1 181.2,225.1" stroke="url(#g9)" stroke-width="0.9" stroke-opacity="0.09"/>
<path d="M165.2,38.4Q134.3,135.1 182.8,224.2" stroke="url(#g9)" stroke-width="0.7" stroke-opacity="0.13"/>
<path d="M165.5,38.5Q134.3,135.1 183.3,224.0" stroke="url(#g9)" stroke-width="0.9" stroke-opacity="0.15"/>
<path d="M166.0,38.7Q134.3,135.1 183.4,224.0" stroke="url(#g9)" stroke-width="1.6" stroke-opacity="0.11"/>
<path d="M166.7,38.9Q134.3,135.1 185.1,223.0" stroke="url(#g9)" stroke-width="1.3" stroke-opacity="0.13"/>
<path d="M167.3,39.1Q134.3,135.1 184.5,223.3" stroke="url(#g9)" stroke-width="0.8" stroke-opacity="0.14"/>
<path d="M167.9,39.3Q134.3,135.1 183.1,224.1" stroke="url(#g9)" stroke-width="1.0" stroke-opacity="0.14"/>
<path d="M168.2,39.4Q134.3,135.1 186.2,222.3" stroke="url(#g9)" stroke-width="1.6" stroke-opacity="0.13"/>
<path d="M169.2,39.8Q134.3,135.1 185.8,222.5" stroke="url(#g9)" stroke-width="1.1" stroke-opacity="0.10"/>
<path d="M169.5,39.9Q134.3,135.1 185.4,222.8" stroke="url(#g9)" stroke-width="1.3" stroke-opacity="0.10"/>
<path d="M170.4,40.2Q134.3,135.1 188.5,220.9" stroke="url(#g9)" stroke-width="1.2" stroke-opacity="0.09"/>
<path d="M170.9,40.4Q134.3,135.1 188.2,221.1" stroke="url(#g9)" stroke-width="1.2" stroke-opacity="0.09"/>
<path d="M171.5,40.7Q134.3,135.1 187.3,221.7" stroke="url(#g9)" stroke-width="0.7" stroke-opacity="0.10"/>
<path d="M172.2,41.0Q134.3,135.1 188.3,221.1" stroke="url(#g9)" stroke-width="1.2" stroke-opacity="0.14"/>
<path d="M172.8,41.2Q134.3,135.1 190.2,219.8" stroke="url(#g9)" stroke-width="1.0" stroke-opacity="0.15"/>
<path d="M173.3,41.4Q134.3,135.1 188.3,221.0" stroke="url(#g9)" stroke-width="1.0" stroke-opacity="0.12"/>
<path d="M174.2,41.8Q134.3,135.1 188.7,220.8" stroke="url(#g9)" stroke-width="1.3" stroke-opacity="0.09"/>
<path d="M174.5,41.9Q134.3,135.1 192.5,218.2" stroke="url(#g9)" stroke-width="1.5" stroke-opacity="0.16"/>
<path d="M175.2,42.2Q134.3,135.1 192.1,218.5" stroke="url(#g9)" stroke-width="1.4" stroke-opacity="0.09"/>
<path d="M175.8,42.5Q134.3,135.1 191.5,218.9" stroke="url(#g9)" stroke-width="0.6" stroke-opacity="0.15"/>
<path d="M176.2,42.7Q134.3,135.1 190.5,219.6" stroke="url(#g9)" stroke-width="1.3" stroke-opacity="0.12"/>
<path d="M177.0,43.0Q134.3,135.1 193.9,217.2" stroke="url(#g9)" stroke-width="1.5" stroke-opacity="0.11"/>
<path d="M177.1,43.1Q134.3,135.1 193.4,217.6" stroke="url(#g9)" stroke-width="0.7" stroke-opacity="0.09"/>
<path d="M178.0,43.5Q134.3,135.1 195.2,216.3" stroke="url(#g9)" stroke-width="0.8" stroke-opacity="0.10"/>
<path d="M178.4,43.7Q134.3,135.1 192.0,218.6" stroke="url(#g9)" stroke-width="1.5" stroke-opacity="0.15"/>
<path d="M179.4,44.2Q134.3,135.1 195.0,216.5" stroke="url(#g9)" stroke-width="1.4" stroke-opacity="0.10"/>
<path d="M179.9,44.4Q134.3,135.1 193.8,217.3" stroke="url(#g9)" stroke-width="1.3" stroke-opacity="0.10"/>
<path d="M180.0,44.5Q134.3,135.1 193.4,217.6" stroke="url(#g9)" stroke-width="1.2" stroke-opacity="0.13"/>
<path d="M181.0,45.0Q134.3,135.1 197.6,214.4" stroke="url(#g9)" stroke-width="1.3" stroke-opacity="0.12"/>
<path d="M181.6,45.3Q134.3,135.1 196.8,215.1" stroke="url(#g9)" stroke-width="0.8" stroke-opacity="0.16"/>
<path d="M181.8,45.4Q134.3,135.1 195.8,215.9" stroke="url(#g9)" stroke-width="1.4" stroke-opacity="0.10"/>
<path d="M182.6,45.9Q134.3,135.1 197.9,214.2" stroke="url(#g9)" stroke-width="0.8" stroke-opacity="0.10"/>
<path d="M183.4,46.2Q134.3,135.1 198.6,213.6" stroke="url(#g9)" stroke-width="1.1" stroke-opacity="0.12"/>
<path d="M183.4,46.3Q134.3,135.1 197.1,214.9" stroke="url(#g9)" stroke-width="1.3" stroke-opacity="0.15"/>
<path d="M184.1,46.7Q134.3,135.1 199.9,212.5" stroke="url(#g9)" stroke-width="0.9" stroke-opacity="0.14"/>
<path d="M184.9,47.1Q134.3,135.1 199.8,212.7" stroke="url(#g9)" stroke-width="1.1" stroke-opacity="0.09"/>
<path d="M72.4,54.6Q134.3,135.1 33.9,150.0" stroke="url(#g10)" stroke-width="1.1" stroke-opacity="0.14"/>
<path d="M72.6,54.5Q134.3,135.1 33.7,148.8" stroke="url(#g10)" stroke-width="1.0" stroke-opacity="0.14"/>
<path d="M73.2,54.1Q134.3,135.1 34.2,151.7" stroke="url(#g10)" stroke-width="1.2" stroke-opacity="0.12"/>
<path d="M74.1,53.4Q134.3,135.1 34.0,150.9" stroke="url(#g10)" stroke-width="0.8" stroke-opacity="0.11"/>
<path d="M74.5,53.1Q134.3,135.1 33.9,150.2" stroke="url(#g10)" stroke-width="0.9" stroke-opacity="0.15"/>
<path d="M75.5,52.3Q134.3,135.1 34.3,152.2" stroke="url(#g10)" stroke-width="1.2" stroke-opacity="0.09"/>
<path d="M76.4,51.8Q134.3,135.1 34.7,154.6" stroke="url(#g10)" stroke-width="1.5" stroke-opacity="0.14"/>
<path d="M77.0,51.3Q134.3,135.1 34.3,152.4" stroke="url(#g10)" stroke-width="1.0" stroke-opacity="0.13"/>
<path d="M77.9,50.7Q134.3,135.1 35.1,156.5" stroke="url(#g10)" stroke-width="0.7" stroke-opacity="0.11"/>
<path d="M78.3,50.5Q134.3,135.1 35.2,157.0" stroke="url(#g10)" stroke-width="0.8" stroke-opacity="0.15"/>
<path d="M78.9,50.1Q134.3,135.1 35.3,157.6" stroke="url(#g10)" stroke-width="0.8" stroke-opacity="0.13"/>
<path d="M79.4,49.7Q134.3,135.1 35.1,156.4" stroke="url(#g10)" stroke-width="1.1" stroke-opacity="0.12"/>
<path d="M80.4,49.1Q134.3,135.1 34.8,155.3" stroke="url(#g10)" stroke-width="0.6" stroke-opacity="0.15"/>
<path d="M80.9,48.8Q134.3,135.1 35.9,159.9" stroke="url(#g10)" stroke-width="1.4" stroke-opacity="0.13"/>
<path d="M81.8,48.2Q134.3,135.1 35.9,159.8" stroke="url(#g10)" stroke-width="1.4" stroke-opacity="0.10"/>
<path d="M82.7,47.7Q134.3,135.1 36.0,160.5" stroke="url(#g10)" stroke-width="1.2" stroke-opacity="0.13"/>
<path d="M83.1,47.4Q134.3,135.1 35.8,159.6" stroke="url(#g10)" stroke-width="0.7" stroke-opacity="0.13"/>
<path d="M84.1,46.9Q134.3,135.1 36.5,162.1" stroke="url(#g10)" stroke-width="1.2" stroke-opacity="0.14"/>
<path d="M84.4,46.7Q134.3,135.1 35.6,158.8" stroke="url(#g10)" stroke-width="1.5" stroke-opacity="0.08"/>
<path d="M85.2,46.2Q134.3,135.1 36.8,163.4" stroke="url(#g10)" stroke-width="0.9" stroke-opacity="0.09"/>
<path d="M86.1,45.8Q134.3,135.1 36.8,163.3" stroke="url(#g10)" stroke-width="0.9" stroke-opacity="0.12"/>
<path d="M86.8,45.4Q134.3,135.1 36.2,161.1" stroke="url(#g10)" stroke-width="1.3" stroke-opacity="0.09"/>
<path d="M87.4,45.1Q134.3,135.1 37.5,165.6" stroke="url(#g10)" stroke-width="0.9" stroke-opacity="0.09"/>
<path d="M88.5,44.5Q134.3,135.1 36.6,162.6" stroke="url(#g10)" stroke-width="1.6" stroke-opacity="0.10"/>
<path d="M88.8,44.4Q134.3,135.1 36.7,162.9" stroke="url(#g10)" stroke-width="1.0" stroke-opacity="0.15"/>
<path d="M89.8,43.9Q134.3,135.1 37.6,166.0" stroke="url(#g10)" stroke-width="0.7" stroke-opacity="0.16"/>
<path d="M90.6,43.5Q134.3,135.1 37.6,166.0" stroke="url(#g10)" stroke-width="1.0" stroke-opacity="0.14"/>
<path d="M91.6,43.0Q134.3,135.1 37.8,166.7" stroke="url(#g10)" stroke-width="0.8" stroke-opacity="0.11"/>
<path d="M92.4,42.6Q134.3,135.1 38.2,167.7" stroke="url(#g10)" stroke-width="1.3" stroke-opacity="0.12"/>
<path d="M92.9,42.4Q134.3,135.1 38.0,167.2" stroke="url(#g10)" stroke-width="0.8" stroke-opacity="0.12"/>
<path d="M93.9,42.0Q134.3,135.1 39.2,170.5" stroke="url(#g10)" stroke-width="1.0" stroke-opacity="0.15"/>
<path d="M94.8,41.6Q134.3,135.1 39.5,171.5" stroke="url(#g10)" stroke-width="1.2" stroke-opacity="0.13"/>
<path d="M95.5,41.3Q134.3,135.1 38.9,169.7" stroke="url(#g10)" stroke-width="0.7" stroke-opacity="0.10"/>
<path d="M96.1,41.0Q134.3,135.1 38.6,169.0" stroke="url(#g10)" stroke-width="0.8" stroke-opacity="0.13"/>
<path d="M96.9,40.8Q134.3,135.1 38.9,169.9" stroke="url(#g10)" stroke-width="0.6" stroke-opacity="0.12"/>
<path d="M97.4,40.5Q134.3,135.1 39.2,170.6" stroke="url(#g10)" stroke-width="0.9" stroke-opacity="0.09"/>
<path d="M98.4,40.1Q134.3,135.1 40.1,172.9" stroke="url(#g10)" stroke-width="1.4" stroke-opacity="0.10"/>
<path d="M99.1,39.9Q134.3,135.1 39.3,170.9" stroke="url(#g10)" stroke-width="0.7" stroke-opacity="0.14"/>
<path d="M99.5,39.7Q134.3,135.1 39.2,170.5" stroke="url(#g10)" stroke-width="0.6" stroke-opacity="0.14"/>
<path d="M100.6,39.4Q134.3,135.1 41.0,175.0" stroke="url(#g10)" stroke-width="1.0" stroke-opacity="0.12"/>
<path d="M101.4,39.1Q134.3,135.1 41.4,175.9" stroke="url(#g10)" stroke-width="1.1" stroke-opacity="0.10"/>
<path d="M102.6,38.7Q134.3,135.1 41.2,175.6" stroke="url(#g10)" stroke-width="1.0" stroke-opacity="0.10"/>
<path d="M103.4,38.4Q134.3,135.1 41.6,176.5" stroke="url(#g10)" stroke-width="1.2" stroke-opacity="0.15"/>
<path d="M103.8,38.3Q134.3,135.1 40.8,174.6" stroke="url(#g10)" stroke-width="0.9" stroke-opacity="0.09"/>
<path d="M104.3,38.1Q134.3,135.1 41.6,176.5" stroke="url(#g10)" stroke-width="1.5" stroke-opacity="0.10"/>
<path d="M105.4,37.8Q134.3,135.1 41.3,175.8" stroke="url(#g10)" stroke-width="0.9" stroke-opacity="0.09"/>
<path d="M106.3,37.5Q134.3,135.1 42.3,178.0" stroke="url(#g10)" stroke-width="1.5" stroke-opacity="0.15"/>
<path d="M106.8,37.4Q134.3,135.1 42.2,177.8" stroke="url(#g10)" stroke-width="1.0" stroke-opacity="0.08"/>
<path d="M107.8,37.1Q134.3,135.1 41.8,176.8" stroke="url(#g10)" stroke-width="0.9" stroke-opacity="0.13"/>
<path d="M108.8,36.8Q134.3,135.1 44.1,181.6" stroke="url(#g10)" stroke-width="1.5" stroke-opacity="0.09"/>
<path d="M109.3,36.7Q134.3,135.1 42.7,178.8" stroke="url(#g10)" stroke-width="0.6" stroke-opacity="0.11"/>
<path d="M110.0,36.6Q134.3,135.1 43.5,180.5" stroke="url(#g10)" stroke-width="0.6" stroke-opacity="0.09"/>
<path d="M110.9,36.3Q134.3,135.1 44.8,182.9" stroke="url(#g10)" stroke-width="0.7" stroke-opacity="0.10"/>
<path d="M111.9,36.1Q134.3,135.1 45.0,183.4" stroke="url(#g10)" stroke-width="1.4" stroke-opacity="0.11"/>
<path d="M112.5,36.0Q134.3,135.1 45.0,183.3" stroke="url(#g10)" stroke-width="1.4" stroke-opacity="0.08"/>
<path d="M113.8,35.7Q134.3,135.1 45.8,184.8" stroke="url(#g10)" stroke-width="1.5" stroke-opacity="0.11"/>
<path d="M114.5,35.6Q134.3,135.1 44.1,181.7" stroke="url(#g10)" stroke-width="0.7" stroke-opacity="0.09"/>
<path d="M115.4,35.4Q134.3,135.1 45.2,183.6" stroke="url(#g10)" stroke-width="1.3" stroke-opacity="0.10"/>
<path d="M116.0,35.3Q134.3,135.1 46.5,185.9" stroke="url(#g10)" stroke-width="1.0" stroke-opacity="0.10"/>
<path d="M116.9,35.1Q134.3,135.1 46.5,186.0" stroke="url(#g10)" stroke-width="0.9" stroke-opacity="0.13"/>
<path d="M117.3,35.0Q134.3,135.1 45.3,184.0" stroke="url(#g10)" stroke-width="1.1" stroke-opacity="0.10"/>
<path d="M118.2,34.9Q134.3,135.1 46.4,185.9" stroke="url(#g10)" stroke-width="1.1" stroke-opacity="0.14"/>
<path d="M119.2,34.7Q134.3,135.1 47.1,187.1" stroke="url(#g10)" stroke-width="1.5" stroke-opacity="0.10"/>
<path d="M120.5,34.5Q134.3,135.1 46.3,185.7" stroke="url(#g10)" stroke-width="1.6" stroke-opacity="0.16"/>
<path d="M120.8,34.5Q134.3,135.1 46.6,186.2" stroke="url(#g10)" stroke-width="1.2" stroke-opacity="0.10"/>
<path d="M122.2,34.3Q134.3,135.1 47.7,188.0" stroke="url(#g10)" stroke-width="1.4" stroke-opacity="0.12"/>
<path d="M122.3,34.3Q134.3,135.1 47.1,187.0" stroke="url(#g10)" stroke-width="0.8" stroke-opacity="0.10"/>
<path d="M123.6,34.2Q134.3,135.1 49.5,190.9" stroke="url(#g10)" stroke-width="1.1" stroke-opacity="0.14"/>
<path d="M124.0,34.1Q134.3,135.1 48.3,189.0" stroke="url(#g10)" stroke-width="0.7" stroke-opacity="0.12"/>
<path d="M125.3,34.0Q134.3,135.1 48.8,189.8" stroke="url(#g10)" stroke-width="0.6" stroke-opacity="0.10"/>
<path d="M126.4,33.9Q134.3,135.1 50.1,191.8" stroke="url(#g10)" stroke-width="1.0" stroke-opacity="0.11"/>
<path d="M127.0,33.9Q134.3,135.1 49.3,190.6" stroke="url(#g10)" stroke-width="1.3" stroke-opacity="0.11"/>
<path d="M234.3,118.0Q134.3,135.1 56.7,200.6" stroke="url(#g11)" stroke-width="0.8" stroke-opacity="0.16"/>
<path d="M234.6,119.2Q134.3,135.1 56.4,200.2" stroke="url(#g11)" stroke-width="1.6" stroke-opacity="0.12"/>
<path d="M234.7,120.0Q134.3,135.1 58.7,202.8" stroke="url(#g11)" stroke-width="1.3" stroke-opacity="0.14"/>
<path d="M234.8,121.0Q134.3,135.1 57.1,201.0" stroke="url(#g11)" stroke-width="1.5" stroke-opacity="0.10"/>
<path d="M234.9,121.8Q134.3,135.1 58.7,202.9" stroke="url(#g11)" stroke-width="0.9" stroke-opacity="0.11"/>
<path d="M235.0,122.7Q134.3,135.1 57.9,201.9" stroke="url(#g11)" stroke-width="1.4" stroke-opacity="0.13"/>
<path d="M235.1,123.0Q134.3,135.1 60.5,204.8" stroke="url(#g11)" stroke-width="1.2" stroke-opacity="0.10"/>
<path d="M235.2,124.0Q134.3,135.1 61.2,205.6" stroke="url(#g11)" stroke-width="0.8" stroke-opacity="0.14"/>
<path d="M235.3,124.8Q134.3,135.1 58.9,203.1" stroke="url(#g11)" stroke-width="0.9" stroke-opacity="0.15"/>
<path d="M235.4,125.8Q134.3,135.1 61.5,205.9" stroke="url(#g11)" stroke-width="1.0" stroke-opacity="0.08"/>
<path d="M235.5,126.8Q134.3,135.1 61.7,206.0" stroke="url(#g11)" stroke-width="0.6" stroke-opacity="0.15"/>
<path d="M235.5,127.7Q134.3,135.1 63.5,207.9" stroke="url(#g11)" stroke-width="1.6" stroke-opacity="0.10"/>
<path d="M235.6,128.5Q134.3,135.1 63.9,208.2" stroke="url(#g11)" stroke-width="0.7" stroke-opacity="0.14"/>
<path d="M235.7,129.7Q134.3,135.1 62.7,207.0" stroke="url(#g11)" stroke-width="0.8" stroke-opacity="0.10"/>
<path d="M235.7,130.9Q134.3,135.1 63.8,208.2" stroke="url(#g11)" stroke-width="1.6" stroke-opacity="0.15"/>
<path d="M235.7,131.1Q134.3,135.1 62.1,206.5" stroke="url(#g11)" stroke-width="0.6" stroke-opacity="0.14"/>
<path d="M235.8,132.6Q134.3,135.1 63.5,207.8" stroke="url(#g11)" stroke-width="1.1" stroke-opacity="0.15"/>
<path d="M235.8,132.9Q134.3,135.1 64.3,208.6" stroke="url(#g11)" stroke-width="0.9" stroke-opacity="0.11"/>
<path d="M235.8,133.9Q134.3,135.1 64.1,208.4" stroke="url(#g11)" stroke-width="1.2" stroke-opacity="0.14"/>
<path d="M235.8,135.2Q134.3,135.1 65.2,209.5" stroke="url(#g11)" stroke-width="1.5" stroke-opacity="0.14"/>
<path d="M235.8,136.0Q134.3,135.1 66.8,210.9" stroke="url(#g11)" stroke-width="1.5" stroke-opacity="0.11"/>
<path d="M235.8,136.5Q134.3,135.1 67.0,211.1" stroke="url(#g11)" stroke-width="1.3" stroke-opacity="0.15"/>
<path d="M235.8,137.9Q134.3,135.1 66.5,210.6" stroke="url(#g11)" stroke-width="1.5" stroke-opacity="0.14"/>
<path d="M235.7,138.6Q134.3,135.1 67.7,211.7" stroke="url(#g11)" stroke-width="1.4" stroke-opacity="0.11"/>
<path d="M235.7,139.2Q134.3,135.1 67.4,211.4" stroke="url(#g11)" stroke-width="1.4" stroke-opacity="0.10"/>
<path d="M235.6,140.6Q134.3,135.1 67.1,211.1" stroke="url(#g11)" stroke-width="0.7" stroke-opacity="0.09"/>
<path d="M235.6,141.4Q134.3,135.1 69.7,213.4" stroke="url(#g11)" stroke-width="1.5" stroke-opacity="0.16"/>
<path d="M235.5,142.2Q134.3,135.1 68.4,212.3" stroke="url(#g11)" stroke-width="1.2" stroke-opacity="0.09"/>
<path d="M235.4,143.6Q134.3,135.1 71.7,215.0" stroke="url(#g11)" stroke-width="0.7" stroke-opacity="0.12"/>
<path d="M235.4,143.6Q134.3,135.1 70.5,214.0" stroke="url(#g11)" stroke-width="1.0" stroke-opacity="0.16"/>
<path d="M235.3,144.9Q134.3,135.1 69.7,213.4" stroke="url(#g11)" stroke-width="1.4" stroke-opacity="0.13"/>
<path d="M235.3,145.6Q134.3,135.1 72.4,215.5" stroke="url(#g11)" stroke-width="1.1" stroke-opacity="0.11"/>
<path d="M235.1,146.9Q134.3,135.1 72.3,215.4" stroke="url(#g11)" stroke-width="0.9" stroke-opacity="0.13"/>
<path d="M235.0,148.1Q134.3,135.1 74.3,216.9" stroke="url(#g11)" stroke-width="0.9" stroke-opacity="0.08"/>
<path d="M234.9,148.2Q134.3,135.1 74.9,217.4" stroke="url(#g11)" stroke-width="1.0" stroke-opacity="0.15"/>
<path d="M234.8,149.7Q134.3,135.1 71.9,215.2" stroke="url(#g11)" stroke-width="1.4" stroke-opacity="0.13"/>
<path d="M234.6,150.4Q134.3,135.1 76.5,218.5" stroke="url(#g11)" stroke-width="1.0" stroke-opacity="0.10"/>
<path d="M234.5,151.4Q134.3,135.1 76.8,218.8" stroke="url(#g11)" stroke-width="1.1" stroke-opacity="0.11"/>
<path d="M234.4,152.2Q134.3,135.1 75.8,218.1" stroke="url(#g11)" stroke-width="0.7" stroke-opacity="0.14"/>
<path d="M234.2,153.3Q134.3,135.1 75.7,218.0" stroke="url(#g11)" stroke-width="0.7" stroke-opacity="0.13"/>
<path d="M234.0,154.3Q134.3,135.1 74.6,217.2" stroke="url(#g11)" stroke-width="1.4" stroke-opacity="0.08"/>
<path d="M233.8,155.2Q134.3,135.1 76.6,218.6" stroke="url(#g11)" stroke-width="0.9" stroke-opacity="0.15"/>
<path d="M233.6,156.0Q134.3,135.1 76.1,218.2" stroke="url(#g11)" stroke-width="0.8" stroke-opacity="0.13"/>
<path d="M233.5,156.5Q134.3,135.1 79.0,220.2" stroke="url(#g11)" stroke-width="1.4" stroke-opacity="0.13"/>
<path d="M233.3,157.3Q134.3,135.1 78.5,219.9" stroke="url(#g11)" stroke-width="1.5" stroke-opacity="0.13"/>
<path d="M233.0,158.7Q134.3,135.1 79.2,220.4" stroke="url(#g11)" stroke-width="1.6" stroke-opacity="0.08"/>
<path d="M232.9,159.2Q134.3,135.1 79.6,220.6" stroke="url(#g11)" stroke-width="1.3" stroke-opacity="0.16"/>
<path d="M232.6,160.2Q134.3,135.1 80.6,221.2" stroke="url(#g11)" stroke-width="1.2" stroke-opacity="0.12"/>
<path d="M232.4,161.2Q134.3,135.1 79.1,220.3" stroke="url(#g11)" stroke-width="0.6" stroke-opacity="0.11"/>
<path d="M232.1,162.2Q134.3,135.1 83.8,223.1" stroke="url(#g11)" stroke-width="1.4" stroke-opacity="0.08"/>
<path d="M231.9,162.9Q134.3,135.1 80.9,221.4" stroke="url(#g11)" stroke-width="0.8" stroke-opacity="0.11"/>
<path d="M231.8,163.4Q134.3,135.1 81.6,221.9" stroke="url(#g11)" stroke-width="1.1" stroke-opacity="0.13"/>
<path d="M231.5,164.3Q134.3,135.1 82.8,222.6" stroke="url(#g11)" stroke-width="1.6" stroke-opacity="0.14"/>
<path d="M231.1,165.7Q134.3,135.1 85.3,224.0" stroke="url(#g11)" stroke-width="1.1" stroke-opacity="0.11"/>
<path d="M231.0,166.1Q134.3,135.1 83.0,222.7" stroke="url(#g11)" stroke-width="0.8" stroke-opacity="0.12"/>
<path d="M230.6,167.3Q134.3,135.1 83.2,222.8" stroke="url(#g11)" stroke-width="0.6" stroke-opacity="0.10"/>
<path d="M230.3,167.9Q134.3,135.1 83.6,223.0" stroke="url(#g11)" stroke-width="0.8" stroke-opacity="0.15"/>
<path d="M230.1,168.7Q134.3,135.1 85.9,224.3" stroke="url(#g11)" stroke-width="1.5" stroke-opacity="0.09"/>
<path d="M229.8,169.5Q134.3,135.1 88.3,225.6" stroke="url(#g11)" stroke-width="0.7" stroke-opacity="0.10"/>
<path d="M229.4,170.7Q134.3,135.1 87.1,225.0" stroke="url(#g11)" stroke-width="0.7" stroke-opacity="0.14"/>
<path d="M229.1,171.4Q134.3,135.1 89.7,226.3" stroke="url(#g11)" stroke-width="1.4" stroke-opacity="0.15"/>
<path d="M228.9,172.0Q134.3,135.1 86.3,224.6" stroke="url(#g11)" stroke-width="1.4" stroke-opacity="0.10"/>
<path d="M228.6,172.6Q134.3,135.1 87.2,225.0" stroke="url(#g11)" stroke-width="1.4" stroke-opacity="0.09"/>
<path d="M228.0,174.1Q134.3,135.1 88.6,225.8" stroke="url(#g11)" stroke-width="1.2" stroke-opacity="0.15"/>
<path d="M227.6,175.1Q134.3,135.1 91.5,227.1" stroke="url(#g11)" stroke-width="1.4" stroke-opacity="0.15"/>
<path d="M227.5,175.4Q134.3,135.1 90.0,226.4" stroke="url(#g11)" stroke-width="1.3" stroke-opacity="0.15"/>
<path d="M227.0,176.4Q134.3,135.1 92.7,227.7" stroke="url(#g11)" stroke-width="0.9" stroke-opacity="0.12"/>
<path d="M226.8,176.9Q134.3,135.1 90.3,226.5" stroke="url(#g11)" stroke-width="1.5" stroke-opacity="0.10"/>
<path d="M226.2,178.2Q134.3,135.1 92.1,227.4" stroke="url(#g11)" stroke-width="0.7" stroke-opacity="0.14"/>
<path d="M225.8,179.0Q134.3,135.1 94.5,228.5" stroke="url(#g11)" stroke-width="0.7" stroke-opacity="0.10"/>
<path d="M225.4,179.9Q134.3,135.1 94.4,228.4" stroke="url(#g11)" stroke-width="1.4" stroke-opacity="0.09"/>
<path d="M225.3,180.1Q134.3,135.1 95.2,228.7" stroke="url(#g11)" stroke-width="1.5" stroke-opacity="0.09"/>
<path d="M224.9,180.9Q134.3,135.1 93.8,228.2" stroke="url(#g11)" stroke-width="0.7" stroke-opacity="0.13"/>
<path d="M224.5,181.7Q134.3,135.1 96.9,229.5" stroke="url(#g11)" stroke-width="1.3" stroke-opacity="0.15"/>
<path d="M223.9,182.8Q134.3,135.1 96.7,229.4" stroke="url(#g11)" stroke-width="0.6" stroke-opacity="0.11"/>
<path d="M223.5,183.5Q134.3,135.1 95.6,228.9" stroke="url(#g11)" stroke-width="1.3" stroke-opacity="0.14"/>
<path d="M223.0,184.5Q134.3,135.1 96.8,229.4" stroke="url(#g11)" stroke-width="0.7" stroke-opacity="0.11"/>
<path d="M222.6,185.1Q134.3,135.1 99.3,230.4" stroke="url(#g11)" stroke-width="1.3" stroke-opacity="0.10"/>
<path d="M222.2,185.9Q134.3,135.1 100.0,230.6" stroke="url(#g11)" stroke-width="1.5" stroke-opacity="0.13"/>
<path d="M221.6,186.8Q134.3,135.1 100.2,230.7" stroke="url(#g11)" stroke-width="1.5" stroke-opacity="0.16"/>
<path d="M221.2,187.6Q134.3,135.1 99.9,230.6" stroke="url(#g11)" stroke-width="1.5" stroke-opacity="0.10"/>
<path d="M220.8,188.2Q134.3,135.1 102.7,231.6" stroke="url(#g11)" stroke-width="1.1" stroke-opacity="0.14"/>
<path d="M220.4,188.9Q134.3,135.1 101.7,231.2" stroke="url(#g11)" stroke-width="1.6" stroke-opacity="0.12"/>
<path d="M219.8,189.8Q134.3,135.1 100.4,230.8" stroke="url(#g11)" stroke-width="1.5" stroke-opacity="0.11"/>
<path d="M219.4,190.4Q134.3,135.1 101.9,231.3" stroke="url(#g11)" stroke-width="1.3" stroke-opacity="0.15"/>
<path d="M218.7,191.5Q134.3,135.1 104.5,232.1" stroke="url(#g11)" stroke-width="1.1" stroke-opacity="0.10"/>
<path d="M218.3,192.1Q134.3,135.1 104.2,232.0" stroke="url(#g11)" stroke-width="1.5" stroke-opacity="0.15"/>
<path d="M217.5,193.2Q134.3,135.1 105.1,232.3" stroke="url(#g11)" stroke-width="1.6" stroke-opacity="0.09"/>
<path d="M217.0,194.0Q134.3,135.1 104.9,232.3" stroke="url(#g11)" stroke-width="1.5" stroke-opacity="0.11"/>
<path d="M216.4,194.8Q134.3,135.1 108.8,233.3" stroke="url(#g11)" stroke-width="1.4" stroke-opacity="0.15"/>
<path d="M207.1,205.8Q134.3,135.1 33.5,123.0" stroke="url(#g12)" stroke-width="0.8" stroke-opacity="0.14"/>
<path d="M206.4,206.5Q134.3,135.1 33.2,125.9" stroke="url(#g12)" stroke-width="0.8" stroke-opacity="0.14"/>
<path d="M205.6,207.3Q134.3,135.1 33.0,128.4" stroke="url(#g12)" stroke-width="1.6" stroke-opacity="0.10"/>
<path d="M205.2,207.7Q134.3,135.1 33.1,127.1" stroke="url(#g12)" stroke-width="1.2" stroke-opacity="0.15"/>
<path d="M204.2,208.7Q134.3,135.1 33.1,126.9" stroke="url(#g12)" stroke-width="1.0" stroke-opacity="0.09"/>
<path d="M204.1,208.8Q134.3,135.1 33.1,127.6" stroke="url(#g12)" stroke-width="1.2" stroke-opacity="0.12"/>
<path d="M202.9,209.9Q134.3,135.1 33.0,129.4" stroke="url(#g12)" stroke-width="1.0" stroke-opacity="0.11"/>
<path d="M202.8,210.0Q134.3,135.1 33.1,126.7" stroke="url(#g12)" stroke-width="1.2" stroke-opacity="0.12"/>
<path d="M201.9,210.8Q134.3,135.1 32.9,131.2" stroke="url(#g12)" stroke-width="0.9" stroke-opacity="0.12"/>
<path d="M201.3,211.4Q134.3,135.1 33.1,128.0" stroke="url(#g12)" stroke-width="1.2" stroke-opacity="0.10"/>
<path d="M200.9,211.7Q134.3,135.1 32.8,132.7" stroke="url(#g12)" stroke-width="0.9" stroke-opacity="0.14"/>
<path d="M199.6,212.8Q134.3,135.1 32.8,133.5" stroke="url(#g12)" stroke-width="1.4" stroke-opacity="0.12"/>
<path d="M199.2,213.2Q134.3,135.1 32.8,132.3" stroke="url(#g12)" stroke-width="0.6" stroke-opacity="0.09"/>
<path d="M198.4,213.8Q134.3,135.1 32.8,132.2" stroke="url(#g12)" stroke-width="1.0" stroke-opacity="0.15"/>
<path d="M197.6,214.4Q134.3,135.1 32.8,135.0" stroke="url(#g12)" stroke-width="0.7" stroke-opacity="0.12"/>
<path d="M197.0,214.9Q134.3,135.1 32.8,135.9" stroke="url(#g12)" stroke-width="0.6" stroke-opacity="0.12"/>
<path d="M196.8,215.1Q134.3,135.1 32.8,133.5" stroke="url(#g12)" stroke-width="1.2" stroke-opacity="0.10"/>
<path d="M195.8,215.9Q134.3,135.1 32.8,137.1" stroke="url(#g12)" stroke-width="0.8" stroke-opacity="0.09"/>
<path d="M194.8,216.6Q134.3,135.1 32.8,136.8" stroke="url(#g12)" stroke-width="1.3" stroke-opacity="0.11"/>
<path d="M194.1,217.1Q134.3,135.1 32.8,136.6" stroke="url(#g12)" stroke-width="1.3" stroke-opacity="0.11"/>
<path d="M193.6,217.5Q134.3,135.1 32.9,139.3" stroke="url(#g12)" stroke-width="1.6" stroke-opacity="0.13"/>
<path d="M192.9,218.0Q134.3,135.1 32.8,137.5" stroke="url(#g12)" stroke-width="0.7" stroke-opacity="0.11"/>
<path d="M192.4,218.4Q134.3,135.1 32.8,136.9" stroke="url(#g12)" stroke-width="0.6" stroke-opacity="0.12"/>
<path d="M191.2,219.2Q134.3,135.1 32.8,138.2" stroke="url(#g12)" stroke-width="1.3" stroke-opacity="0.10"/>
<path d="M190.9,219.4Q134.3,135.1 32.9,138.9" stroke="url(#g12)" stroke-width="0.9" stroke-opacity="0.14"/>
<path d="M190.1,219.9Q134.3,135.1 32.9,139.3" stroke="url(#g12)" stroke-width="1.2" stroke-opacity="0.15"/>
<path d="M188.8,220.7Q134.3,135.1 33.1,142.4" stroke="url(#g12)" stroke-width="1.6" stroke-opacity="0.08"/>
<path d="M188.2,221.1Q134.3,135.1 33.3,144.8" stroke="url(#g12)" stroke-width="1.1" stroke-opacity="0.11"/>
<path d="M187.5,221.5Q134.3,135.1 33.2,143.8" stroke="url(#g12)" stroke-width="0.8" stroke-opacity="0.14"/>
<path d="M186.9,221.9Q134.3,135.1 33.0,142.0" stroke="url(#g12)" stroke-width="1.1" stroke-opacity="0.08"/>
<path d="M186.0,222.5Q134.3,135.1 33.3,145.6" stroke="url(#g12)" stroke-width="1.1" stroke-opacity="0.08"/>
<path d="M185.6,222.7Q134.3,135.1 33.2,143.6" stroke="url(#g12)" stroke-width="1.4" stroke-opacity="0.13"/>
<path d="M184.7,223.2Q134.3,135.1 33.2,144.0" stroke="url(#g12)" stroke-width="1.3" stroke-opacity="0.10"/>
<path d="M183.9,223.7Q134.3,135.1 33.3,145.4" stroke="url(#g12)" stroke-width="1.3" stroke-opacity="0.10"/>
<path d="M183.3,224.0Q134.3,135.1 33.5,147.2" stroke="url(#g12)" stroke-width="0.7" stroke-opacity="0.11"/>
<path d="M182.2,224.6Q134.3,135.1 33.5,146.9" stroke="url(#g12)" stroke-width="0.8" stroke-opacity="0.14"/>
<path d="M181.9,224.8Q134.3,135.1 33.4,146.2" stroke="url(#g12)" stroke-width="0.7" stroke-opacity="0.09"/>
<path d="M181.0,225.2Q134.3,135.1 33.6,148.2" stroke="url(#g12)" stroke-width="0.9" stroke-opacity="0.15"/>
<path d="M179.6,225.9Q134.3,135.1 34.0,150.5" stroke="url(#g12)" stroke-width="1.3" stroke-opacity="0.14"/>
<path d="M179.1,226.2Q134.3,135.1 34.1,151.0" stroke="url(#g12)" stroke-width="1.5" stroke-opacity="0.16"/>
<path d="M178.8,226.3Q134.3,135.1 34.0,150.9" stroke="url(#g12)" stroke-width="0.9" stroke-opacity="0.10"/>
<path d="M177.7,226.9Q134.3,135.1 33.7,148.8" stroke="url(#g12)" stroke-width="0.6" stroke-opacity="0.15"/>
<path d="M176.9,227.2Q134.3,135.1 34.6,154.0" stroke="url(#g12)" stroke-width="1.5" stroke-opacity="0.10"/>
<path d="M176.2,227.5Q134.3,135.1 34.6,154.0" stroke="url(#g12)" stroke-width="1.0" stroke-opacity="0.09"/>
<path d="M175.4,227.9Q134.3,135.1 34.6,154.0" stroke="url(#g12)" stroke-width="1.2" stroke-opacity="0.12"/>
<path d="M174.5,228.3Q134.3,135.1 34.4,153.2" stroke="url(#g12)" stroke-width="1.4" stroke-opacity="0.14"/>
<path d="M173.7,228.6Q134.3,135.1 34.2,151.8" stroke="url(#g12)" stroke-width="1.4" stroke-opacity="0.12"/>
<path d="M172.8,229.0Q134.3,135.1 34.9,155.6" stroke="url(#g12)" stroke-width="0.7" stroke-opacity="0.15"/>
<path d="M171.8,229.4Q134.3,135.1 35.3,157.5" stroke="url(#g12)" stroke-width="1.5" stroke-opacity="0.15"/>
<path d="M171.5,229.5Q134.3,135.1 34.7,154.6" stroke="url(#g12)" stroke-width="0.8" stroke-opacity="0.12"/>
<path d="M170.0,230.1Q134.3,135.1 35.3,157.6" stroke="url(#g12)" stroke-width="1.1" stroke-opacity="0.13"/>
<path d="M169.7,230.2Q134.3,135.1 35.1,156.4" stroke="url(#g12)" stroke-width="1.0" stroke-opacity="0.16"/>
<path d="M168.9,230.5Q134.3,135.1 35.1,156.6" stroke="url(#g12)" stroke-width="0.6" stroke-opacity="0.10"/>
<path d="M168.1,230.8Q134.3,135.1 35.9,160.1" stroke="url(#g12)" stroke-width="1.1" stroke-opacity="0.09"/>
<path d="M166.7,231.3Q134.3,135.1 36.3,161.4" stroke="url(#g12)" stroke-width="1.2" stroke-opacity="0.15"/>
<path d="M166.4,231.4Q134.3,135.1 36.1,160.9" stroke="url(#g12)" stroke-width="1.4" stroke-opacity="0.12"/>
<path d="M164.9,231.9Q134.3,135.1 36.3,161.4" stroke="url(#g12)" stroke-width="1.0" stroke-opacity="0.16"/>
<path d="M164.5,232.0Q134.3,135.1 35.5,158.5" stroke="url(#g12)" stroke-width="1.5" stroke-opacity="0.10"/>
<path d="M163.5,232.3Q134.3,135.1 35.7,159.3" stroke="url(#g12)" stroke-width="0.7" stroke-opacity="0.15"/>
<path d="M162.5,232.6Q134.3,135.1 36.2,161.1" stroke="url(#g12)" stroke-width="1.2" stroke-opacity="0.09"/>
<path d="M161.5,232.9Q134.3,135.1 37.3,165.1" stroke="url(#g12)" stroke-width="1.4" stroke-opacity="0.14"/>
<path d="M161.2,233.0Q134.3,135.1 36.5,162.4" stroke="url(#g12)" stroke-width="1.0" stroke-opacity="0.14"/>
<path d="M160.5,233.2Q134.3,135.1 36.3,161.5" stroke="url(#g12)" stroke-width="1.0" stroke-opacity="0.14"/>
<path d="M159.3,233.5Q134.3,135.1 36.7,163.0" stroke="url(#g12)" stroke-width="0.9" stroke-opacity="0.12"/>
<path d="M158.8,233.6Q134.3,135.1 37.3,165.0" stroke="url(#g12)" stroke-width="0.7" stroke-opacity="0.15"/>
<path d="M157.4,233.9Q134.3,135.1 37.7,166.4" stroke="url(#g12)" stroke-width="1.6" stroke-opacity="0.16"/>
<path d="M156.3,234.2Q134.3,135.1 38.6,168.9" stroke="url(#g12)" stroke-width="1.3" stroke-opacity="0.14"/>
<path d="M155.7,234.3Q134.3,135.1 38.8,169.6" stroke="url(#g12)" stroke-width="1.5" stroke-opacity="0.12"/>
<path d="M154.9,234.5Q134.3,135.1 37.7,166.2" stroke="url(#g12)" stroke-width="0.9" stroke-opacity="0.08"/>
<path d="M153.7,234.7Q134.3,135.1 38.9,169.7" stroke="url(#g12)" stroke-width="0.6" stroke-opacity="0.09"/>
<path d="M152.8,234.9Q134.3,135.1 38.3,168.0" stroke="url(#g12)" stroke-width="0.8" stroke-opacity="0.09"/>
<path d="M152.0,235.0Q134.3,135.1 38.6,168.9" stroke="url(#g12)" stroke-width="1.2" stroke-opacity="0.09"/>
<path d="M199.8,57.6Q134.3,135.1 47.4,82.6" stroke="url(#g13)" stroke-width="0.6" stroke-opacity="0.10"/>
<path d="M200.2,57.9Q134.3,135.1 47.3,82.8" stroke="url(#g13)" stroke-width="0.7" stroke-opacity="0.14"/>
<path d="M201.4,58.9Q134.3,135.1 45.9,85.2" stroke="url(#g13)" stroke-width="0.6" stroke-opacity="0.12"/>
<path d="M201.8,59.3Q134.3,135.1 45.0,86.8" stroke="url(#g13)" stroke-width="0.7" stroke-opacity="0.11"/>
<path d="M202.7,60.1Q134.3,135.1 43.7,89.4" stroke="url(#g13)" stroke-width="1.5" stroke-opacity="0.10"/>
<path d="M203.0,60.3Q134.3,135.1 43.8,89.2" stroke="url(#g13)" stroke-width="1.1" stroke-opacity="0.12"/>
<path d="M203.8,61.1Q134.3,135.1 44.9,87.1" stroke="url(#g13)" stroke-width="1.1" stroke-opacity="0.11"/>
<path d="M204.7,61.9Q134.3,135.1 42.8,91.3" stroke="url(#g13)" stroke-width="0.6" stroke-opacity="0.09"/>
<path d="M204.9,62.1Q134.3,135.1 42.4,91.9" stroke="url(#g13)" stroke-width="1.0" stroke-opacity="0.07"/>
<path d="M205.8,63.1Q134.3,135.1 42.7,91.3" stroke="url(#g13)" stroke-width="1.5" stroke-opacity="0.12"/>
<path d="M206.3,63.6Q134.3,135.1 43.1,90.6" stroke="url(#g13)" stroke-width="0.9" stroke-opacity="0.12"/>
<path d="M206.6,63.9Q134.3,135.1 42.4,91.9" stroke="url(#g13)" stroke-width="1.2" stroke-opacity="0.12"/>
<path d="M207.2,64.5Q134.3,135.1 41.7,93.6" stroke="url(#g13)" stroke-width="1.4" stroke-opacity="0.13"/>
<path d="M208.3,65.6Q134.3,135.1 40.6,96.0" stroke="url(#g13)" stroke-width="0.8" stroke-opacity="0.08"/>
<path d="M208.7,66.1Q134.3,135.1 41.7,93.5" stroke="url(#g13)" stroke-width="1.2" stroke-opacity="0.12"/>
<path d="M209.2,66.6Q134.3,135.1 41.1,95.0" stroke="url(#g13)" stroke-width="1.5" stroke-opacity="0.12"/>
<path d="M209.8,67.3Q134.3,135.1 40.8,95.7" stroke="url(#g13)" stroke-width="1.1" stroke-opacity="0.12"/>
<path d="M210.4,67.9Q134.3,135.1 39.6,98.6" stroke="url(#g13)" stroke-width="1.0" stroke-opacity="0.10"/>
<path d="M210.9,68.5Q134.3,135.1 40.2,97.1" stroke="url(#g13)" stroke-width="1.0" stroke-opacity="0.10"/>
<path d="M211.4,69.1Q134.3,135.1 39.5,98.8" stroke="url(#g13)" stroke-width="1.6" stroke-opacity="0.08"/>
<path d="M211.7,69.5Q134.3,135.1 40.0,97.5" stroke="url(#g13)" stroke-width="1.0" stroke-opacity="0.10"/>
<path d="M212.6,70.5Q134.3,135.1 38.9,100.4" stroke="url(#g13)" stroke-width="0.8" stroke-opacity="0.07"/>
<path d="M213.3,71.4Q134.3,135.1 39.6,98.5" stroke="url(#g13)" stroke-width="0.9" stroke-opacity="0.10"/>
<path d="M213.6,71.7Q134.3,135.1 37.9,103.2" stroke="url(#g13)" stroke-width="1.5" stroke-opacity="0.13"/>
<path d="M214.0,72.3Q134.3,135.1 38.0,102.9" stroke="url(#g13)" stroke-width="1.3" stroke-opacity="0.13"/>
<path d="M214.7,73.1Q134.3,135.1 38.0,103.2" stroke="url(#g13)" stroke-width="0.8" stroke-opacity="0.13"/>
<path d="M215.4,74.1Q134.3,135.1 38.4,101.8" stroke="url(#g13)" stroke-width="0.7" stroke-opacity="0.11"/>
<path d="M216.0,74.9Q134.3,135.1 37.9,103.4" stroke="url(#g13)" stroke-width="1.1" stroke-opacity="0.08"/>
<path d="M216.0,74.9Q134.3,135.1 37.9,103.4" stroke="url(#g13)" stroke-width="0.7" stroke-opacity="0.13"/>
<path d="M216.9,76.0Q134.3,135.1 37.1,105.9" stroke="url(#g13)" stroke-width="1.5" stroke-opacity="0.14"/>
<path d="M217.3,76.7Q134.3,135.1 36.3,108.5" stroke="url(#g13)" stroke-width="1.2" stroke-opacity="0.10"/>
<path d="M217.6,77.2Q134.3,135.1 37.4,104.8" stroke="url(#g13)" stroke-width="1.3" stroke-opacity="0.08"/>
<path d="M218.1,77.9Q134.3,135.1 36.4,108.5" stroke="url(#g13)" stroke-width="1.2" stroke-opacity="0.09"/>
<path d="M218.7,78.7Q134.3,135.1 36.8,107.0" stroke="url(#g13)" stroke-width="0.8" stroke-opacity="0.12"/>
<path d="M219.1,79.4Q134.3,135.1 36.8,107.0" stroke="url(#g13)" stroke-width="1.6" stroke-opacity="0.09"/>
<path d="M219.7,80.3Q134.3,135.1 35.4,112.3" stroke="url(#g13)" stroke-width="1.0" stroke-opacity="0.11"/>
<path d="M220.2,81.0Q134.3,135.1 35.5,111.8" stroke="url(#g13)" stroke-width="0.6" stroke-opacity="0.08"/>
<path d="M220.6,81.7Q134.3,135.1 35.1,113.4" stroke="url(#g13)" stroke-width="0.9" stroke-opacity="0.11"/>
<path d="M221.2,82.7Q134.3,135.1 35.3,112.7" stroke="url(#g13)" stroke-width="0.9" stroke-opacity="0.11"/>
<path d="M221.4,83.0Q134.3,135.1 35.6,111.6" stroke="url(#g13)" stroke-width="0.8" stroke-opacity="0.09"/>
<path d="M221.9,83.8Q134.3,135.1 35.5,111.8" stroke="url(#g13)" stroke-width="0.8" stroke-opacity="0.08"/>
<path d="M222.2,84.3Q134.3,135.1 34.6,116.0" stroke="url(#g13)" stroke-width="0.9" stroke-opacity="0.10"/>
<path d="M222.9,85.6Q134.3,135.1 34.6,116.2" stroke="url(#g13)" stroke-width="1.1" stroke-opacity="0.10"/>
<path d="M223.3,86.3Q134.3,135.1 34.9,114.4" stroke="url(#g13)" stroke-width="1.0" stroke-opacity="0.13"/>
<path d="M223.5,86.7Q134.3,135.1 34.9,114.4" stroke="url(#g13)" stroke-width="1.1" stroke-opacity="0.12"/>
<path d="M224.0,87.5Q134.3,135.1 34.1,119.0" stroke="url(#g13)" stroke-width="0.7" stroke-opacity="0.13"/>
<path d="M224.4,88.3Q134.3,135.1 34.3,117.5" stroke="url(#g13)" stroke-width="1.1" stroke-opacity="0.11"/>
<path d="M224.7,88.9Q134.3,135.1 33.8,120.9" stroke="url(#g13)" stroke-width="0.9" stroke-opacity="0.12"/>
<path d="M225.2,90.0Q134.3,135.1 33.5,122.8" stroke="url(#g13)" stroke-width="1.3" stroke-opacity="0.10"/>
<path d="M225.4,90.4Q134.3,135.1 33.7,121.9" stroke="url(#g13)" stroke-width="0.8" stroke-opacity="0.13"/>
<path d="M226.0,91.5Q134.3,135.1 33.6,122.7" stroke="url(#g13)" stroke-width="0.8" stroke-opacity="0.09"/>
<path d="M226.2,92.1Q134.3,135.1 33.5,123.2" stroke="url(#g13)" stroke-width="1.4" stroke-opacity="0.13"/>
<path d="M226.7,93.2Q134.3,135.1 33.7,121.4" stroke="url(#g13)" stroke-width="1.3" stroke-opacity="0.08"/>
<path d="M226.9,93.5Q134.3,135.1 33.3,125.5" stroke="url(#g13)" stroke-width="0.9" stroke-opacity="0.11"/>
<path d="M227.5,94.9Q134.3,135.1 33.3,124.7" stroke="url(#g13)" stroke-width="1.0" stroke-opacity="0.09"/>
<path d="M227.9,95.8Q134.3,135.1 33.3,124.7" stroke="url(#g13)" stroke-width="0.9" stroke-opacity="0.07"/>
<path d="M228.2,96.6Q134.3,135.1 33.0,128.1" stroke="url(#g13)" stroke-width="1.4" stroke-opacity="0.08"/>
<path d="M228.4,97.1Q134.3,135.1 33.0,128.1" stroke="url(#g13)" stroke-width="1.5" stroke-opacity="0.09"/>
<path d="M228.6,97.5Q134.3,135.1 33.0,129.3" stroke="url(#g13)" stroke-width="1.4" stroke-opacity="0.14"/>
<path d="M229.1,98.7Q134.3,135.1 33.1,128.0" stroke="url(#g13)" stroke-width="0.9" stroke-opacity="0.09"/>
<path d="M229.2,99.1Q134.3,135.1 33.1,126.7" stroke="url(#g13)" stroke-width="0.6" stroke-opacity="0.11"/>
<path d="M229.6,100.1Q134.3,135.1 32.8,131.9" stroke="url(#g13)" stroke-width="1.0" stroke-opacity="0.14"/>
<path d="M229.8,100.8Q134.3,135.1 32.8,132.7" stroke="url(#g13)" stroke-width="1.2" stroke-opacity="0.12"/>
<path d="M230.2,101.8Q134.3,135.1 32.8,133.7" stroke="url(#g13)" stroke-width="1.5" stroke-opacity="0.08"/>
<path d="M230.4,102.4Q134.3,135.1 32.8,133.9" stroke="url(#g13)" stroke-width="1.1" stroke-opacity="0.10"/>
<path d="M230.8,103.5Q134.3,135.1 32.8,132.4" stroke="url(#g13)" stroke-width="1.5" stroke-opacity="0.10"/>
<path d="M230.9,103.9Q134.3,135.1 32.8,132.2" stroke="url(#g13)" stroke-width="0.6" stroke-opacity="0.09"/>
<path d="M231.2,104.8Q134.3,135.1 32.8,134.3" stroke="url(#g13)" stroke-width="1.4" stroke-opacity="0.08"/>
<path d="M231.5,105.8Q134.3,135.1 32.8,133.9" stroke="url(#g13)" stroke-width="1.3" stroke-opacity="0.08"/>
<path d="M231.8,106.9Q134.3,135.1 32.8,135.3" stroke="url(#g13)" stroke-width="1.0" stroke-opacity="0.08"/>
<path d="M232.0,107.7Q134.3,135.1 32.9,138.5" stroke="url(#g13)" stroke-width="0.7" stroke-opacity="0.08"/>
<path d="M232.2,108.3Q134.3,135.1 32.9,140.2" stroke="url(#g13)" stroke-width="1.0" stroke-opacity="0.11"/>
<path d="M36.8,106.8Q134.3,135.1 229.4,99.5" stroke="url(#g14)" stroke-width="1.4" stroke-opacity="0.08"/>
<path d="M37.0,106.2Q134.3,135.1 230.1,101.6" stroke="url(#g14)" stroke-width="1.5" stroke-opacity="0.13"/>
<path d="M37.3,105.3Q134.3,135.1 229.0,98.7" stroke="url(#g14)" stroke-width="1.4" stroke-opacity="0.11"/>
<path d="M37.3,105.1Q134.3,135.1 228.4,97.0" stroke="url(#g14)" stroke-width="0.7" stroke-opacity="0.13"/>
<path d="M37.6,104.3Q134.3,135.1 228.4,96.9" stroke="url(#g14)" stroke-width="1.1" stroke-opacity="0.08"/>
<path d="M37.9,103.4Q134.3,135.1 228.7,97.9" stroke="url(#g14)" stroke-width="1.4" stroke-opacity="0.13"/>
<path d="M38.0,103.0Q134.3,135.1 227.2,94.3" stroke="url(#g14)" stroke-width="1.4" stroke-opacity="0.12"/>
<path d="M38.3,102.3Q134.3,135.1 227.4,94.6" stroke="url(#g14)" stroke-width="0.8" stroke-opacity="0.13"/>
<path d="M38.5,101.6Q134.3,135.1 228.0,96.1" stroke="url(#g14)" stroke-width="0.9" stroke-opacity="0.09"/>
<path d="M38.7,100.9Q134.3,135.1 227.6,95.1" stroke="url(#g14)" stroke-width="1.5" stroke-opacity="0.09"/>
<path d="M39.0,100.1Q134.3,135.1 226.5,92.6" stroke="url(#g14)" stroke-width="1.5" stroke-opacity="0.12"/>
<path d="M39.2,99.6Q134.3,135.1 226.1,91.8" stroke="url(#g14)" stroke-width="0.9" stroke-opacity="0.13"/>
<path d="M39.5,98.8Q134.3,135.1 225.6,90.7" stroke="url(#g14)" stroke-width="0.7" stroke-opacity="0.08"/>
<path d="M39.8,98.0Q134.3,135.1 224.6,88.7" stroke="url(#g14)" stroke-width="1.4" stroke-opacity="0.11"/>
<path d="M40.0,97.6Q134.3,135.1 225.6,90.7" stroke="url(#g14)" stroke-width="1.0" stroke-opacity="0.11"/>
<path d="M40.1,97.3Q134.3,135.1 226.3,92.2" stroke="url(#g14)" stroke-width="0.7" stroke-opacity="0.08"/>
<path d="M40.5,96.3Q134.3,135.1 225.1,89.8" stroke="url(#g14)" stroke-width="1.4" stroke-opacity="0.12"/>
<path d="M40.9,95.5Q134.3,135.1 223.2,86.2" stroke="url(#g14)" stroke-width="0.6" stroke-opacity="0.09"/>
<path d="M41.1,94.9Q134.3,135.1 223.2,86.1" stroke="url(#g14)" stroke-width="1.1" stroke-opacity="0.12"/>
<path d="M41.2,94.7Q134.3,135.1 224.0,87.6" stroke="url(#g14)" stroke-width="1.5" stroke-opacity="0.12"/>
<path d="M41.5,93.9Q134.3,135.1 223.4,86.6" stroke="url(#g14)" stroke-width="0.9" stroke-opacity="0.14"/>
<path d="M41.9,93.1Q134.3,135.1 223.5,86.6" stroke="url(#g14)" stroke-width="0.9" stroke-opacity="0.12"/>
<path d="M42.1,92.6Q134.3,135.1 223.5,86.7" stroke="url(#g14)" stroke-width="1.0" stroke-opacity="0.13"/>
<path d="M42.5,91.9Q134.3,135.1 222.2,84.3" stroke="url(#g14)" stroke-width="1.2" stroke-opacity="0.13"/>
<path d="M42.7,91.3Q134.3,135.1 223.2,86.1" stroke="url(#g14)" stroke-width="0.6" stroke-opacity="0.13"/>
<path d="M43.1,90.6Q134.3,135.1 221.5,83.2" stroke="url(#g14)" stroke-width="1.4" stroke-opacity="0.08"/>
<path d="M43.3,90.2Q134.3,135.1 221.9,83.8" stroke="url(#g14)" stroke-width="1.4" stroke-opacity="0.10"/>
<path d="M43.8,89.2Q134.3,135.1 221.1,82.5" stroke="url(#g14)" stroke-width="0.6" stroke-opacity="0.08"/>
<path d="M43.8,89.1Q134.3,135.1 220.9,82.1" stroke="url(#g14)" stroke-width="0.9" stroke-opacity="0.09"/>
<path d="M44.2,88.3Q134.3,135.1 218.9,79.0" stroke="url(#g14)" stroke-width="1.5" stroke-opacity="0.13"/>
<path d="M44.6,87.6Q134.3,135.1 219.5,80.0" stroke="url(#g14)" stroke-width="0.9" stroke-opacity="0.11"/>
<path d="M44.8,87.2Q134.3,135.1 220.7,81.9" stroke="url(#g14)" stroke-width="1.6" stroke-opacity="0.12"/>
<path d="M45.3,86.3Q134.3,135.1 217.5,77.0" stroke="url(#g14)" stroke-width="0.7" stroke-opacity="0.09"/>
<path d="M45.4,86.1Q134.3,135.1 218.4,78.3" stroke="url(#g14)" stroke-width="1.6" stroke-opacity="0.13"/>
<path d="M46.0,85.0Q134.3,135.1 217.0,76.3" stroke="url(#g14)" stroke-width="0.8" stroke-opacity="0.07"/>
<path d="M46.1,84.8Q134.3,135.1 216.4,75.4" stroke="url(#g14)" stroke-width="1.1" stroke-opacity="0.09"/>
<path d="M46.6,83.9Q134.3,135.1 217.3,76.7" stroke="url(#g14)" stroke-width="1.2" stroke-opacity="0.09"/>
<path d="M47.0,83.3Q134.3,135.1 217.3,76.7" stroke="url(#g14)" stroke-width="1.3" stroke-opacity="0.10"/>
<path d="M47.3,82.9Q134.3,135.1 215.7,74.5" stroke="url(#g14)" stroke-width="0.6" stroke-opacity="0.10"/>
<path d="M47.7,82.2Q134.3,135.1 214.9,73.4" stroke="url(#g14)" stroke-width="1.5" stroke-opacity="0.13"/>
<path d="M48.1,81.5Q134.3,135.1 216.3,75.3" stroke="url(#g14)" stroke-width="1.1" stroke-opacity="0.08"/>
<path d="M48.3,81.2Q134.3,135.1 215.9,74.7" stroke="url(#g14)" stroke-width="1.6" stroke-opacity="0.08"/>
<path d="M48.5,80.8Q134.3,135.1 214.3,72.7" stroke="url(#g14)" stroke-width="0.9" stroke-opacity="0.11"/>
<path d="M48.9,80.2Q134.3,135.1 215.4,74.1" stroke="url(#g14)" stroke-width="0.9" stroke-opacity="0.13"/>
<path d="M49.4,79.5Q134.3,135.1 213.1,71.1" stroke="url(#g14)" stroke-width="0.8" stroke-opacity="0.14"/>
<path d="M49.9,78.7Q134.3,135.1 214.3,72.6" stroke="url(#g14)" stroke-width="0.7" stroke-opacity="0.11"/>
<path d="M50.3,78.1Q134.3,135.1 214.3,72.6" stroke="url(#g14)" stroke-width="1.5" stroke-opacity="0.08"/>
<path d="M50.6,77.7Q134.3,135.1 214.0,72.3" stroke="url(#g14)" stroke-width="1.1" stroke-opacity="0.14"/>
<path d="M50.9,77.2Q134.3,135.1 210.3,67.8" stroke="url(#g14)" stroke-width="1.5" stroke-opacity="0.09"/>
<path d="M51.4,76.5Q134.3,135.1 210.8,68.4" stroke="url(#g14)" stroke-width="1.2" stroke-opacity="0.14"/>
<path d="M52.0,75.7Q134.3,135.1 211.9,69.7" stroke="url(#g14)" stroke-width="0.9" stroke-opacity="0.13"/>
<path d="M52.0,75.7Q134.3,135.1 210.3,67.8" stroke="url(#g14)" stroke-width="1.5" stroke-opacity="0.09"/>
<path d="M52.6,74.9Q134.3,135.1 210.2,67.7" stroke="url(#g14)" stroke-width="0.8" stroke-opacity="0.12"/>
<path d="M53.1,74.2Q134.3,135.1 207.8,65.1" stroke="url(#g14)" stroke-width="1.5" stroke-opacity="0.08"/>
<path d="M53.5,73.6Q134.3,135.1 208.2,65.6" stroke="url(#g14)" stroke-width="0.7" stroke-opacity="0.08"/>
<path d="M54.1,72.9Q134.3,135.1 209.2,66.6" stroke="url(#g14)" stroke-width="1.1" stroke-opacity="0.13"/>
<path d="M54.5,72.4Q134.3,135.1 209.2,66.6" stroke="url(#g14)" stroke-width="1.1" stroke-opacity="0.09"/>
<path d="M54.7,72.1Q134.3,135.1 209.1,66.5" stroke="url(#g14)" stroke-width="1.3" stroke-opacity="0.12"/>
<path d="M55.3,71.4Q134.3,135.1 206.3,63.6" stroke="url(#g14)" stroke-width="1.2" stroke-opacity="0.13"/>
<path d="M55.4,71.2Q134.3,135.1 207.8,65.1" stroke="url(#g14)" stroke-width="0.6" stroke-opacity="0.11"/>
<path d="M56.0,70.5Q134.3,135.1 204.4,61.7" stroke="url(#g14)" stroke-width="1.5" stroke-opacity="0.10"/>
<path d="M56.3,70.1Q134.3,135.1 205.1,62.4" stroke="url(#g14)" stroke-width="1.2" stroke-opacity="0.10"/>
<path d="M56.7,69.7Q134.3,135.1 203.4,60.8" stroke="url(#g14)" stroke-width="1.3" stroke-opacity="0.08"/>
<path d="M57.2,69.0Q134.3,135.1 205.5,62.8" stroke="url(#g14)" stroke-width="1.5" stroke-opacity="0.13"/>
<path d="M57.6,68.6Q134.3,135.1 201.9,59.4" stroke="url(#g14)" stroke-width="1.4" stroke-opacity="0.11"/>
<path d="M58.2,68.0Q134.3,135.1 201.3,58.9" stroke="url(#g14)" stroke-width="1.0" stroke-opacity="0.09"/>
<path d="M58.7,67.3Q134.3,135.1 204.4,61.7" stroke="url(#g14)" stroke-width="0.8" stroke-opacity="0.08"/>
<path d="M59.3,66.8Q134.3,135.1 200.4,58.1" stroke="url(#g14)" stroke-width="0.8" stroke-opacity="0.10"/>
<path d="M59.9,66.1Q134.3,135.1 200.5,58.2" stroke="url(#g14)" stroke-width="0.9" stroke-opacity="0.10"/>
<path d="M59.9,66.0Q134.3,135.1 200.7,58.4" stroke="url(#g14)" stroke-width="1.3" stroke-opacity="0.09"/>
<path d="M60.7,65.2Q134.3,135.1 198.9,56.8" stroke="url(#g14)" stroke-width="0.7" stroke-opacity="0.11"/>
<path d="M61.0,64.9Q134.3,135.1 201.5,59.1" stroke="url(#g14)" stroke-width="0.7" stroke-opacity="0.12"/>
<path d="M65.2,60.8Q134.3,135.1 131.7,236.6" stroke="url(#g15)" stroke-width="0.7" stroke-opacity="0.15"/>
<path d="M65.4,60.6Q134.3,135.1 131.6,236.6" stroke="url(#g15)" stroke-width="1.1" stroke-opacity="0.15"/>
<path d="M65.5,60.5Q134.3,135.1 132.3,236.6" stroke="url(#g15)" stroke-width="0.8" stroke-opacity="0.13"/>
<path d="M65.7,60.3Q134.3,135.1 130.1,236.5" stroke="url(#g15)" stroke-width="1.6" stroke-opacity="0.14"/>
<path d="M65.8,60.2Q134.3,135.1 134.0,236.6" stroke="url(#g15)" stroke-width="1.2" stroke-opacity="0.16"/>
<path d="M65.9,60.1Q134.3,135.1 131.9,236.6" stroke="url(#g15)" stroke-width="1.6" stroke-opacity="0.13"/>
<path d="M66.2,59.8Q134.3,135.1 134.0,236.6" stroke="url(#g15)" stroke-width="1.3" stroke-opacity="0.17"/>
<path d="M66.3,59.8Q134.3,135.1 134.6,236.6" stroke="url(#g15)" stroke-width="1.6" stroke-opacity="0.10"/>
<path d="M66.4,59.6Q134.3,135.1 134.4,236.6" stroke="url(#g15)" stroke-width="1.3" stroke-opacity="0.15"/>
<path d="M66.7,59.4Q134.3,135.1 134.0,236.6" stroke="url(#g15)" stroke-width="0.6" stroke-opacity="0.10"/>
<path d="M66.7,59.4Q134.3,135.1 135.3,236.6" stroke="url(#g15)" stroke-width="0.6" stroke-opacity="0.14"/>
<path d="M67.0,59.1Q134.3,135.1 137.2,236.6" stroke="url(#g15)" stroke-width="1.5" stroke-opacity="0.13"/>
<path d="M67.2,58.9Q134.3,135.1 136.9,236.6" stroke="url(#g15)" stroke-width="1.2" stroke-opacity="0.14"/>
<path d="M67.3,58.9Q134.3,135.1 134.8,236.6" stroke="url(#g15)" stroke-width="0.6" stroke-opacity="0.11"/>
<path d="M67.4,58.7Q134.3,135.1 134.7,236.6" stroke="url(#g15)" stroke-width="1.1" stroke-opacity="0.09"/>
<path d="M67.6,58.6Q134.3,135.1 136.6,236.6" stroke="url(#g15)" stroke-width="1.4" stroke-opacity="0.10"/>
<path d="M67.8,58.4Q134.3,135.1 138.4,236.5" stroke="url(#g15)" stroke-width="1.1" stroke-opacity="0.13"/>
<path d="M68.0,58.3Q134.3,135.1 135.4,236.6" stroke="url(#g15)" stroke-width="1.5" stroke-opacity="0.17"/>
<path d="M68.2,58.1Q134.3,135.1 137.5,236.5" stroke="url(#g15)" stroke-width="0.7" stroke-opacity="0.09"/>
<path d="M68.4,57.9Q134.3,135.1 138.1,236.5" stroke="url(#g15)" stroke-width="1.2" stroke-opacity="0.12"/>
<path d="M68.4,57.9Q134.3,135.1 137.0,236.6" stroke="url(#g15)" stroke-width="1.1" stroke-opacity="0.09"/>
<path d="M68.6,57.7Q134.3,135.1 140.5,236.4" stroke="url(#g15)" stroke-width="0.7" stroke-opacity="0.18"/>
<path d="M68.9,57.5Q134.3,135.1 138.7,236.5" stroke="url(#g15)" stroke-width="0.6" stroke-opacity="0.13"/>
<path d="M68.9,57.5Q134.3,135.1 139.2,236.5" stroke="url(#g15)" stroke-width="1.4" stroke-opacity="0.16"/>
<path d="M69.2,57.2Q134.3,135.1 143.1,236.2" stroke="url(#g15)" stroke-width="0.6" stroke-opacity="0.10"/>
<path d="M69.4,57.1Q134.3,135.1 139.8,236.5" stroke="url(#g15)" stroke-width="1.1" stroke-opacity="0.11"/>
<path d="M69.5,56.9Q134.3,135.1 144.0,236.1" stroke="url(#g15)" stroke-width="0.9" stroke-opacity="0.09"/>
<path d="M69.7,56.8Q134.3,135.1 142.9,236.2" stroke="url(#g15)" stroke-width="1.4" stroke-opacity="0.16"/>
<path d="M69.8,56.7Q134.3,135.1 140.1,236.4" stroke="url(#g15)" stroke-width="1.4" stroke-opacity="0.17"/>
<path d="M70.1,56.5Q134.3,135.1 145.5,236.0" stroke="url(#g15)" stroke-width="1.4" stroke-opacity="0.11"/>
<path d="M70.1,56.5Q134.3,135.1 144.3,236.1" stroke="url(#g15)" stroke-width="1.6" stroke-opacity="0.10"/>
<path d="M70.3,56.3Q134.3,135.1 145.9,235.9" stroke="url(#g15)" stroke-width="1.6" stroke-opacity="0.13"/>
<path d="M70.5,56.1Q134.3,135.1 144.3,236.1" stroke="url(#g15)" stroke-width="1.4" stroke-opacity="0.12"/>
<path d="M70.7,56.0Q134.3,135.1 143.4,236.2" stroke="url(#g15)" stroke-width="1.3" stroke-opacity="0.17"/>
<path d="M70.8,55.9Q134.3,135.1 143.2,236.2" stroke="url(#g15)" stroke-width="1.3" stroke-opacity="0.14"/>
<path d="M71.0,55.7Q134.3,135.1 145.2,236.0" stroke="url(#g15)" stroke-width="0.7" stroke-opacity="0.10"/>
<path d="M71.2,55.6Q134.3,135.1 147.9,235.7" stroke="url(#g15)" stroke-width="0.6" stroke-opacity="0.15"/>
<path d="M71.4,55.4Q134.3,135.1 145.9,235.9" stroke="url(#g15)" stroke-width="0.8" stroke-opacity="0.15"/>
<path d="M71.6,55.3Q134.3,135.1 146.3,235.9" stroke="url(#g15)" stroke-width="0.8" stroke-opacity="0.14"/>
<path d="M71.7,55.2Q134.3,135.1 148.4,235.6" stroke="url(#g15)" stroke-width="0.7" stroke-opacity="0.17"/>
<path d="M71.9,55.0Q134.3,135.1 145.4,236.0" stroke="url(#g15)" stroke-width="0.8" stroke-opacity="0.11"/>
<path d="M72.1,54.9Q134.3,135.1 150.4,235.3" stroke="url(#g15)" stroke-width="0.9" stroke-opacity="0.14"/>
<path d="M72.2,54.8Q134.3,135.1 146.3,235.9" stroke="url(#g15)" stroke-width="1.2" stroke-opacity="0.15"/>
<path d="M72.4,54.6Q134.3,135.1 147.4,235.7" stroke="url(#g15)" stroke-width="1.0" stroke-opacity="0.09"/>
<path d="M72.7,54.4Q134.3,135.1 148.0,235.7" stroke="url(#g15)" stroke-width="0.7" stroke-opacity="0.10"/>
<path d="M72.7,54.4Q134.3,135.1 148.8,235.6" stroke="url(#g15)" stroke-width="0.7" stroke-opacity="0.09"/>
<path d="M72.9,54.2Q134.3,135.1 152.7,234.9" stroke="url(#g15)" stroke-width="0.9" stroke-opacity="0.12"/>
<path d="M73.1,54.1Q134.3,135.1 153.0,234.9" stroke="url(#g15)" stroke-width="0.9" stroke-opacity="0.11"/>
<path d="M73.3,54.0Q134.3,135.1 151.3,235.2" stroke="url(#g15)" stroke-width="1.0" stroke-opacity="0.12"/>
<path d="M73.4,53.9Q134.3,135.1 149.4,235.5" stroke="url(#g15)" stroke-width="1.3" stroke-opacity="0.13"/>
<path d="M73.6,53.8Q134.3,135.1 153.0,234.9" stroke="url(#g15)" stroke-width="1.5" stroke-opacity="0.13"/>
<path d="M73.8,53.6Q134.3,135.1 150.4,235.3" stroke="url(#g15)" stroke-width="1.5" stroke-opacity="0.10"/>
<path d="M74.0,53.4Q134.3,135.1 152.3,235.0" stroke="url(#g15)" stroke-width="0.7" stroke-opacity="0.12"/>
<path d="M74.2,53.3Q134.3,135.1 152.2,235.0" stroke="url(#g15)" stroke-width="1.2" stroke-opacity="0.15"/>
<path d="M74.3,53.2Q134.3,135.1 155.6,234.3" stroke="url(#g15)" stroke-width="0.6" stroke-opacity="0.17"/>
<path d="M74.6,53.0Q134.3,135.1 151.9,235.1" stroke="url(#g15)" stroke-width="0.7" stroke-opacity="0.16"/>
<path d="M74.7,53.0Q134.3,135.1 154.9,234.5" stroke="url(#g15)" stroke-width="0.8" stroke-opacity="0.17"/>
<path d="M75.0,52.7Q134.3,135.1 153.1,234.9" stroke="url(#g15)" stroke-width="1.0" stroke-opacity="0.17"/>
<path d="M75.0,52.7Q134.3,135.1 154.6,234.6" stroke="url(#g15)" stroke-width="1.3" stroke-opacity="0.11"/>
<path d="M75.2,52.5Q134.3,135.1 157.5,233.9" stroke="url(#g15)" stroke-width="1.4" stroke-opacity="0.11"/>
<path d="M75.4,52.4Q134.3,135.1 156.9,234.1" stroke="url(#g15)" stroke-width="1.2" stroke-opacity="0.15"/>
<path d="M75.6,52.3Q134.3,135.1 154.5,234.6" stroke="url(#g15)" stroke-width="1.4" stroke-opacity="0.11"/>
<path d="M75.8,52.1Q134.3,135.1 158.4,233.7" stroke="url(#g15)" stroke-width="0.8" stroke-opacity="0.10"/>
<path d="M75.9,52.1Q134.3,135.1 157.7,233.9" stroke="url(#g15)" stroke-width="1.5" stroke-opacity="0.15"/>
<path d="M76.1,51.9Q134.3,135.1 158.8,233.6" stroke="url(#g15)" stroke-width="1.2" stroke-opacity="0.14"/>
<path d="M76.3,51.8Q134.3,135.1 159.8,233.3" stroke="url(#g15)" stroke-width="1.2" stroke-opacity="0.14"/>
<path d="M76.5,51.7Q134.3,135.1 156.8,234.1" stroke="url(#g15)" stroke-width="0.8" stroke-opacity="0.14"/>
<path d="M76.7,51.5Q134.3,135.1 159.6,233.4" stroke="url(#g15)" stroke-width="1.5" stroke-opacity="0.13"/>
<path d="M76.9,51.4Q134.3,135.1 158.9,233.6" stroke="url(#g15)" stroke-width="1.4" stroke-opacity="0.18"/>
<path d="M77.1,51.2Q134.3,135.1 159.5,233.4" stroke="url(#g15)" stroke-width="1.3" stroke-opacity="0.15"/>
<path d="M77.4,51.1Q134.3,135.1 157.7,233.9" stroke="url(#g15)" stroke-width="1.4" stroke-opacity="0.11"/>
<path d="M77.5,51.0Q134.3,135.1 160.7,233.1" stroke="url(#g15)" stroke-width="0.8" stroke-opacity="0.16"/>
<path d="M50.2,78.3Q134.3,135.1 219.8,189.7" stroke="url(#g16)" stroke-width="1.1" stroke-opacity="0.16"/>
<path d="M50.4,77.9Q134.3,135.1 220.1,189.3" stroke="url(#g16)" stroke-width="1.6" stroke-opacity="0.22"/>
<path d="M50.6,77.7Q134.3,135.1 221.7,186.8" stroke="url(#g16)" stroke-width="1.3" stroke-opacity="0.16"/>
<path d="M50.8,77.4Q134.3,135.1 221.4,187.2" stroke="url(#g16)" stroke-width="1.0" stroke-opacity="0.11"/>
<path d="M50.9,77.3Q134.3,135.1 221.3,187.3" stroke="url(#g16)" stroke-width="0.9" stroke-opacity="0.12"/>
<path d="M51.1,77.0Q134.3,135.1 222.8,184.8" stroke="url(#g16)" stroke-width="0.8" stroke-opacity="0.16"/>
<path d="M51.2,76.8Q134.3,135.1 221.8,186.5" stroke="url(#g16)" stroke-width="1.1" stroke-opacity="0.15"/>
<path d="M51.3,76.6Q134.3,135.1 223.3,184.0" stroke="url(#g16)" stroke-width="1.2" stroke-opacity="0.22"/>
<path d="M51.5,76.3Q134.3,135.1 222.7,185.1" stroke="url(#g16)" stroke-width="0.9" stroke-opacity="0.19"/>
<path d="M51.8,76.0Q134.3,135.1 221.7,186.6" stroke="url(#g16)" stroke-width="0.6" stroke-opacity="0.12"/>
<path d="M51.9,75.9Q134.3,135.1 223.0,184.4" stroke="url(#g16)" stroke-width="1.0" stroke-opacity="0.15"/>
<path d="M52.2,75.4Q134.3,135.1 223.2,184.0" stroke="url(#g16)" stroke-width="1.2" stroke-opacity="0.22"/>
<path d="M52.3,75.3Q134.3,135.1 223.0,184.5" stroke="url(#g16)" stroke-width="1.4" stroke-opacity="0.15"/>
<path d="M52.4,75.2Q134.3,135.1 222.1,186.0" stroke="url(#g16)" stroke-width="1.1" stroke-opacity="0.17"/>
<path d="M52.5,74.9Q134.3,135.1 222.9,184.6" stroke="url(#g16)" stroke-width="1.0" stroke-opacity="0.18"/>
<path d="M52.8,74.7Q134.3,135.1 222.7,185.0" stroke="url(#g16)" stroke-width="1.0" stroke-opacity="0.14"/>
<path d="M53.0,74.3Q134.3,135.1 224.8,181.1" stroke="url(#g16)" stroke-width="0.9" stroke-opacity="0.16"/>
<path d="M53.2,74.0Q134.3,135.1 225.3,180.2" stroke="url(#g16)" stroke-width="0.8" stroke-opacity="0.20"/>
<path d="M53.3,74.0Q134.3,135.1 224.6,181.5" stroke="url(#g16)" stroke-width="1.4" stroke-opacity="0.19"/>
<path d="M53.6,73.6Q134.3,135.1 225.6,179.4" stroke="url(#g16)" stroke-width="1.5" stroke-opacity="0.15"/>
<path d="M53.7,73.4Q134.3,135.1 225.0,180.7" stroke="url(#g16)" stroke-width="1.5" stroke-opacity="0.16"/>
<path d="M53.8,73.3Q134.3,135.1 225.8,179.0" stroke="url(#g16)" stroke-width="1.1" stroke-opacity="0.12"/>
<path d="M54.0,73.0Q134.3,135.1 224.3,182.1" stroke="url(#g16)" stroke-width="1.2" stroke-opacity="0.20"/>
<path d="M54.2,72.8Q134.3,135.1 225.4,179.8" stroke="url(#g16)" stroke-width="1.1" stroke-opacity="0.12"/>
<path d="M54.4,72.5Q134.3,135.1 224.6,181.5" stroke="url(#g16)" stroke-width="1.3" stroke-opacity="0.17"/>
<path d="M54.6,72.2Q134.3,135.1 225.0,180.7" stroke="url(#g16)" stroke-width="1.6" stroke-opacity="0.18"/>
<path d="M54.7,72.1Q134.3,135.1 225.1,180.6" stroke="url(#g16)" stroke-width="0.8" stroke-opacity="0.14"/>
<path d="M54.9,71.9Q134.3,135.1 226.1,178.4" stroke="url(#g16)" stroke-width="1.2" stroke-opacity="0.16"/>
<path d="M55.1,71.6Q134.3,135.1 227.2,176.1" stroke="url(#g16)" stroke-width="1.3" stroke-opacity="0.17"/>
<path d="M55.3,71.4Q134.3,135.1 225.8,179.1" stroke="url(#g16)" stroke-width="1.5" stroke-opacity="0.21"/>
<path d="M55.6,71.0Q134.3,135.1 227.8,174.7" stroke="url(#g16)" stroke-width="1.0" stroke-opacity="0.16"/>
<path d="M55.7,70.9Q134.3,135.1 226.4,177.9" stroke="url(#g16)" stroke-width="1.5" stroke-opacity="0.13"/>
<path d="M55.9,70.7Q134.3,135.1 226.1,178.4" stroke="url(#g16)" stroke-width="1.5" stroke-opacity="0.16"/>
<path d="M56.0,70.5Q134.3,135.1 227.3,175.7" stroke="url(#g16)" stroke-width="1.1" stroke-opacity="0.20"/>
<path d="M56.2,70.3Q134.3,135.1 227.9,174.4" stroke="url(#g16)" stroke-width="1.6" stroke-opacity="0.11"/>
<path d="M56.5,69.9Q134.3,135.1 228.5,172.9" stroke="url(#g16)" stroke-width="1.4" stroke-opacity="0.16"/>
<path d="M56.7,69.6Q134.3,135.1 228.4,173.0" stroke="url(#g16)" stroke-width="1.5" stroke-opacity="0.14"/>
<path d="M56.7,69.6Q134.3,135.1 228.7,172.3" stroke="url(#g16)" stroke-width="0.7" stroke-opacity="0.15"/>
<path d="M57.1,69.2Q134.3,135.1 228.5,172.8" stroke="url(#g16)" stroke-width="1.3" stroke-opacity="0.11"/>
<path d="M57.2,69.1Q134.3,135.1 228.2,173.5" stroke="url(#g16)" stroke-width="0.7" stroke-opacity="0.17"/>
<path d="M57.4,68.9Q134.3,135.1 228.8,172.1" stroke="url(#g16)" stroke-width="1.4" stroke-opacity="0.19"/>
<path d="M57.5,68.7Q134.3,135.1 229.3,170.7" stroke="url(#g16)" stroke-width="0.7" stroke-opacity="0.14"/>
<path d="M57.8,68.4Q134.3,135.1 227.9,174.3" stroke="url(#g16)" stroke-width="1.6" stroke-opacity="0.21"/>
<path d="M57.9,68.3Q134.3,135.1 228.3,173.3" stroke="url(#g16)" stroke-width="1.4" stroke-opacity="0.16"/>
<path d="M58.3,67.8Q134.3,135.1 229.0,171.6" stroke="url(#g16)" stroke-width="0.7" stroke-opacity="0.13"/>
<path d="M58.3,67.8Q134.3,135.1 229.0,171.6" stroke="url(#g16)" stroke-width="1.2" stroke-opacity="0.20"/>
<path d="M58.5,67.6Q134.3,135.1 230.3,168.2" stroke="url(#g16)" stroke-width="1.6" stroke-opacity="0.14"/>
<path d="M58.7,67.3Q134.3,135.1 228.9,171.9" stroke="url(#g16)" stroke-width="0.7" stroke-opacity="0.20"/>
<path d="M59.0,67.0Q134.3,135.1 229.7,169.8" stroke="url(#g16)" stroke-width="1.2" stroke-opacity="0.11"/>
<path d="M59.2,66.8Q134.3,135.1 229.7,169.7" stroke="url(#g16)" stroke-width="1.4" stroke-opacity="0.17"/>
<path d="M59.3,66.7Q134.3,135.1 230.5,167.5" stroke="url(#g16)" stroke-width="1.3" stroke-opacity="0.12"/>
<path d="M59.5,66.5Q134.3,135.1 230.6,167.3" stroke="url(#g16)" stroke-width="1.4" stroke-opacity="0.17"/>
<path d="M59.7,66.2Q134.3,135.1 229.5,170.3" stroke="url(#g16)" stroke-width="1.2" stroke-opacity="0.14"/>
<path d="M60.0,66.0Q134.3,135.1 229.9,169.3" stroke="url(#g16)" stroke-width="1.0" stroke-opacity="0.16"/>
<path d="M60.2,65.8Q134.3,135.1 229.8,169.5" stroke="url(#g16)" stroke-width="1.2" stroke-opacity="0.13"/>
<path d="M60.4,65.5Q134.3,135.1 231.1,165.7" stroke="url(#g16)" stroke-width="1.1" stroke-opacity="0.19"/>
<path d="M60.5,65.4Q134.3,135.1 230.8,166.5" stroke="url(#g16)" stroke-width="0.9" stroke-opacity="0.18"/>
<path d="M60.8,65.1Q134.3,135.1 231.1,165.5" stroke="url(#g16)" stroke-width="1.2" stroke-opacity="0.14"/>
<path d="M60.9,65.0Q134.3,135.1 231.1,165.6" stroke="url(#g16)" stroke-width="1.1" stroke-opacity="0.13"/>
<path d="M61.2,64.6Q134.3,135.1 231.3,164.9" stroke="url(#g16)" stroke-width="1.0" stroke-opacity="0.14"/>
<path d="M61.5,64.4Q134.3,135.1 230.8,166.5" stroke="url(#g16)" stroke-width="1.5" stroke-opacity="0.14"/>
<path d="M61.5,64.4Q134.3,135.1 231.3,165.0" stroke="url(#g16)" stroke-width="0.6" stroke-opacity="0.20"/>
<path d="M61.8,64.0Q134.3,135.1 231.9,162.8" stroke="url(#g16)" stroke-width="1.0" stroke-opacity="0.19"/>
<path d="M61.9,63.9Q134.3,135.1 232.0,162.7" stroke="url(#g16)" stroke-width="1.4" stroke-opacity="0.18"/>
<path d="M62.2,63.6Q134.3,135.1 232.5,160.8" stroke="url(#g16)" stroke-width="0.8" stroke-opacity="0.14"/>
<path d="M62.3,63.5Q134.3,135.1 231.8,163.4" stroke="url(#g16)" stroke-width="1.2" stroke-opacity="0.21"/>
<path d="M62.6,63.2Q134.3,135.1 231.6,164.1" stroke="url(#g16)" stroke-width="1.1" stroke-opacity="0.17"/>
<path d="M62.8,63.1Q134.3,135.1 232.3,161.5" stroke="url(#g16)" stroke-width="1.5" stroke-opacity="0.16"/>
<path d="M62.9,62.9Q134.3,135.1 232.5,160.6" stroke="url(#g16)" stroke-width="0.8" stroke-opacity="0.18"/>
<path d="M63.3,62.6Q134.3,135.1 232.5,160.6" stroke="url(#g16)" stroke-width="1.5" stroke-opacity="0.19"/>
<path d="M63.4,62.5Q134.3,135.1 233.2,158.1" stroke="url(#g16)" stroke-width="1.3" stroke-opacity="0.18"/>
<path d="M63.7,62.2Q134.3,135.1 232.7,159.8" stroke="url(#g16)" stroke-width="0.6" stroke-opacity="0.16"/>
</g>
<g clip-path="url(#cA)" opacity="0.28"><rect x="56" y="56" width="16" height="16" fill="url(#jp)"/><rect x="72" y="64" width="24" height="16" fill="url(#jp)"/><rect x="96" y="56" width="16" height="24" fill="url(#jp)"/><rect x="64" y="88" width="32" height="16" fill="url(#jp)"/><rect x="88" y="80" width="24" height="16" fill="url(#jp)"/><rect x="48" y="104" width="24" height="8" fill="url(#jp)"/><rect x="112" y="72" width="16" height="16" fill="url(#jp)"/><rect x="80" y="104" width="16" height="16" fill="url(#jp)"/><rect x="40" y="120" width="16" height="8" fill="url(#jp)"/><rect x="104" y="40" width="16" height="8" fill="url(#jp)"/></g>
<g opacity="0.35"><rect x="0" y="96" width="24" height="16" fill="url(#jp)"/><rect x="264" y="104" width="16" height="8" fill="url(#jp)"/><rect x="256" y="120" width="8" height="8" fill="url(#jp)"/></g>
<g fill="none">
<path d="M69.1,57.3Q134.3,135.1 232.2,161.9" stroke="#7e7a66" stroke-width="1.25" stroke-opacity="0.92"/>
<path d="M53.7,73.5Q119.3,136.0 61.3,205.6" stroke="#84806a" stroke-width="1.25" stroke-opacity="0.92"/>
<path d="M137.3,33.6Q134.3,135.1 100.1,230.7" stroke="#b08a58" stroke-width="1.25" stroke-opacity="0.92"/>
<path d="M139.1,33.7Q134.3,135.1 91.4,227.1" stroke="#b48c5a" stroke-width="1.25" stroke-opacity="0.92"/>
<path d="M122.6,34.3Q134.3,135.1 120.7,235.7" stroke="#8c8462" stroke-width="1.25" stroke-opacity="0.92"/>
<path d="M136.1,33.6Q134.3,135.1 129.3,236.5" stroke="#ae8c5e" stroke-width="1.25" stroke-opacity="0.92"/>
<path d="M145.1,34.2Q134.3,135.1 225.5,179.6" stroke="#b08458" stroke-width="1.25" stroke-opacity="0.92"/>
<path d="M164.1,38.1Q134.3,135.1 155.2,234.4" stroke="#a08460" stroke-width="1.25" stroke-opacity="0.92"/>
<path d="M189.7,50.1Q134.3,135.1 46.4,185.9" stroke="#b08c5c" stroke-width="1.25" stroke-opacity="0.92"/>
<path d="M196.5,54.9Q134.3,135.1 33.0,128.2" stroke="#a88c5e" stroke-width="1.25" stroke-opacity="0.92"/>
<path d="M35.8,159.7Q134.3,135.1 175.6,227.8" stroke="#c07a58" stroke-width="1.25" stroke-opacity="0.92"/>
<path d="M34.7,154.8Q134.3,135.1 221.0,187.8" stroke="#b08a60" stroke-width="1.25" stroke-opacity="0.92"/>
<path d="M235.6,128.2Q134.3,135.1 100.1,230.7" stroke="#a48a5c" stroke-width="1.25" stroke-opacity="0.92"/>
<path d="M235.1,146.6Q134.3,135.1 89.0,225.9" stroke="#c47650" stroke-width="1.25" stroke-opacity="0.92"/>
<path d="M234.5,151.5Q134.3,135.1 91.4,227.1" stroke="#bc8058" stroke-width="1.25" stroke-opacity="0.92"/>
<path d="M144.6,236.1Q134.3,135.1 202.3,210.4" stroke="#b89468" stroke-width="1.25" stroke-opacity="0.92"/>
<path d="M150.0,235.4Q134.3,135.1 203.1,209.7" stroke="#b89468" stroke-width="1.25" stroke-opacity="0.92"/>
</g>
<g fill="none">
<path d="M425.7,34.2Q416.1,135.2 407.7,34.1" stroke="#fbdce8" stroke-width="6" stroke-opacity="0.3"/>
<path d="M438.1,36.2Q416.1,135.2 326.1,88.4" stroke="#fbdce8" stroke-width="6" stroke-opacity="0.3"/>
<path d="M441.0,36.9Q416.1,135.2 321.4,98.9" stroke="#fbdce8" stroke-width="6" stroke-opacity="0.3"/>
<path d="M466.1,46.9Q416.1,135.2 318.1,109.0" stroke="#fbdce8" stroke-width="6" stroke-opacity="0.3"/>
<path d="M477.2,54.2Q416.1,135.2 315.2,124.5" stroke="#fbdce8" stroke-width="6" stroke-opacity="0.3"/>
<path d="M509.9,96.2Q416.1,135.2 382.6,39.5" stroke="#fbdce8" stroke-width="6" stroke-opacity="0.3"/>
<path d="M514.2,109.0Q416.1,135.2 374.9,42.5" stroke="#fbdce8" stroke-width="6" stroke-opacity="0.3"/>
<path d="M516.4,119.5Q416.1,135.2 371.0,44.3" stroke="#fbdce8" stroke-width="6" stroke-opacity="0.3"/>
<path d="M517.6,133.7Q416.1,135.2 317.0,113.6" stroke="#fbdce8" stroke-width="6" stroke-opacity="0.3"/>
<path d="M517.6,136.8Q416.1,135.2 389.4,37.3" stroke="#fbdce8" stroke-width="6" stroke-opacity="0.3"/>
<path d="M515.6,155.5Q416.1,135.2 353.7,55.3" stroke="#fbdce8" stroke-width="6" stroke-opacity="0.3"/>
<path d="M514.5,160.1Q416.1,135.2 342.8,65.1" stroke="#fbdce8" stroke-width="6" stroke-opacity="0.3"/>
<path d="M500.0,192.4Q416.1,135.2 342.8,65.1" stroke="#fbdce8" stroke-width="6" stroke-opacity="0.3"/>
<path d="M495.5,198.6Q416.1,135.2 353.7,55.3" stroke="#fbdce8" stroke-width="6" stroke-opacity="0.3"/>
<path d="M486.5,208.4Q416.1,135.2 342.8,65.1" stroke="#fbdce8" stroke-width="6" stroke-opacity="0.3"/>
<path d="M477.2,216.3Q416.1,135.2 353.7,55.3" stroke="#fbdce8" stroke-width="6" stroke-opacity="0.3"/>
<path d="M449.0,231.3Q416.1,135.2 371.0,44.3" stroke="#fbdce8" stroke-width="6" stroke-opacity="0.3"/>
<path d="M466.9,223.2Q416.1,135.2 342.8,65.1" stroke="#fbdce8" stroke-width="6" stroke-opacity="0.3"/>
<path d="M508.1,178.1Q416.1,135.2 353.7,55.3" stroke="#fbdce8" stroke-width="6" stroke-opacity="0.3"/>
<path d="M408.5,236.5Q416.1,135.2 389.4,37.3" stroke="#fbdce8" stroke-width="6" stroke-opacity="0.3"/>
<path d="M391.4,233.7Q416.1,135.2 382.6,39.5" stroke="#fbdce8" stroke-width="6" stroke-opacity="0.3"/>
<path d="M376.7,228.8Q416.1,135.2 374.9,42.5" stroke="#fbdce8" stroke-width="6" stroke-opacity="0.3"/>
<path d="M398.5,235.2Q416.1,135.2 401.0,34.9" stroke="#fbdce8" stroke-width="6" stroke-opacity="0.3"/>
<path d="M433.8,235.2Q416.1,135.2 407.7,34.1" stroke="#fbdce8" stroke-width="6" stroke-opacity="0.3"/>
<path d="M349.0,211.4Q416.1,135.2 401.0,34.9" stroke="#fbdce8" stroke-width="6" stroke-opacity="0.3"/>
<path d="M333.0,193.5Q416.1,135.2 371.0,44.3" stroke="#fbdce8" stroke-width="6" stroke-opacity="0.3"/>
<path d="M331.1,190.7Q416.1,135.2 374.9,42.5" stroke="#fbdce8" stroke-width="6" stroke-opacity="0.3"/>
<path d="M329.3,187.8Q416.1,135.2 382.6,39.5" stroke="#fbdce8" stroke-width="6" stroke-opacity="0.3"/>
<path d="M327.5,184.8Q416.1,135.2 389.4,37.3" stroke="#fbdce8" stroke-width="6" stroke-opacity="0.3"/>
<path d="M321.0,170.5Q416.1,135.2 321.4,98.9" stroke="#fbdce8" stroke-width="6" stroke-opacity="0.3"/>
<path d="M317.7,159.8Q416.1,135.2 326.1,88.4" stroke="#fbdce8" stroke-width="6" stroke-opacity="0.3"/>
<path d="M504.1,84.5Q416.1,135.2 401.0,34.9" stroke="#fbdce8" stroke-width="6" stroke-opacity="0.3"/>
<path d="M425.7,34.2Q416.1,135.2 407.7,34.1" stroke="#d4866a" stroke-width="0.95" stroke-opacity="0.9"/>
<path d="M438.1,36.2Q416.1,135.2 326.1,88.4" stroke="#c49868" stroke-width="0.95" stroke-opacity="0.9"/>
<path d="M441.0,36.9Q416.1,135.2 321.4,98.9" stroke="#d4866a" stroke-width="0.95" stroke-opacity="0.9"/>
<path d="M466.1,46.9Q416.1,135.2 318.1,109.0" stroke="#c49868" stroke-width="0.95" stroke-opacity="0.9"/>
<path d="M477.2,54.2Q416.1,135.2 315.2,124.5" stroke="#d4866a" stroke-width="0.95" stroke-opacity="0.9"/>
<path d="M509.9,96.2Q416.1,135.2 382.6,39.5" stroke="#c49868" stroke-width="0.95" stroke-opacity="0.9"/>
<path d="M514.2,109.0Q416.1,135.2 374.9,42.5" stroke="#d4866a" stroke-width="0.95" stroke-opacity="0.9"/>
<path d="M516.4,119.5Q416.1,135.2 371.0,44.3" stroke="#c49868" stroke-width="0.95" stroke-opacity="0.9"/>
<path d="M517.6,133.7Q416.1,135.2 317.0,113.6" stroke="#d4866a" stroke-width="0.95" stroke-opacity="0.9"/>
<path d="M517.6,136.8Q416.1,135.2 389.4,37.3" stroke="#c49868" stroke-width="0.95" stroke-opacity="0.9"/>
<path d="M515.6,155.5Q416.1,135.2 353.7,55.3" stroke="#d4866a" stroke-width="0.95" stroke-opacity="0.9"/>
<path d="M514.5,160.1Q416.1,135.2 342.8,65.1" stroke="#c49868" stroke-width="0.95" stroke-opacity="0.9"/>
<path d="M500.0,192.4Q416.1,135.2 342.8,65.1" stroke="#d4866a" stroke-width="0.95" stroke-opacity="0.9"/>
<path d="M495.5,198.6Q416.1,135.2 353.7,55.3" stroke="#c49868" stroke-width="0.95" stroke-opacity="0.9"/>
<path d="M486.5,208.4Q416.1,135.2 342.8,65.1" stroke="#d4866a" stroke-width="0.95" stroke-opacity="0.9"/>
<path d="M477.2,216.3Q416.1,135.2 353.7,55.3" stroke="#c49868" stroke-width="0.95" stroke-opacity="0.9"/>
<path d="M449.0,231.3Q416.1,135.2 371.0,44.3" stroke="#d4866a" stroke-width="0.95" stroke-opacity="0.9"/>
<path d="M466.9,223.2Q416.1,135.2 342.8,65.1" stroke="#c49868" stroke-width="0.95" stroke-opacity="0.9"/>
<path d="M508.1,178.1Q416.1,135.2 353.7,55.3" stroke="#d4866a" stroke-width="0.95" stroke-opacity="0.9"/>
<path d="M408.5,236.5Q416.1,135.2 389.4,37.3" stroke="#c49868" stroke-width="0.95" stroke-opacity="0.9"/>
<path d="M391.4,233.7Q416.1,135.2 382.6,39.5" stroke="#d4866a" stroke-width="0.95" stroke-opacity="0.9"/>
<path d="M376.7,228.8Q416.1,135.2 374.9,42.5" stroke="#c49868" stroke-width="0.95" stroke-opacity="0.9"/>
<path d="M398.5,235.2Q416.1,135.2 401.0,34.9" stroke="#d4866a" stroke-width="0.95" stroke-opacity="0.9"/>
<path d="M433.8,235.2Q416.1,135.2 407.7,34.1" stroke="#c49868" stroke-width="0.95" stroke-opacity="0.9"/>
<path d="M349.0,211.4Q416.1,135.2 401.0,34.9" stroke="#d4866a" stroke-width="0.95" stroke-opacity="0.9"/>
<path d="M333.0,193.5Q416.1,135.2 371.0,44.3" stroke="#c49868" stroke-width="0.95" stroke-opacity="0.9"/>
<path d="M331.1,190.7Q416.1,135.2 374.9,42.5" stroke="#d4866a" stroke-width="0.95" stroke-opacity="0.9"/>
<path d="M329.3,187.8Q416.1,135.2 382.6,39.5" stroke="#c49868" stroke-width="0.95" stroke-opacity="0.9"/>
<path d="M327.5,184.8Q416.1,135.2 389.4,37.3" stroke="#d4866a" stroke-width="0.95" stroke-opacity="0.9"/>
<path d="M321.0,170.5Q416.1,135.2 321.4,98.9" stroke="#c49868" stroke-width="0.95" stroke-opacity="0.9"/>
<path d="M317.7,159.8Q416.1,135.2 326.1,88.4" stroke="#d4866a" stroke-width="0.95" stroke-opacity="0.9"/>
<path d="M504.1,84.5Q416.1,135.2 401.0,34.9" stroke="#c49868" stroke-width="0.95" stroke-opacity="0.9"/>
</g>
<path d="M136.1,33.6L136.3,22.1" stroke="#6e6e6e" stroke-width="1.4" stroke-dasharray="1.6,0.5" stroke-opacity="0.7"/>
<path d="M137.3,33.6L137.7,22.1" stroke="#6e6e6e" stroke-width="1.4" stroke-dasharray="1.6,0.5" stroke-opacity="0.7"/>
<path d="M139.1,33.7L139.6,22.2" stroke="#6e6e6e" stroke-width="1.4" stroke-dasharray="1.6,0.5" stroke-opacity="0.7"/>
<path d="M145.1,34.2L146.3,22.7" stroke="#6e6e6e" stroke-width="1.4" stroke-dasharray="1.6,0.5" stroke-opacity="0.7"/>
<path d="M164.1,38.1L167.5,27.1" stroke="#6e6e6e" stroke-width="1.4" stroke-dasharray="1.6,0.5" stroke-opacity="0.7"/>
<path d="M189.7,50.1L196.0,40.4" stroke="#6e6e6e" stroke-width="1.4" stroke-dasharray="1.6,0.5" stroke-opacity="0.7"/>
<path d="M196.5,54.9L203.6,45.8" stroke="#6e6e6e" stroke-width="1.4" stroke-dasharray="1.6,0.5" stroke-opacity="0.7"/>
<path d="M235.6,128.2L247.0,127.4" stroke="#6e6e6e" stroke-width="1.4" stroke-dasharray="1.6,0.5" stroke-opacity="0.7"/>
<path d="M235.1,146.6L246.6,147.9" stroke="#6e6e6e" stroke-width="1.4" stroke-dasharray="1.6,0.5" stroke-opacity="0.7"/>
<path d="M234.5,151.5L245.8,153.4" stroke="#6e6e6e" stroke-width="1.4" stroke-dasharray="1.6,0.5" stroke-opacity="0.7"/>
<path d="M232.2,161.9L243.3,164.9" stroke="#6e6e6e" stroke-width="1.4" stroke-dasharray="1.6,0.5" stroke-opacity="0.7"/>
<path d="M225.5,179.6L235.9,184.6" stroke="#6e6e6e" stroke-width="1.4" stroke-dasharray="1.6,0.5" stroke-opacity="0.7"/>
<path d="M221.0,187.8L230.9,193.8" stroke="#6e6e6e" stroke-width="1.4" stroke-dasharray="1.6,0.5" stroke-opacity="0.7"/>
<path d="M203.1,209.7L210.9,218.1" stroke="#6e6e6e" stroke-width="1.4" stroke-dasharray="1.6,0.5" stroke-opacity="0.7"/>
<path d="M202.3,210.4L210.1,218.9" stroke="#6e6e6e" stroke-width="1.4" stroke-dasharray="1.6,0.5" stroke-opacity="0.7"/>
<path d="M175.6,227.8L180.3,238.3" stroke="#6e6e6e" stroke-width="1.4" stroke-dasharray="1.6,0.5" stroke-opacity="0.7"/>
<path d="M155.2,234.4L157.6,245.7" stroke="#6e6e6e" stroke-width="1.4" stroke-dasharray="1.6,0.5" stroke-opacity="0.7"/>
<path d="M150.0,235.4L151.8,246.7" stroke="#6e6e6e" stroke-width="1.4" stroke-dasharray="1.6,0.5" stroke-opacity="0.7"/>
<path d="M144.6,236.1L145.7,247.5" stroke="#6e6e6e" stroke-width="1.4" stroke-dasharray="1.6,0.5" stroke-opacity="0.7"/>
<path d="M129.3,236.5L128.8,248.0" stroke="#6e6e6e" stroke-width="1.4" stroke-dasharray="1.6,0.5" stroke-opacity="0.7"/>
<path d="M120.7,235.7L119.2,247.1" stroke="#6e6e6e" stroke-width="1.4" stroke-dasharray="1.6,0.5" stroke-opacity="0.7"/>
<path d="M100.1,230.7L96.2,241.5" stroke="#6e6e6e" stroke-width="1.4" stroke-dasharray="1.6,0.5" stroke-opacity="0.7"/>
<path d="M91.4,227.1L86.5,237.5" stroke="#6e6e6e" stroke-width="1.4" stroke-dasharray="1.6,0.5" stroke-opacity="0.7"/>
<path d="M89.0,225.9L83.9,236.2" stroke="#6e6e6e" stroke-width="1.4" stroke-dasharray="1.6,0.5" stroke-opacity="0.7"/>
<path d="M61.3,205.6L53.0,213.6" stroke="#6e6e6e" stroke-width="1.4" stroke-dasharray="1.6,0.5" stroke-opacity="0.7"/>
<path d="M46.4,185.9L36.4,191.6" stroke="#6e6e6e" stroke-width="1.4" stroke-dasharray="1.6,0.5" stroke-opacity="0.7"/>
<path d="M35.8,159.7L24.7,162.4" stroke="#6e6e6e" stroke-width="1.4" stroke-dasharray="1.6,0.5" stroke-opacity="0.7"/>
<path d="M34.7,154.8L23.5,157.0" stroke="#6e6e6e" stroke-width="1.4" stroke-dasharray="1.6,0.5" stroke-opacity="0.7"/>
<path d="M33.0,128.2L21.6,127.4" stroke="#6e6e6e" stroke-width="1.4" stroke-dasharray="1.6,0.5" stroke-opacity="0.7"/>
<path d="M53.7,73.5L44.5,66.5" stroke="#6e6e6e" stroke-width="1.4" stroke-dasharray="1.6,0.5" stroke-opacity="0.7"/>
<path d="M69.1,57.3L61.7,48.5" stroke="#6e6e6e" stroke-width="1.4" stroke-dasharray="1.6,0.5" stroke-opacity="0.7"/>
<path d="M122.6,34.3L121.3,22.8" stroke="#6e6e6e" stroke-width="1.4" stroke-dasharray="1.6,0.5" stroke-opacity="0.7"/>
<path d="M425.7,34.2L426.8,22.8" stroke="#b0b0b0" stroke-width="1.2" stroke-opacity="0.8"/>
<path d="M438.1,36.2L440.6,24.9" stroke="#b0b0b0" stroke-width="1.2" stroke-opacity="0.8"/>
<path d="M441.0,36.9L443.9,25.7" stroke="#b0b0b0" stroke-width="1.2" stroke-opacity="0.8"/>
<path d="M466.1,46.9L471.8,36.9" stroke="#b0b0b0" stroke-width="1.2" stroke-opacity="0.8"/>
<path d="M477.2,54.2L484.2,45.0" stroke="#b0b0b0" stroke-width="1.2" stroke-opacity="0.8"/>
<path d="M504.1,84.5L514.0,78.7" stroke="#b0b0b0" stroke-width="1.2" stroke-opacity="0.8"/>
<path d="M509.9,96.2L520.5,91.8" stroke="#b0b0b0" stroke-width="1.2" stroke-opacity="0.8"/>
<path d="M514.2,109.0L525.3,106.0" stroke="#b0b0b0" stroke-width="1.2" stroke-opacity="0.8"/>
<path d="M516.4,119.5L527.8,117.8" stroke="#b0b0b0" stroke-width="1.2" stroke-opacity="0.8"/>
<path d="M517.6,133.7L529.1,133.5" stroke="#b0b0b0" stroke-width="1.2" stroke-opacity="0.8"/>
<path d="M517.6,136.8L529.1,137.0" stroke="#b0b0b0" stroke-width="1.2" stroke-opacity="0.8"/>
<path d="M515.6,155.5L526.9,157.8" stroke="#b0b0b0" stroke-width="1.2" stroke-opacity="0.8"/>
<path d="M514.5,160.1L525.7,163.0" stroke="#b0b0b0" stroke-width="1.2" stroke-opacity="0.8"/>
<path d="M508.1,178.1L518.6,183.0" stroke="#b0b0b0" stroke-width="1.2" stroke-opacity="0.8"/>
<path d="M500.0,192.4L509.5,198.9" stroke="#b0b0b0" stroke-width="1.2" stroke-opacity="0.8"/>
<path d="M495.5,198.6L504.5,205.7" stroke="#b0b0b0" stroke-width="1.2" stroke-opacity="0.8"/>
<path d="M486.5,208.4L494.5,216.7" stroke="#b0b0b0" stroke-width="1.2" stroke-opacity="0.8"/>
<path d="M477.2,216.3L484.2,225.5" stroke="#b0b0b0" stroke-width="1.2" stroke-opacity="0.8"/>
<path d="M466.9,223.2L472.6,233.1" stroke="#b0b0b0" stroke-width="1.2" stroke-opacity="0.8"/>
<path d="M449.0,231.3L452.8,242.2" stroke="#b0b0b0" stroke-width="1.2" stroke-opacity="0.8"/>
<path d="M433.8,235.2L435.8,246.5" stroke="#b0b0b0" stroke-width="1.2" stroke-opacity="0.8"/>
<path d="M408.5,236.5L407.7,247.9" stroke="#b0b0b0" stroke-width="1.2" stroke-opacity="0.8"/>
<path d="M398.5,235.2L396.5,246.5" stroke="#b0b0b0" stroke-width="1.2" stroke-opacity="0.8"/>
<path d="M391.4,233.7L388.6,244.8" stroke="#b0b0b0" stroke-width="1.2" stroke-opacity="0.8"/>
<path d="M376.7,228.8L372.2,239.3" stroke="#b0b0b0" stroke-width="1.2" stroke-opacity="0.8"/>
<path d="M349.0,211.4L341.4,220.0" stroke="#b0b0b0" stroke-width="1.2" stroke-opacity="0.8"/>
<path d="M333.0,193.5L323.6,200.1" stroke="#b0b0b0" stroke-width="1.2" stroke-opacity="0.8"/>
<path d="M331.1,190.7L321.5,197.0" stroke="#b0b0b0" stroke-width="1.2" stroke-opacity="0.8"/>
<path d="M329.3,187.8L319.5,193.8" stroke="#b0b0b0" stroke-width="1.2" stroke-opacity="0.8"/>
<path d="M327.5,184.8L317.5,190.4" stroke="#b0b0b0" stroke-width="1.2" stroke-opacity="0.8"/>
<path d="M321.0,170.5L310.2,174.5" stroke="#b0b0b0" stroke-width="1.2" stroke-opacity="0.8"/>
<path d="M317.7,159.8L306.5,162.6" stroke="#b0b0b0" stroke-width="1.2" stroke-opacity="0.8"/>
<path d="M315.2,124.5L303.8,123.2" stroke="#b0b0b0" stroke-width="1.2" stroke-opacity="0.8"/>
<path d="M317.0,113.6L305.7,111.2" stroke="#b0b0b0" stroke-width="1.2" stroke-opacity="0.8"/>
<path d="M318.1,109.0L307.0,106.0" stroke="#b0b0b0" stroke-width="1.2" stroke-opacity="0.8"/>
<path d="M321.4,98.9L310.7,94.8" stroke="#b0b0b0" stroke-width="1.2" stroke-opacity="0.8"/>
<path d="M326.1,88.4L315.9,83.1" stroke="#b0b0b0" stroke-width="1.2" stroke-opacity="0.8"/>
<path d="M342.8,65.1L334.5,57.2" stroke="#b0b0b0" stroke-width="1.2" stroke-opacity="0.8"/>
<path d="M353.7,55.3L346.6,46.2" stroke="#b0b0b0" stroke-width="1.2" stroke-opacity="0.8"/>
<path d="M371.0,44.3L365.9,34.0" stroke="#b0b0b0" stroke-width="1.2" stroke-opacity="0.8"/>
<path d="M374.9,42.5L370.2,32.0" stroke="#b0b0b0" stroke-width="1.2" stroke-opacity="0.8"/>
<path d="M382.6,39.5L378.8,28.6" stroke="#b0b0b0" stroke-width="1.2" stroke-opacity="0.8"/>
<path d="M389.4,37.3L386.3,26.3" stroke="#b0b0b0" stroke-width="1.2" stroke-opacity="0.8"/>
<path d="M401.0,34.9L399.3,23.5" stroke="#b0b0b0" stroke-width="1.2" stroke-opacity="0.8"/>
<path d="M407.7,34.1L406.7,22.6" stroke="#b0b0b0" stroke-width="1.2" stroke-opacity="0.8"/>
<text x="171.1" y="10.9" transform="rotate(16.5 171.1 10.9)" text-anchor="middle" dominant-baseline="central" font-size="5.6" fill="#606060">C1</text>
<path d="M135.5,13.9L135.5,11.7" stroke="#999" stroke-width="1"/>
<path d="M168.7,18.9L169.3,16.8" stroke="#999" stroke-width="1"/>
<text x="240.7" y="61.3" transform="rotate(55.2 240.7 61.3)" text-anchor="middle" dominant-baseline="central" font-size="5.6" fill="#606060">C2</text>
<path d="M204.1,36.0L205.3,34.2" stroke="#999" stroke-width="1"/>
<path d="M233.9,66.0L235.7,64.8" stroke="#999" stroke-width="1"/>
<text x="260.5" y="164.3" transform="rotate(-77.0 260.5 164.3)" text-anchor="middle" dominant-baseline="central" font-size="5.6" fill="#606060">C3</text>
<path d="M252.9,110.0L255.0,109.5" stroke="#999" stroke-width="1"/>
<path d="M252.4,162.4L254.5,162.9" stroke="#999" stroke-width="1"/>
<text x="197.4" y="248.2" transform="rotate(-29.2 197.4 248.2)" text-anchor="middle" dominant-baseline="central" font-size="5.6" fill="#606060">C4</text>
<path d="M226.2,214.1L227.9,215.6" stroke="#999" stroke-width="1"/>
<path d="M193.4,240.9L194.5,242.8" stroke="#999" stroke-width="1"/>
<text x="109.8" y="262.3" transform="rotate(10.9 109.8 262.3)" text-anchor="middle" dominant-baseline="central" font-size="5.6" fill="#606060">C5</text>
<path d="M147.7,255.6L147.9,257.7" stroke="#999" stroke-width="1"/>
<path d="M111.4,254.1L111.0,256.3" stroke="#999" stroke-width="1"/>
<text x="41.4" y="225.3" transform="rotate(45.8 41.4 225.3)" text-anchor="middle" dominant-baseline="central" font-size="5.6" fill="#606060">C6</text>
<path d="M72.1,239.2L71.0,241.0" stroke="#999" stroke-width="1"/>
<path d="M47.3,219.5L45.8,221.1" stroke="#999" stroke-width="1"/>
<text x="6.1" y="153.3" transform="rotate(81.9 6.1 153.3)" text-anchor="middle" dominant-baseline="central" font-size="5.6" fill="#606060">C7</text>
<path d="M25.8,189.1L23.8,190.1" stroke="#999" stroke-width="1"/>
<path d="M14.3,152.2L12.1,152.5" stroke="#999" stroke-width="1"/>
<text x="20.9" y="72.5" transform="rotate(298.9 20.9 72.5)" text-anchor="middle" dominant-baseline="central" font-size="5.6" fill="#606060">C8</text>
<path d="M16.2,107.9L14.0,107.4" stroke="#999" stroke-width="1"/>
<path d="M28.2,76.5L26.3,75.5" stroke="#999" stroke-width="1"/>
<text x="85.2" y="15.3" transform="rotate(337.7 85.2 15.3)" text-anchor="middle" dominant-baseline="central" font-size="5.6" fill="#606060">C9</text>
<path d="M52.5,45.7L51.0,44.0" stroke="#999" stroke-width="1"/>
<path d="M88.3,23.0L87.5,20.9" stroke="#999" stroke-width="1"/>
<text x="445.0" y="9.0" transform="rotate(12.9 445.0 9.0)" text-anchor="middle" dominant-baseline="central" font-size="5.6" fill="#606060">C1</text>
<path d="M417.2,14.1L417.2,11.9" stroke="#999" stroke-width="1"/>
<path d="M443.2,17.1L443.6,15.0" stroke="#999" stroke-width="1"/>
<text x="504.7" y="40.7" transform="rotate(43.1 504.7 40.7)" text-anchor="middle" dominant-baseline="central" font-size="5.6" fill="#606060">C2</text>
<path d="M473.0,28.2L474.0,26.2" stroke="#999" stroke-width="1"/>
<path d="M499.0,46.8L500.5,45.2" stroke="#999" stroke-width="1"/>
<text x="543.8" y="113.4" transform="rotate(80.3 543.8 113.4)" text-anchor="middle" dominant-baseline="central" font-size="5.6" fill="#606060">C3</text>
<path d="M522.2,76.5L524.1,75.4" stroke="#999" stroke-width="1"/>
<path d="M535.6,114.8L537.8,114.4" stroke="#999" stroke-width="1"/>
<text x="531.3" y="194.5" transform="rotate(-62.8 531.3 194.5)" text-anchor="middle" dominant-baseline="central" font-size="5.6" fill="#606060">C4</text>
<path d="M534.6,161.0L536.7,161.4" stroke="#999" stroke-width="1"/>
<path d="M523.9,190.7L525.9,191.8" stroke="#999" stroke-width="1"/>
<text x="483.2" y="246.0" transform="rotate(-31.2 483.2 246.0)" text-anchor="middle" dominant-baseline="central" font-size="5.6" fill="#606060">C5</text>
<path d="M501.9,220.9L503.5,222.4" stroke="#999" stroke-width="1"/>
<path d="M478.9,238.9L480.1,240.8" stroke="#999" stroke-width="1"/>
<text x="424.2" y="264.5" transform="rotate(-3.6 424.2 264.5)" text-anchor="middle" dominant-baseline="central" font-size="5.6" fill="#606060">C6</text>
<path d="M446.8,252.5L447.4,254.6" stroke="#999" stroke-width="1"/>
<path d="M423.7,256.2L423.8,258.4" stroke="#999" stroke-width="1"/>
<text x="363.4" y="253.5" transform="rotate(24.1 363.4 253.5)" text-anchor="middle" dominant-baseline="central" font-size="5.6" fill="#606060">C7</text>
<path d="M394.6,254.5L394.2,256.7" stroke="#999" stroke-width="1"/>
<path d="M366.8,245.9L365.9,247.9" stroke="#999" stroke-width="1"/>
<text x="313.3" y="214.0" transform="rotate(52.6 313.3 214.0)" text-anchor="middle" dominant-baseline="central" font-size="5.6" fill="#606060">C8</text>
<path d="M337.4,227.3L335.9,229.0" stroke="#999" stroke-width="1"/>
<path d="M319.9,208.9L318.2,210.3" stroke="#999" stroke-width="1"/>
<text x="287.6" y="151.3" transform="rotate(82.9 287.6 151.3)" text-anchor="middle" dominant-baseline="central" font-size="5.6" fill="#606060">C9</text>
<path d="M304.4,182.1L302.4,183.0" stroke="#999" stroke-width="1"/>
<path d="M295.9,150.2L293.7,150.5" stroke="#999" stroke-width="1"/>
<text x="293.7" y="93.2" transform="rotate(288.9 293.7 93.2)" text-anchor="middle" dominant-baseline="central" font-size="5.6" fill="#606060">Chr5</text>
<path d="M297.3,111.6L295.1,111.2" stroke="#999" stroke-width="1"/>
<path d="M301.5,95.9L299.4,95.2" stroke="#999" stroke-width="1"/>
<text x="309.1" y="62.4" transform="rotate(304.2 309.1 62.4)" text-anchor="middle" dominant-baseline="central" font-size="5.6" fill="#606060">Chr4</text>
<path d="M310.5,75.9L308.5,74.8" stroke="#999" stroke-width="1"/>
<path d="M315.9,67.1L314.1,65.8" stroke="#999" stroke-width="1"/>
<text x="330.1" y="38.5" transform="rotate(318.4 330.1 38.5)" text-anchor="middle" dominant-baseline="central" font-size="5.6" fill="#606060">Chr3</text>
<path d="M325.9,54.4L324.2,52.9" stroke="#999" stroke-width="1"/>
<path d="M335.6,44.7L334.1,43.0" stroke="#999" stroke-width="1"/>
<text x="357.3" y="19.9" transform="rotate(332.9 357.3 19.9)" text-anchor="middle" dominant-baseline="central" font-size="5.6" fill="#606060">Chr2</text>
<path d="M351.1,33.0L349.9,31.1" stroke="#999" stroke-width="1"/>
<path d="M361.0,27.3L360.0,25.3" stroke="#999" stroke-width="1"/>
<text x="392.4" y="7.9" transform="rotate(349.4 392.4 7.9)" text-anchor="middle" dominant-baseline="central" font-size="5.6" fill="#606060">Chr1</text>
<path d="M376.8,20.6L376.1,18.5" stroke="#999" stroke-width="1"/>
<path d="M393.9,16.1L393.5,13.9" stroke="#999" stroke-width="1"/>
<path d="M224.06,210.69A117.35,117.35 0 0 1 151.54,251.18" stroke="#fbd2ea" stroke-width="11" stroke-opacity="0.75" fill="none"/>
<path d="M148.50,251.59A117.35,117.35 0 0 1 77.86,237.98" stroke="#fbd2ea" stroke-width="11" stroke-opacity="0.75" fill="none"/>
<path d="M75.18,236.47A117.35,117.35 0 0 1 31.22,191.18" stroke="#fbd2ea" stroke-width="11" stroke-opacity="0.75" fill="none"/>
<path d="M531.08,158.95A117.35,117.35 0 0 1 502.18,215.06" stroke="#fbd2ea" stroke-width="11" stroke-opacity="0.75" fill="none"/>
<path d="M500.06,217.28A117.35,117.35 0 0 1 449.97,247.62" stroke="#fbd2ea" stroke-width="11" stroke-opacity="0.75" fill="none"/>
<path d="M447.02,248.47A117.35,117.35 0 0 1 399.51,251.41" stroke="#fbd2ea" stroke-width="11" stroke-opacity="0.75" fill="none"/>
<path d="M327.92,57.88A117.35,117.35 0 0 1 349.60,38.60" stroke="#aaf2e2" stroke-width="10" stroke-opacity="0.8" fill="none"/>
<path d="M134.20,17.75A117.35,117.35 0 0 1 198.30,36.74" stroke="#7a6612" stroke-width="4.3" fill="none"/>
<path d="M200.85,38.45A117.35,117.35 0 0 1 248.14,106.61" stroke="#6b7416" stroke-width="4.3" fill="none"/>
<path d="M248.85,109.60A117.35,117.35 0 0 1 226.01,208.31" stroke="#9aa02c" stroke-width="4.3" fill="none"/>
<path d="M224.06,210.69A117.35,117.35 0 0 1 151.54,251.18" stroke="#84260f" stroke-width="4.3" fill="none"/>
<path d="M148.50,251.59A117.35,117.35 0 0 1 77.86,237.98" stroke="#a2280f" stroke-width="4.3" fill="none"/>
<path d="M75.18,236.47A117.35,117.35 0 0 1 31.22,191.18" stroke="#a42cc0" stroke-width="4.3" fill="none"/>
<path d="M29.79,188.47A117.35,117.35 0 0 1 19.05,113.01" stroke="#e6cfc6" stroke-width="4.3" fill="none"/>
<path d="M19.67,110.00A117.35,117.35 0 0 1 51.98,51.47" stroke="#cc8e1a" stroke-width="4.3" fill="none"/>
<path d="M54.19,49.35A117.35,117.35 0 0 1 131.13,17.79" stroke="#d4d024" stroke-width="4.3" fill="none"/>
<path d="M415.95,17.90A117.35,117.35 0 0 1 467.32,29.64" stroke="#7c6612" stroke-width="4.3" fill="none"/>
<path d="M470.06,31.02A117.35,117.35 0 0 1 516.63,74.63" stroke="#6b7416" stroke-width="4.3" fill="none"/>
<path d="M518.19,77.29A117.35,117.35 0 0 1 531.66,155.93" stroke="#98a02a" stroke-width="4.3" fill="none"/>
<path d="M531.08,158.95A117.35,117.35 0 0 1 502.18,215.06" stroke="#7e2410" stroke-width="4.3" fill="none"/>
<path d="M500.06,217.28A117.35,117.35 0 0 1 449.97,247.62" stroke="#9c2812" stroke-width="4.3" fill="none"/>
<path d="M447.02,248.47A117.35,117.35 0 0 1 399.51,251.41" stroke="#a424c4" stroke-width="4.3" fill="none"/>
<path d="M396.48,250.94A117.35,117.35 0 0 1 343.18,227.15" stroke="#e4d2ca" stroke-width="4.3" fill="none"/>
<path d="M340.80,225.21A117.35,117.35 0 0 1 309.67,184.57" stroke="#c0a41e" stroke-width="4.3" fill="none"/>
<path d="M308.41,181.76A117.35,117.35 0 0 1 300.29,116.59" stroke="#d8d41c" stroke-width="4.3" fill="none"/>
<path d="M300.82,113.56A117.35,117.35 0 0 1 311.79,81.59" stroke="#d2e634" stroke-width="4.3" fill="none"/>
<path d="M313.23,78.88A117.35,117.35 0 0 1 325.93,60.21" stroke="#b4dc34" stroke-width="4.3" fill="none"/>
<path d="M327.92,57.88A117.35,117.35 0 0 1 349.60,38.60" stroke="#4cc036" stroke-width="4.3" fill="none"/>
<path d="M352.15,36.89A117.35,117.35 0 0 1 374.00,25.73" stroke="#467a1c" stroke-width="4.3" fill="none"/>
<path d="M376.88,24.67A117.35,117.35 0 0 1 412.87,17.95" stroke="#1010c4" stroke-width="4.3" fill="none"/>
<path d="M26.28,89.25A117.35,117.35 0 0 1 28.83,83.66" stroke="#66c83a" stroke-width="4.3" fill="none"/>
<path d="M24.89,92.66A117.35,117.35 0 0 1 26.28,89.25" stroke="#e08420" stroke-width="4.3" fill="none"/>
<path d="M250.72,120.39A117.35,117.35 0 0 1 251.13,124.06" stroke="#58c040" stroke-width="4.3" fill="none"/>
<path d="M251.13,124.06A117.35,117.35 0 0 1 251.42,127.73" stroke="#e8782a" stroke-width="4.3" fill="none"/>
<path d="M18.39,116.74A117.35,117.35 0 0 1 19.03,113.11" stroke="#b8dcb0" stroke-width="4.3" fill="none"/>
<text x="6.5" y="14.6" font-family="Liberation Serif" font-size="12.5" fill="#111">A</text>
<text x="288.6" y="14.6" font-family="Liberation Serif" font-size="12" font-weight="bold" fill="#111">B</text>
</svg>
</body></html>
